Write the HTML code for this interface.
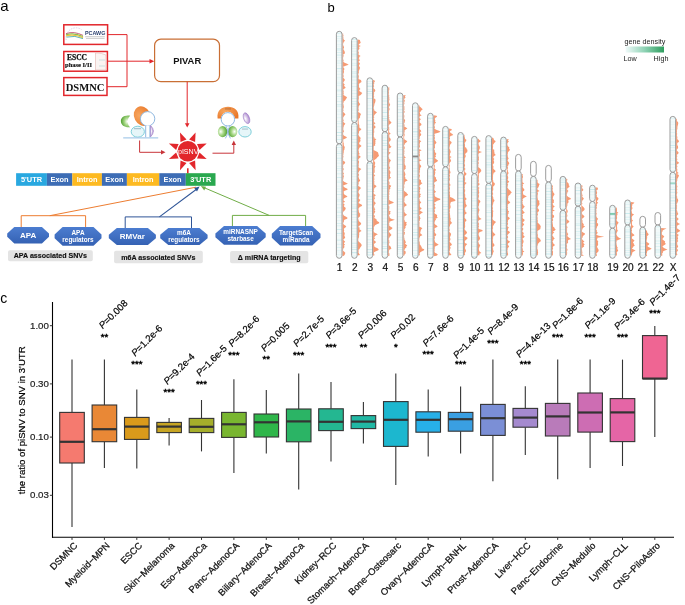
<!DOCTYPE html>
<html><head><meta charset="utf-8"><title>figure</title>
<style>
html,body{margin:0;padding:0;background:#fff;width:685px;height:605px;overflow:hidden}
svg{display:block;will-change:transform}
text{font-family:"Liberation Sans", sans-serif}
</style></head>
<body><svg width="685" height="605" viewBox="0 0 685 605">
<rect width="685" height="605" fill="#fff"/>
<line x1="52.5" y1="302" x2="52.5" y2="537.8" stroke="#000" stroke-width="1.1"/>
<line x1="52.0" y1="537.3" x2="674" y2="537.3" stroke="#000" stroke-width="1.1"/>
<line x1="49.9" y1="325.7" x2="52.5" y2="325.7" stroke="#333" stroke-width="1"/>
<text x="48.9" y="328.8" text-anchor="end" font-size="9.7" fill="#222" stroke="#222" stroke-width="0.2">1.00</text>
<line x1="49.9" y1="383.9" x2="52.5" y2="383.9" stroke="#333" stroke-width="1"/>
<text x="48.9" y="387.0" text-anchor="end" font-size="9.7" fill="#222" stroke="#222" stroke-width="0.2">0.30</text>
<line x1="49.9" y1="437.1" x2="52.5" y2="437.1" stroke="#333" stroke-width="1"/>
<text x="48.9" y="440.2" text-anchor="end" font-size="9.7" fill="#222" stroke="#222" stroke-width="0.2">0.10</text>
<line x1="49.9" y1="495.3" x2="52.5" y2="495.3" stroke="#333" stroke-width="1"/>
<text x="48.9" y="498.4" text-anchor="end" font-size="9.7" fill="#222" stroke="#222" stroke-width="0.2">0.03</text>
<text transform="translate(25.4,420.3) rotate(-90)" text-anchor="middle" font-size="9.6" fill="#000" stroke="#000" stroke-width="0.2">the ratio of piSNV to SNV in 3'UTR</text>
<line x1="72.0" y1="359.6" x2="72.0" y2="412.4" stroke="#333" stroke-width="1.1"/>
<line x1="72.0" y1="463.0" x2="72.0" y2="527.0" stroke="#333" stroke-width="1.1"/>
<rect x="59.7" y="412.4" width="24.6" height="50.6" fill="#F57A6F" stroke="#333" stroke-width="1.1"/>
<line x1="59.7" y1="441.8" x2="84.3" y2="441.8" stroke="#333" stroke-width="2.2"/>
<line x1="72.0" y1="537.3" x2="72.0" y2="539.9" stroke="#333" stroke-width="1"/>
<text transform="translate(78.0,546.2) rotate(-45)" text-anchor="end" font-size="9.4" fill="#111" stroke="#111" stroke-width="0.25">DSMNC</text>
<line x1="104.4" y1="359.6" x2="104.4" y2="405.0" stroke="#333" stroke-width="1.1"/>
<line x1="104.4" y1="441.7" x2="104.4" y2="468.0" stroke="#333" stroke-width="1.1"/>
<rect x="92.1" y="405.0" width="24.6" height="36.7" fill="#E98836" stroke="#333" stroke-width="1.1"/>
<line x1="92.1" y1="429.2" x2="116.7" y2="429.2" stroke="#333" stroke-width="2.2"/>
<line x1="104.4" y1="537.3" x2="104.4" y2="539.9" stroke="#333" stroke-width="1"/>
<text transform="translate(110.4,546.2) rotate(-45)" text-anchor="end" font-size="9.4" fill="#111" stroke="#111" stroke-width="0.25">Myeloid−MPN</text>
<text x="104.4" y="339.6" text-anchor="middle" font-size="9.6" fill="#000" stroke="#000" stroke-width="0.45">**</text>
<text transform="translate(102.8,329.3) rotate(-45)" font-size="9.6" fill="#000" stroke="#000" stroke-width="0.2"><tspan font-style="italic">P</tspan>=0.008</text>
<line x1="136.8" y1="389.6" x2="136.8" y2="417.4" stroke="#333" stroke-width="1.1"/>
<line x1="136.8" y1="439.4" x2="136.8" y2="468.5" stroke="#333" stroke-width="1.1"/>
<rect x="124.5" y="417.4" width="24.6" height="22.0" fill="#DA9A1B" stroke="#333" stroke-width="1.1"/>
<line x1="124.5" y1="426.6" x2="149.1" y2="426.6" stroke="#333" stroke-width="2.2"/>
<line x1="136.8" y1="537.3" x2="136.8" y2="539.9" stroke="#333" stroke-width="1"/>
<text transform="translate(142.8,546.2) rotate(-45)" text-anchor="end" font-size="9.4" fill="#111" stroke="#111" stroke-width="0.25">ESCC</text>
<text x="136.8" y="367.0" text-anchor="middle" font-size="9.6" fill="#000" stroke="#000" stroke-width="0.45">***</text>
<text transform="translate(135.2,356.7) rotate(-45)" font-size="9.6" fill="#000" stroke="#000" stroke-width="0.2"><tspan font-style="italic">P</tspan>=1.2e-6</text>
<line x1="169.1" y1="418.0" x2="169.1" y2="422.4" stroke="#333" stroke-width="1.1"/>
<line x1="169.1" y1="432.6" x2="169.1" y2="445.6" stroke="#333" stroke-width="1.1"/>
<rect x="156.8" y="422.4" width="24.6" height="10.2" fill="#C7A523" stroke="#333" stroke-width="1.1"/>
<line x1="156.8" y1="426.6" x2="181.4" y2="426.6" stroke="#333" stroke-width="2.2"/>
<line x1="169.1" y1="537.3" x2="169.1" y2="539.9" stroke="#333" stroke-width="1"/>
<text transform="translate(175.1,546.2) rotate(-45)" text-anchor="end" font-size="9.4" fill="#111" stroke="#111" stroke-width="0.25">Skin−Melanoma</text>
<text x="169.1" y="395.2" text-anchor="middle" font-size="9.6" fill="#000" stroke="#000" stroke-width="0.45">***</text>
<text transform="translate(167.5,384.9) rotate(-45)" font-size="9.6" fill="#000" stroke="#000" stroke-width="0.2"><tspan font-style="italic">P</tspan>=9.2e-4</text>
<line x1="201.5" y1="400.0" x2="201.5" y2="418.4" stroke="#333" stroke-width="1.1"/>
<line x1="201.5" y1="432.6" x2="201.5" y2="451.4" stroke="#333" stroke-width="1.1"/>
<rect x="189.2" y="418.4" width="24.6" height="14.2" fill="#A5AE2B" stroke="#333" stroke-width="1.1"/>
<line x1="189.2" y1="426.8" x2="213.8" y2="426.8" stroke="#333" stroke-width="2.2"/>
<line x1="201.5" y1="537.3" x2="201.5" y2="539.9" stroke="#333" stroke-width="1"/>
<text transform="translate(207.5,546.2) rotate(-45)" text-anchor="end" font-size="9.4" fill="#111" stroke="#111" stroke-width="0.25">Eso−AdenoCa</text>
<text x="201.5" y="387.0" text-anchor="middle" font-size="9.6" fill="#000" stroke="#000" stroke-width="0.45">***</text>
<text transform="translate(199.9,376.7) rotate(-45)" font-size="9.6" fill="#000" stroke="#000" stroke-width="0.2"><tspan font-style="italic">P</tspan>=1.6e-5</text>
<line x1="233.9" y1="379.2" x2="233.9" y2="412.4" stroke="#333" stroke-width="1.1"/>
<line x1="233.9" y1="437.4" x2="233.9" y2="473.0" stroke="#333" stroke-width="1.1"/>
<rect x="221.6" y="412.4" width="24.6" height="25.0" fill="#79B630" stroke="#333" stroke-width="1.1"/>
<line x1="221.6" y1="424.3" x2="246.2" y2="424.3" stroke="#333" stroke-width="2.2"/>
<line x1="233.9" y1="537.3" x2="233.9" y2="539.9" stroke="#333" stroke-width="1"/>
<text transform="translate(239.9,546.2) rotate(-45)" text-anchor="end" font-size="9.4" fill="#111" stroke="#111" stroke-width="0.25">Panc−AdenoCA</text>
<text x="233.9" y="357.6" text-anchor="middle" font-size="9.6" fill="#000" stroke="#000" stroke-width="0.45">***</text>
<text transform="translate(232.3,347.3) rotate(-45)" font-size="9.6" fill="#000" stroke="#000" stroke-width="0.2"><tspan font-style="italic">P</tspan>=8.2e-6</text>
<line x1="266.3" y1="390.0" x2="266.3" y2="414.0" stroke="#333" stroke-width="1.1"/>
<line x1="266.3" y1="437.0" x2="266.3" y2="453.4" stroke="#333" stroke-width="1.1"/>
<rect x="254.0" y="414.0" width="24.6" height="23.0" fill="#2FB64A" stroke="#333" stroke-width="1.1"/>
<line x1="254.0" y1="422.3" x2="278.6" y2="422.3" stroke="#333" stroke-width="2.2"/>
<line x1="266.3" y1="537.3" x2="266.3" y2="539.9" stroke="#333" stroke-width="1"/>
<text transform="translate(272.3,546.2) rotate(-45)" text-anchor="end" font-size="9.4" fill="#111" stroke="#111" stroke-width="0.25">Biliary−AdenoCA</text>
<text x="266.3" y="362.2" text-anchor="middle" font-size="9.6" fill="#000" stroke="#000" stroke-width="0.45">**</text>
<text transform="translate(264.7,351.9) rotate(-45)" font-size="9.6" fill="#000" stroke="#000" stroke-width="0.2"><tspan font-style="italic">P</tspan>=0.005</text>
<line x1="298.7" y1="373.5" x2="298.7" y2="409.0" stroke="#333" stroke-width="1.1"/>
<line x1="298.7" y1="441.8" x2="298.7" y2="489.6" stroke="#333" stroke-width="1.1"/>
<rect x="286.4" y="409.0" width="24.6" height="32.8" fill="#2BB465" stroke="#333" stroke-width="1.1"/>
<line x1="286.4" y1="421.4" x2="311.0" y2="421.4" stroke="#333" stroke-width="2.2"/>
<line x1="298.7" y1="537.3" x2="298.7" y2="539.9" stroke="#333" stroke-width="1"/>
<text transform="translate(304.7,546.2) rotate(-45)" text-anchor="end" font-size="9.4" fill="#111" stroke="#111" stroke-width="0.25">Breast−AdenoCa</text>
<text x="298.7" y="357.6" text-anchor="middle" font-size="9.6" fill="#000" stroke="#000" stroke-width="0.45">***</text>
<text transform="translate(297.1,347.3) rotate(-45)" font-size="9.6" fill="#000" stroke="#000" stroke-width="0.2"><tspan font-style="italic">P</tspan>=2.7e-5</text>
<line x1="331.0" y1="382.0" x2="331.0" y2="408.8" stroke="#333" stroke-width="1.1"/>
<line x1="331.0" y1="430.6" x2="331.0" y2="461.4" stroke="#333" stroke-width="1.1"/>
<rect x="318.7" y="408.8" width="24.6" height="21.8" fill="#24B791" stroke="#333" stroke-width="1.1"/>
<line x1="318.7" y1="421.8" x2="343.3" y2="421.8" stroke="#333" stroke-width="2.2"/>
<line x1="331.0" y1="537.3" x2="331.0" y2="539.9" stroke="#333" stroke-width="1"/>
<text transform="translate(337.0,546.2) rotate(-45)" text-anchor="end" font-size="9.4" fill="#111" stroke="#111" stroke-width="0.25">Kidney−RCC</text>
<text x="331.0" y="349.6" text-anchor="middle" font-size="9.6" fill="#000" stroke="#000" stroke-width="0.45">***</text>
<text transform="translate(329.4,339.3) rotate(-45)" font-size="9.6" fill="#000" stroke="#000" stroke-width="0.2"><tspan font-style="italic">P</tspan>=3.6e-5</text>
<line x1="363.4" y1="402.0" x2="363.4" y2="415.6" stroke="#333" stroke-width="1.1"/>
<line x1="363.4" y1="428.6" x2="363.4" y2="443.6" stroke="#333" stroke-width="1.1"/>
<rect x="351.1" y="415.6" width="24.6" height="13.0" fill="#21B8A4" stroke="#333" stroke-width="1.1"/>
<line x1="351.1" y1="421.6" x2="375.7" y2="421.6" stroke="#333" stroke-width="2.2"/>
<line x1="363.4" y1="537.3" x2="363.4" y2="539.9" stroke="#333" stroke-width="1"/>
<text transform="translate(369.4,546.2) rotate(-45)" text-anchor="end" font-size="9.4" fill="#111" stroke="#111" stroke-width="0.25">Stomach−AdenoCA</text>
<text x="363.4" y="349.6" text-anchor="middle" font-size="9.6" fill="#000" stroke="#000" stroke-width="0.45">**</text>
<text transform="translate(361.8,339.3) rotate(-45)" font-size="9.6" fill="#000" stroke="#000" stroke-width="0.2"><tspan font-style="italic">P</tspan>=0.006</text>
<line x1="395.8" y1="373.5" x2="395.8" y2="401.6" stroke="#333" stroke-width="1.1"/>
<line x1="395.8" y1="446.4" x2="395.8" y2="485.0" stroke="#333" stroke-width="1.1"/>
<rect x="383.5" y="401.6" width="24.6" height="44.8" fill="#1CB7CF" stroke="#333" stroke-width="1.1"/>
<line x1="383.5" y1="419.8" x2="408.1" y2="419.8" stroke="#333" stroke-width="2.2"/>
<line x1="395.8" y1="537.3" x2="395.8" y2="539.9" stroke="#333" stroke-width="1"/>
<text transform="translate(401.8,546.2) rotate(-45)" text-anchor="end" font-size="9.4" fill="#111" stroke="#111" stroke-width="0.25">Bone−Osteosarc</text>
<text x="395.8" y="349.6" text-anchor="middle" font-size="9.6" fill="#000" stroke="#000" stroke-width="0.45">*</text>
<text transform="translate(394.2,339.3) rotate(-45)" font-size="9.6" fill="#000" stroke="#000" stroke-width="0.2"><tspan font-style="italic">P</tspan>=0.02</text>
<line x1="428.2" y1="389.6" x2="428.2" y2="411.8" stroke="#333" stroke-width="1.1"/>
<line x1="428.2" y1="432.2" x2="428.2" y2="456.6" stroke="#333" stroke-width="1.1"/>
<rect x="415.9" y="411.8" width="24.6" height="20.4" fill="#27B0E8" stroke="#333" stroke-width="1.1"/>
<line x1="415.9" y1="419.8" x2="440.5" y2="419.8" stroke="#333" stroke-width="2.2"/>
<line x1="428.2" y1="537.3" x2="428.2" y2="539.9" stroke="#333" stroke-width="1"/>
<text transform="translate(434.2,546.2) rotate(-45)" text-anchor="end" font-size="9.4" fill="#111" stroke="#111" stroke-width="0.25">Ovary−AdenoCA</text>
<text x="428.2" y="357.2" text-anchor="middle" font-size="9.6" fill="#000" stroke="#000" stroke-width="0.45">***</text>
<text transform="translate(426.6,346.9) rotate(-45)" font-size="9.6" fill="#000" stroke="#000" stroke-width="0.2"><tspan font-style="italic">P</tspan>=7.6e-6</text>
<line x1="460.6" y1="386.4" x2="460.6" y2="412.4" stroke="#333" stroke-width="1.1"/>
<line x1="460.6" y1="431.2" x2="460.6" y2="453.4" stroke="#333" stroke-width="1.1"/>
<rect x="448.3" y="412.4" width="24.6" height="18.8" fill="#3A9FE2" stroke="#333" stroke-width="1.1"/>
<line x1="448.3" y1="419.2" x2="472.9" y2="419.2" stroke="#333" stroke-width="2.2"/>
<line x1="460.6" y1="537.3" x2="460.6" y2="539.9" stroke="#333" stroke-width="1"/>
<text transform="translate(466.6,546.2) rotate(-45)" text-anchor="end" font-size="9.4" fill="#111" stroke="#111" stroke-width="0.25">Lymph−BNHL</text>
<text x="460.6" y="367.2" text-anchor="middle" font-size="9.6" fill="#000" stroke="#000" stroke-width="0.45">***</text>
<text transform="translate(457.0,358.9) rotate(-45)" font-size="9.6" fill="#000" stroke="#000" stroke-width="0.2"><tspan font-style="italic">P</tspan>=1.4e-5</text>
<line x1="492.9" y1="359.6" x2="492.9" y2="404.4" stroke="#333" stroke-width="1.1"/>
<line x1="492.9" y1="435.4" x2="492.9" y2="481.2" stroke="#333" stroke-width="1.1"/>
<rect x="480.6" y="404.4" width="24.6" height="31.0" fill="#7B8FD6" stroke="#333" stroke-width="1.1"/>
<line x1="480.6" y1="418.2" x2="505.2" y2="418.2" stroke="#333" stroke-width="2.2"/>
<line x1="492.9" y1="537.3" x2="492.9" y2="539.9" stroke="#333" stroke-width="1"/>
<text transform="translate(498.9,546.2) rotate(-45)" text-anchor="end" font-size="9.4" fill="#111" stroke="#111" stroke-width="0.25">Prost−AdenoCA</text>
<text x="492.9" y="345.6" text-anchor="middle" font-size="9.6" fill="#000" stroke="#000" stroke-width="0.45">***</text>
<text transform="translate(491.3,335.3) rotate(-45)" font-size="9.6" fill="#000" stroke="#000" stroke-width="0.2"><tspan font-style="italic">P</tspan>=8.4e-9</text>
<line x1="525.3" y1="386.2" x2="525.3" y2="408.4" stroke="#333" stroke-width="1.1"/>
<line x1="525.3" y1="427.2" x2="525.3" y2="455.0" stroke="#333" stroke-width="1.1"/>
<rect x="513.0" y="408.4" width="24.6" height="18.8" fill="#A58ACF" stroke="#333" stroke-width="1.1"/>
<line x1="513.0" y1="417.6" x2="537.6" y2="417.6" stroke="#333" stroke-width="2.2"/>
<line x1="525.3" y1="537.3" x2="525.3" y2="539.9" stroke="#333" stroke-width="1"/>
<text transform="translate(531.3,546.2) rotate(-45)" text-anchor="end" font-size="9.4" fill="#111" stroke="#111" stroke-width="0.25">Liver−HCC</text>
<text x="525.3" y="367.2" text-anchor="middle" font-size="9.6" fill="#000" stroke="#000" stroke-width="0.45">***</text>
<text transform="translate(519.7,357.9) rotate(-45)" font-size="9.6" fill="#000" stroke="#000" stroke-width="0.2"><tspan font-style="italic">P</tspan>=4.4e-13</text>
<line x1="557.7" y1="359.5" x2="557.7" y2="403.4" stroke="#333" stroke-width="1.1"/>
<line x1="557.7" y1="436.0" x2="557.7" y2="479.2" stroke="#333" stroke-width="1.1"/>
<rect x="545.4" y="403.4" width="24.6" height="32.6" fill="#B97BBA" stroke="#333" stroke-width="1.1"/>
<line x1="545.4" y1="416.4" x2="570.0" y2="416.4" stroke="#333" stroke-width="2.2"/>
<line x1="557.7" y1="537.3" x2="557.7" y2="539.9" stroke="#333" stroke-width="1"/>
<text transform="translate(563.7,546.2) rotate(-45)" text-anchor="end" font-size="9.4" fill="#111" stroke="#111" stroke-width="0.25">Panc−Endocrine</text>
<text x="557.7" y="339.6" text-anchor="middle" font-size="9.6" fill="#000" stroke="#000" stroke-width="0.45">***</text>
<text transform="translate(556.1,329.3) rotate(-45)" font-size="9.6" fill="#000" stroke="#000" stroke-width="0.2"><tspan font-style="italic">P</tspan>=1.8e-6</text>
<line x1="590.1" y1="359.5" x2="590.1" y2="393.0" stroke="#333" stroke-width="1.1"/>
<line x1="590.1" y1="432.1" x2="590.1" y2="468.0" stroke="#333" stroke-width="1.1"/>
<rect x="577.8" y="393.0" width="24.6" height="39.1" fill="#CD6DB3" stroke="#333" stroke-width="1.1"/>
<line x1="577.8" y1="412.5" x2="602.4" y2="412.5" stroke="#333" stroke-width="2.2"/>
<line x1="590.1" y1="537.3" x2="590.1" y2="539.9" stroke="#333" stroke-width="1"/>
<text transform="translate(596.1,546.2) rotate(-45)" text-anchor="end" font-size="9.4" fill="#111" stroke="#111" stroke-width="0.25">CNS−Medullo</text>
<text x="590.1" y="339.6" text-anchor="middle" font-size="9.6" fill="#000" stroke="#000" stroke-width="0.45">***</text>
<text transform="translate(588.5,329.3) rotate(-45)" font-size="9.6" fill="#000" stroke="#000" stroke-width="0.2"><tspan font-style="italic">P</tspan>=1.1e-9</text>
<line x1="622.5" y1="359.6" x2="622.5" y2="398.6" stroke="#333" stroke-width="1.1"/>
<line x1="622.5" y1="441.6" x2="622.5" y2="466.0" stroke="#333" stroke-width="1.1"/>
<rect x="610.2" y="398.6" width="24.6" height="43.0" fill="#E565A6" stroke="#333" stroke-width="1.1"/>
<line x1="610.2" y1="412.4" x2="634.8" y2="412.4" stroke="#333" stroke-width="2.2"/>
<line x1="622.5" y1="537.3" x2="622.5" y2="539.9" stroke="#333" stroke-width="1"/>
<text transform="translate(628.5,546.2) rotate(-45)" text-anchor="end" font-size="9.4" fill="#111" stroke="#111" stroke-width="0.25">Lymph−CLL</text>
<text x="622.5" y="339.6" text-anchor="middle" font-size="9.6" fill="#000" stroke="#000" stroke-width="0.45">***</text>
<text transform="translate(617.9,330.3) rotate(-45)" font-size="9.6" fill="#000" stroke="#000" stroke-width="0.2"><tspan font-style="italic">P</tspan>=3.4e-6</text>
<line x1="654.8" y1="326.0" x2="654.8" y2="335.6" stroke="#333" stroke-width="1.1"/>
<line x1="654.8" y1="378.6" x2="654.8" y2="437.0" stroke="#333" stroke-width="1.1"/>
<rect x="642.5" y="335.6" width="24.6" height="43.0" fill="#EF6593" stroke="#333" stroke-width="1.1"/>
<line x1="642.5" y1="378.6" x2="667.1" y2="378.6" stroke="#333" stroke-width="2.2"/>
<line x1="654.8" y1="537.3" x2="654.8" y2="539.9" stroke="#333" stroke-width="1"/>
<text transform="translate(660.8,546.2) rotate(-45)" text-anchor="end" font-size="9.4" fill="#111" stroke="#111" stroke-width="0.25">CNS−PiloAstro</text>
<text x="654.8" y="316.2" text-anchor="middle" font-size="9.6" fill="#000" stroke="#000" stroke-width="0.45">***</text>
<text transform="translate(653.2,305.9) rotate(-45)" font-size="9.6" fill="#000" stroke="#000" stroke-width="0.2"><tspan font-style="italic">P</tspan>=1.4e-7</text>
<text x="0.3" y="302.6" font-size="14" fill="#000">c</text>
<defs><clipPath id="cp0_0"><rect x="336.4" y="31.3" width="5.6" height="112.5" rx="2.8"/></clipPath><clipPath id="cp0_1"><rect x="336.4" y="143.8" width="5.6" height="114.5" rx="2.8"/></clipPath><clipPath id="cp1_0"><rect x="351.6" y="37.6" width="5.6" height="84.9" rx="2.8"/></clipPath><clipPath id="cp1_1"><rect x="351.6" y="122.5" width="5.6" height="135.8" rx="2.8"/></clipPath><clipPath id="cp2_0"><rect x="367.0" y="77.8" width="5.6" height="83.7" rx="2.8"/></clipPath><clipPath id="cp2_1"><rect x="367.0" y="161.5" width="5.6" height="96.8" rx="2.8"/></clipPath><clipPath id="cp3_0"><rect x="382.1" y="85.2" width="5.6" height="46.5" rx="2.8"/></clipPath><clipPath id="cp3_1"><rect x="382.1" y="131.7" width="5.6" height="126.6" rx="2.8"/></clipPath><clipPath id="cp4_0"><rect x="397.3" y="93.0" width="5.6" height="44.0" rx="2.8"/></clipPath><clipPath id="cp4_1"><rect x="397.3" y="137.0" width="5.6" height="121.3" rx="2.8"/></clipPath><clipPath id="cp5_0"><rect x="412.5" y="102.8" width="5.6" height="155.5" rx="2.8"/></clipPath><clipPath id="cp6_0"><rect x="427.6" y="113.3" width="5.6" height="53.7" rx="2.8"/></clipPath><clipPath id="cp6_1"><rect x="427.6" y="167.0" width="5.6" height="91.3" rx="2.8"/></clipPath><clipPath id="cp7_0"><rect x="442.7" y="126.4" width="5.6" height="40.4" rx="2.8"/></clipPath><clipPath id="cp7_1"><rect x="442.7" y="166.8" width="5.6" height="91.5" rx="2.8"/></clipPath><clipPath id="cp8_0"><rect x="457.8" y="132.5" width="5.6" height="40.3" rx="2.8"/></clipPath><clipPath id="cp8_1"><rect x="457.8" y="172.8" width="5.6" height="85.5" rx="2.8"/></clipPath><clipPath id="cp9_0"><rect x="471.6" y="136.4" width="5.6" height="37.2" rx="2.8"/></clipPath><clipPath id="cp9_1"><rect x="471.6" y="173.6" width="5.6" height="84.7" rx="2.8"/></clipPath><clipPath id="cp10_0"><rect x="485.9" y="135.6" width="5.6" height="47.8" rx="2.8"/></clipPath><clipPath id="cp10_1"><rect x="485.9" y="183.4" width="5.6" height="74.9" rx="2.8"/></clipPath><clipPath id="cp11_0"><rect x="500.7" y="137.1" width="5.6" height="33.9" rx="2.8"/></clipPath><clipPath id="cp11_1"><rect x="500.7" y="171.0" width="5.6" height="87.3" rx="2.8"/></clipPath><clipPath id="cp12_0"><rect x="515.6" y="154.4" width="5.6" height="16.6" rx="2.8"/></clipPath><clipPath id="cp12_1"><rect x="515.6" y="171.0" width="5.6" height="87.3" rx="2.8"/></clipPath><clipPath id="cp13_0"><rect x="530.6" y="161.3" width="5.6" height="15.1" rx="2.8"/></clipPath><clipPath id="cp13_1"><rect x="530.6" y="176.4" width="5.6" height="81.9" rx="2.8"/></clipPath><clipPath id="cp14_0"><rect x="545.7" y="165.4" width="5.6" height="16.6" rx="2.8"/></clipPath><clipPath id="cp14_1"><rect x="545.7" y="182.0" width="5.6" height="76.3" rx="2.8"/></clipPath><clipPath id="cp15_0"><rect x="560.1" y="176.4" width="5.6" height="33.9" rx="2.8"/></clipPath><clipPath id="cp15_1"><rect x="560.1" y="210.3" width="5.6" height="48.0" rx="2.8"/></clipPath><clipPath id="cp16_0"><rect x="575.2" y="183.0" width="5.6" height="23.2" rx="2.8"/></clipPath><clipPath id="cp16_1"><rect x="575.2" y="206.2" width="5.6" height="52.1" rx="2.8"/></clipPath><clipPath id="cp17_0"><rect x="589.6" y="185.2" width="5.6" height="16.3" rx="2.8"/></clipPath><clipPath id="cp17_1"><rect x="589.6" y="201.5" width="5.6" height="56.8" rx="2.8"/></clipPath><clipPath id="cp18_0"><rect x="609.7" y="205.3" width="5.6" height="22.9" rx="2.8"/></clipPath><clipPath id="cp18_1"><rect x="609.7" y="228.2" width="5.6" height="30.1" rx="2.8"/></clipPath><clipPath id="cp19_0"><rect x="624.8" y="200.0" width="5.6" height="25.0" rx="2.8"/></clipPath><clipPath id="cp19_1"><rect x="624.8" y="225.0" width="5.6" height="33.3" rx="2.8"/></clipPath><clipPath id="cp20_0"><rect x="639.9" y="216.3" width="5.6" height="10.9" rx="2.8"/></clipPath><clipPath id="cp20_1"><rect x="639.9" y="227.2" width="5.6" height="31.1" rx="2.8"/></clipPath><clipPath id="cp21_0"><rect x="655.0" y="212.5" width="5.6" height="12.5" rx="2.8"/></clipPath><clipPath id="cp21_1"><rect x="655.0" y="225.0" width="5.6" height="33.3" rx="2.8"/></clipPath><clipPath id="cp22_0"><rect x="670.0" y="116.4" width="5.6" height="55.9" rx="2.8"/></clipPath><clipPath id="cp22_1"><rect x="670.0" y="172.3" width="5.6" height="86.0" rx="2.8"/></clipPath></defs>
<text x="327.5" y="12" font-size="13" fill="#000">b</text>
<polygon points="342.5,33.3 343.3,33.8 343.1,34.8 343.6,35.8 343.1,36.8 343.5,37.8 343.4,38.8 343.9,39.8 345.1,40.8 343.9,41.8 343.5,42.8 343.1,43.8 343.1,44.8 343.4,45.8 343.9,46.8 344.1,47.8 343.4,48.8 343.6,49.8 344.3,50.8 344.7,51.8 344.9,52.8 344.6,53.8 343.0,54.8 343.8,55.8 343.3,56.8 343.1,57.8 343.1,58.8 343.3,59.8 343.7,60.8 343.2,61.8 344.6,62.8 347.1,63.8 348.7,64.8 345.7,65.8 343.1,66.8 343.7,67.8 344.4,68.8 344.2,69.8 343.7,70.8 344.1,71.8 343.8,72.8 343.4,73.8 343.3,74.8 343.7,75.8 343.6,76.8 343.2,77.8 344.2,78.8 344.9,79.8 344.5,80.8 343.7,81.8 343.3,82.8 343.9,83.8 344.9,84.8 343.8,85.8 345.0,86.8 345.7,87.8 344.3,88.8 343.0,89.8 343.6,90.8 343.7,91.8 343.5,92.8 343.8,93.8 343.3,94.8 344.6,95.8 346.4,96.8 347.1,97.8 346.1,98.8 345.6,99.8 344.8,100.8 343.5,101.8 343.6,102.8 343.1,103.8 343.6,104.8 343.6,105.8 343.9,106.8 343.7,107.8 343.3,108.8 343.3,109.8 343.6,110.8 343.0,111.8 344.0,112.8 345.0,113.8 345.4,114.8 344.2,115.8 343.7,116.8 343.1,117.8 343.2,118.8 343.4,119.8 343.8,120.8 343.1,121.8 344.2,122.8 345.4,123.8 344.6,124.8 343.7,125.8 343.8,126.8 343.3,127.8 343.4,128.8 343.3,129.8 343.8,130.8 343.9,131.8 343.1,132.8 343.2,133.8 343.2,134.8 344.1,135.8 346.2,136.8 347.0,137.8 344.9,138.8 343.0,139.8 343.4,140.8 343.3,141.8 343.5,142.8 343.9,143.8 343.7,144.8 344.0,145.8 344.6,146.8 344.8,147.8 344.4,148.8 344.4,149.8 343.7,150.8 343.8,151.8 343.7,152.8 343.4,153.8 343.4,154.8 343.1,155.8 343.6,156.8 343.1,157.8 343.1,158.8 343.2,159.8 343.2,160.8 344.9,161.8 345.2,162.8 344.5,163.8 343.3,164.8 343.1,165.8 343.3,166.8 343.0,167.8 343.8,168.8 343.6,169.8 343.1,170.8 343.2,171.8 343.3,172.8 344.1,173.8 343.1,174.8 343.8,175.8 343.9,176.8 343.4,177.8 343.4,178.8 343.1,179.8 343.1,180.8 344.1,181.8 346.1,182.8 347.9,183.8 345.0,184.8 343.0,185.8 343.9,186.8 345.0,187.8 347.3,188.8 347.6,189.8 344.7,190.8 343.5,191.8 343.9,192.8 343.8,193.8 344.7,194.8 346.5,195.8 347.5,196.8 345.1,197.8 343.7,198.8 343.5,199.8 343.7,200.8 345.2,201.8 343.2,202.8 343.7,203.8 344.8,204.8 343.8,205.8 344.2,206.8 345.6,207.8 345.7,208.8 345.2,209.8 344.4,210.8 343.3,211.8 343.0,212.8 343.0,213.8 343.3,214.8 344.1,215.8 346.1,216.8 347.5,217.8 347.2,218.8 344.4,219.8 343.9,220.8 343.9,221.8 343.3,222.8 343.2,223.8 344.0,224.8 345.6,225.8 346.3,226.8 345.0,227.8 343.8,228.8 344.0,229.8 344.2,230.8 343.8,231.8 344.6,232.8 344.8,233.8 344.5,234.8 344.3,235.8 344.9,236.8 345.2,237.8 344.2,238.8 343.2,239.8 344.2,240.8 345.2,241.8 344.2,242.8 343.9,243.8 345.2,244.8 343.8,245.8 344.6,246.8 344.1,247.8 343.2,248.8 343.1,249.8 343.1,250.8 344.3,251.8 345.3,252.8 345.1,253.8 344.7,254.8 343.9,255.8 342.5,256.3" fill="#F58A5C" fill-opacity="0.85"/>
<g clip-path="url(#cp0_0)"><rect x="336.4" y="31.3" width="5.6" height="112.5" fill="#F3FAFA"/><rect x="336.4" y="32.8" width="5.6" height="0.9" fill="#D4EFF1"/><rect x="336.4" y="36.4" width="5.6" height="0.5" fill="#CBECEF"/><rect x="336.4" y="38.1" width="5.6" height="1.0" fill="#E5F6F7"/><rect x="336.4" y="40.4" width="5.6" height="1.1" fill="#E5F6F7"/><rect x="336.4" y="44.2" width="5.6" height="0.5" fill="#DDF3F4"/><rect x="336.4" y="45.8" width="5.6" height="0.7" fill="#E5F6F7"/><rect x="336.4" y="48.1" width="5.6" height="0.5" fill="#CBECEF"/><rect x="336.4" y="49.6" width="5.6" height="0.7" fill="#CBECEF"/><rect x="336.4" y="52.3" width="5.6" height="0.7" fill="#D4EFF1"/><rect x="336.4" y="54.7" width="5.6" height="0.8" fill="#CBECEF"/><rect x="336.4" y="57.4" width="5.6" height="0.4" fill="#DDF3F4"/><rect x="336.4" y="60.7" width="5.6" height="0.5" fill="#CBECEF"/><rect x="336.4" y="62.6" width="5.6" height="1.0" fill="#DDF3F4"/><rect x="336.4" y="65.0" width="5.6" height="0.5" fill="#E5F6F7"/><rect x="336.4" y="68.2" width="5.6" height="0.9" fill="#CBECEF"/><rect x="336.4" y="70.8" width="5.6" height="0.8" fill="#E5F6F7"/><rect x="336.4" y="73.9" width="5.6" height="0.5" fill="#D4EFF1"/><rect x="336.4" y="76.9" width="5.6" height="0.5" fill="#D4EFF1"/><rect x="336.4" y="78.8" width="5.6" height="0.4" fill="#D4EFF1"/><rect x="336.4" y="81.8" width="5.6" height="0.5" fill="#DDF3F4"/><rect x="336.4" y="83.2" width="5.6" height="1.0" fill="#E5F6F7"/><rect x="336.4" y="85.0" width="5.6" height="1.1" fill="#E5F6F7"/><rect x="336.4" y="89.0" width="5.6" height="0.6" fill="#DDF3F4"/><rect x="336.4" y="90.4" width="5.6" height="0.9" fill="#D4EFF1"/><rect x="336.4" y="94.3" width="5.6" height="0.6" fill="#DDF3F4"/><rect x="336.4" y="96.1" width="5.6" height="0.6" fill="#CBECEF"/><rect x="336.4" y="98.7" width="5.6" height="0.5" fill="#E5F6F7"/><rect x="336.4" y="101.1" width="5.6" height="0.5" fill="#CBECEF"/><rect x="336.4" y="104.2" width="5.6" height="1.1" fill="#D4EFF1"/><rect x="336.4" y="106.2" width="5.6" height="0.9" fill="#DDF3F4"/><rect x="336.4" y="109.0" width="5.6" height="0.6" fill="#E5F6F7"/><rect x="336.4" y="110.6" width="5.6" height="1.0" fill="#E5F6F7"/><rect x="336.4" y="113.8" width="5.6" height="0.8" fill="#E5F6F7"/><rect x="336.4" y="117.5" width="5.6" height="0.6" fill="#DDF3F4"/><rect x="336.4" y="121.1" width="5.6" height="0.6" fill="#DDF3F4"/><rect x="336.4" y="123.5" width="5.6" height="0.6" fill="#D4EFF1"/><rect x="336.4" y="126.7" width="5.6" height="0.4" fill="#CBECEF"/><rect x="336.4" y="128.9" width="5.6" height="0.4" fill="#E5F6F7"/><rect x="336.4" y="132.0" width="5.6" height="0.9" fill="#CBECEF"/><rect x="336.4" y="135.0" width="5.6" height="0.9" fill="#D4EFF1"/><rect x="336.4" y="137.7" width="5.6" height="0.5" fill="#E5F6F7"/><rect x="336.4" y="139.0" width="5.6" height="0.7" fill="#CBECEF"/></g>
<rect x="336.4" y="31.3" width="5.6" height="112.5" rx="2.8" fill="none" stroke="#979797" stroke-width="0.95"/>
<g clip-path="url(#cp0_1)"><rect x="336.4" y="143.8" width="5.6" height="114.5" fill="#F3FAFA"/><rect x="336.4" y="145.3" width="5.6" height="0.8" fill="#DDF3F4"/><rect x="336.4" y="147.0" width="5.6" height="1.0" fill="#DDF3F4"/><rect x="336.4" y="149.6" width="5.6" height="0.4" fill="#E5F6F7"/><rect x="336.4" y="150.9" width="5.6" height="0.6" fill="#DDF3F4"/><rect x="336.4" y="152.9" width="5.6" height="0.9" fill="#D4EFF1"/><rect x="336.4" y="155.2" width="5.6" height="0.5" fill="#E5F6F7"/><rect x="336.4" y="157.8" width="5.6" height="0.7" fill="#CBECEF"/><rect x="336.4" y="159.9" width="5.6" height="0.6" fill="#DDF3F4"/><rect x="336.4" y="162.7" width="5.6" height="0.9" fill="#E5F6F7"/><rect x="336.4" y="166.1" width="5.6" height="0.9" fill="#E5F6F7"/><rect x="336.4" y="168.1" width="5.6" height="0.9" fill="#DDF3F4"/><rect x="336.4" y="169.9" width="5.6" height="1.0" fill="#E5F6F7"/><rect x="336.4" y="173.3" width="5.6" height="1.0" fill="#DDF3F4"/><rect x="336.4" y="177.1" width="5.6" height="0.9" fill="#D4EFF1"/><rect x="336.4" y="180.7" width="5.6" height="0.8" fill="#DDF3F4"/><rect x="336.4" y="182.5" width="5.6" height="0.4" fill="#CBECEF"/><rect x="336.4" y="185.8" width="5.6" height="0.7" fill="#E5F6F7"/><rect x="336.4" y="188.5" width="5.6" height="0.8" fill="#DDF3F4"/><rect x="336.4" y="191.2" width="5.6" height="0.4" fill="#D4EFF1"/><rect x="336.4" y="194.0" width="5.6" height="0.8" fill="#D4EFF1"/><rect x="336.4" y="197.0" width="5.6" height="0.4" fill="#E5F6F7"/><rect x="336.4" y="198.9" width="5.6" height="0.5" fill="#CBECEF"/><rect x="336.4" y="200.6" width="5.6" height="0.9" fill="#DDF3F4"/><rect x="336.4" y="204.0" width="5.6" height="1.1" fill="#E5F6F7"/><rect x="336.4" y="207.7" width="5.6" height="0.5" fill="#CBECEF"/><rect x="336.4" y="210.7" width="5.6" height="0.8" fill="#DDF3F4"/><rect x="336.4" y="212.5" width="5.6" height="0.5" fill="#CBECEF"/><rect x="336.4" y="215.2" width="5.6" height="0.9" fill="#DDF3F4"/><rect x="336.4" y="216.9" width="5.6" height="0.4" fill="#CBECEF"/><rect x="336.4" y="220.3" width="5.6" height="0.5" fill="#DDF3F4"/><rect x="336.4" y="223.1" width="5.6" height="0.6" fill="#CBECEF"/><rect x="336.4" y="225.5" width="5.6" height="0.7" fill="#D4EFF1"/><rect x="336.4" y="229.2" width="5.6" height="0.8" fill="#CBECEF"/><rect x="336.4" y="232.9" width="5.6" height="1.1" fill="#D4EFF1"/><rect x="336.4" y="235.4" width="5.6" height="0.5" fill="#E5F6F7"/><rect x="336.4" y="238.9" width="5.6" height="0.7" fill="#DDF3F4"/><rect x="336.4" y="240.5" width="5.6" height="0.5" fill="#CBECEF"/><rect x="336.4" y="243.9" width="5.6" height="0.5" fill="#CBECEF"/><rect x="336.4" y="247.1" width="5.6" height="0.9" fill="#DDF3F4"/><rect x="336.4" y="249.9" width="5.6" height="1.0" fill="#E5F6F7"/><rect x="336.4" y="251.8" width="5.6" height="0.4" fill="#E5F6F7"/><rect x="336.4" y="254.5" width="5.6" height="0.7" fill="#DDF3F4"/></g>
<rect x="336.4" y="143.8" width="5.6" height="114.5" rx="2.8" fill="none" stroke="#979797" stroke-width="0.95"/>
<text x="339.6" y="270.8" text-anchor="middle" font-size="10.1" fill="#111" stroke="#111" stroke-width="0.2">1</text>
<polygon points="357.7,39.6 360.1,40.1 359.9,41.1 360.7,42.1 360.5,43.1 359.2,44.1 358.6,45.1 360.8,46.1 358.8,47.1 359.5,48.1 359.3,49.1 358.4,50.1 358.3,51.1 358.6,52.1 359.0,53.1 358.3,54.1 359.0,55.1 360.6,56.1 359.0,57.1 359.4,58.1 358.6,59.1 360.1,60.1 359.1,61.1 358.4,62.1 359.7,63.1 359.8,64.1 359.1,65.1 359.0,66.1 359.6,67.1 360.1,68.1 359.5,69.1 359.4,70.1 358.6,71.1 359.0,72.1 358.7,73.1 358.4,74.1 358.3,75.1 359.0,76.1 358.6,77.1 358.8,78.1 358.4,79.1 360.9,80.1 361.3,81.1 361.5,82.1 360.0,83.1 358.9,84.1 358.9,85.1 359.1,86.1 358.8,87.1 359.7,88.1 360.4,89.1 359.4,90.1 359.3,91.1 360.8,92.1 362.3,93.1 361.5,94.1 360.7,95.1 358.8,96.1 358.7,97.1 358.9,98.1 358.7,99.1 358.6,100.1 358.5,101.1 358.9,102.1 359.2,103.1 360.2,104.1 359.7,105.1 358.8,106.1 358.7,107.1 358.5,108.1 358.5,109.1 358.9,110.1 358.4,111.1 358.2,112.1 360.0,113.1 360.8,114.1 360.8,115.1 359.9,116.1 360.2,117.1 359.7,118.1 358.6,119.1 358.7,120.1 358.5,121.1 358.8,122.1 358.7,123.1 358.9,124.1 359.2,125.1 359.4,126.1 359.2,127.1 359.7,128.1 361.4,129.1 360.9,130.1 359.3,131.1 358.9,132.1 359.1,133.1 358.3,134.1 358.6,135.1 359.0,136.1 359.8,137.1 360.8,138.1 360.3,139.1 360.2,140.1 360.7,141.1 359.6,142.1 359.3,143.1 359.0,144.1 360.5,145.1 361.5,146.1 360.4,147.1 359.1,148.1 359.1,149.1 358.3,150.1 358.9,151.1 358.8,152.1 359.0,153.1 359.8,154.1 358.3,155.1 360.0,156.1 360.8,157.1 359.5,158.1 358.7,159.1 358.2,160.1 358.8,161.1 359.1,162.1 358.8,163.1 358.7,164.1 358.6,165.1 358.9,166.1 358.3,167.1 359.5,168.1 361.3,169.1 360.3,170.1 359.2,171.1 358.9,172.1 358.2,173.1 358.7,174.1 359.1,175.1 358.5,176.1 358.5,177.1 359.0,178.1 359.1,179.1 360.1,180.1 360.0,181.1 358.7,182.1 358.6,183.1 358.8,184.1 358.2,185.1 358.4,186.1 360.0,187.1 361.0,188.1 360.2,189.1 359.1,190.1 358.6,191.1 358.5,192.1 358.6,193.1 359.3,194.1 359.8,195.1 359.3,196.1 359.2,197.1 358.5,198.1 359.1,199.1 360.4,200.1 359.6,201.1 359.1,202.1 358.4,203.1 360.5,204.1 362.1,205.1 361.9,206.1 359.7,207.1 359.0,208.1 358.3,209.1 358.8,210.1 358.7,211.1 359.0,212.1 359.3,213.1 360.5,214.1 359.7,215.1 360.3,216.1 359.2,217.1 358.2,218.1 358.2,219.1 358.7,220.1 358.7,221.1 359.9,222.1 361.0,223.1 361.1,224.1 360.3,225.1 359.0,226.1 358.3,227.1 360.1,228.1 359.0,229.1 360.5,230.1 361.5,231.1 359.8,232.1 359.0,233.1 359.3,234.1 359.2,235.1 359.0,236.1 359.1,237.1 358.6,238.1 358.3,239.1 358.3,240.1 358.3,241.1 359.1,242.1 360.4,243.1 361.1,244.1 361.8,245.1 361.4,246.1 360.7,247.1 359.9,248.1 359.6,249.1 358.3,250.1 358.8,251.1 358.4,252.1 358.7,253.1 359.3,254.1 360.0,255.1 357.7,255.6" fill="#F58A5C" fill-opacity="0.85"/>
<g clip-path="url(#cp1_0)"><rect x="351.6" y="37.6" width="5.6" height="84.9" fill="#F3FAFA"/><rect x="351.6" y="39.1" width="5.6" height="0.6" fill="#CBECEF"/><rect x="351.6" y="41.3" width="5.6" height="0.9" fill="#DDF3F4"/><rect x="351.6" y="44.0" width="5.6" height="0.5" fill="#DDF3F4"/><rect x="351.6" y="45.7" width="5.6" height="1.0" fill="#DDF3F4"/><rect x="351.6" y="48.2" width="5.6" height="0.7" fill="#DDF3F4"/><rect x="351.6" y="50.8" width="5.6" height="0.6" fill="#D4EFF1"/><rect x="351.6" y="53.6" width="5.6" height="1.1" fill="#D4EFF1"/><rect x="351.6" y="55.5" width="5.6" height="1.0" fill="#DDF3F4"/><rect x="351.6" y="59.2" width="5.6" height="1.0" fill="#D4EFF1"/><rect x="351.6" y="62.9" width="5.6" height="0.6" fill="#D4EFF1"/><rect x="351.6" y="64.7" width="5.6" height="1.1" fill="#DDF3F4"/><rect x="351.6" y="68.7" width="5.6" height="0.7" fill="#DDF3F4"/><rect x="351.6" y="71.1" width="5.6" height="0.6" fill="#D4EFF1"/><rect x="351.6" y="72.7" width="5.6" height="0.8" fill="#CBECEF"/><rect x="351.6" y="74.8" width="5.6" height="0.7" fill="#DDF3F4"/><rect x="351.6" y="76.4" width="5.6" height="1.1" fill="#D4EFF1"/><rect x="351.6" y="79.6" width="5.6" height="0.9" fill="#DDF3F4"/><rect x="351.6" y="83.0" width="5.6" height="1.0" fill="#E5F6F7"/><rect x="351.6" y="86.3" width="5.6" height="0.5" fill="#CBECEF"/><rect x="351.6" y="87.8" width="5.6" height="0.4" fill="#E5F6F7"/><rect x="351.6" y="90.2" width="5.6" height="0.4" fill="#D4EFF1"/><rect x="351.6" y="93.2" width="5.6" height="0.9" fill="#DDF3F4"/><rect x="351.6" y="96.3" width="5.6" height="0.5" fill="#DDF3F4"/><rect x="351.6" y="98.4" width="5.6" height="0.6" fill="#CBECEF"/><rect x="351.6" y="101.3" width="5.6" height="0.7" fill="#D4EFF1"/><rect x="351.6" y="103.5" width="5.6" height="0.8" fill="#CBECEF"/><rect x="351.6" y="106.0" width="5.6" height="0.4" fill="#CBECEF"/><rect x="351.6" y="108.6" width="5.6" height="0.7" fill="#E5F6F7"/><rect x="351.6" y="110.5" width="5.6" height="0.4" fill="#DDF3F4"/><rect x="351.6" y="112.7" width="5.6" height="1.0" fill="#E5F6F7"/><rect x="351.6" y="115.7" width="5.6" height="0.7" fill="#DDF3F4"/><rect x="351.6" y="117.5" width="5.6" height="0.4" fill="#DDF3F4"/><rect x="351.6" y="120.1" width="5.6" height="1.0" fill="#D4EFF1"/></g>
<rect x="351.6" y="37.6" width="5.6" height="84.9" rx="2.8" fill="none" stroke="#979797" stroke-width="0.95"/>
<g clip-path="url(#cp1_1)"><rect x="351.6" y="122.5" width="5.6" height="135.8" fill="#F3FAFA"/><rect x="351.6" y="124.0" width="5.6" height="1.0" fill="#DDF3F4"/><rect x="351.6" y="126.2" width="5.6" height="0.6" fill="#DDF3F4"/><rect x="351.6" y="129.6" width="5.6" height="0.5" fill="#E5F6F7"/><rect x="351.6" y="132.5" width="5.6" height="1.0" fill="#DDF3F4"/><rect x="351.6" y="135.0" width="5.6" height="1.0" fill="#D4EFF1"/><rect x="351.6" y="138.9" width="5.6" height="0.7" fill="#D4EFF1"/><rect x="351.6" y="141.8" width="5.6" height="0.8" fill="#D4EFF1"/><rect x="351.6" y="145.4" width="5.6" height="0.8" fill="#DDF3F4"/><rect x="351.6" y="148.4" width="5.6" height="1.0" fill="#E5F6F7"/><rect x="351.6" y="151.6" width="5.6" height="0.5" fill="#E5F6F7"/><rect x="351.6" y="153.3" width="5.6" height="0.6" fill="#E5F6F7"/><rect x="351.6" y="156.8" width="5.6" height="0.5" fill="#CBECEF"/><rect x="351.6" y="158.3" width="5.6" height="0.6" fill="#DDF3F4"/><rect x="351.6" y="159.8" width="5.6" height="0.8" fill="#D4EFF1"/><rect x="351.6" y="162.9" width="5.6" height="0.6" fill="#E5F6F7"/><rect x="351.6" y="165.6" width="5.6" height="0.8" fill="#CBECEF"/><rect x="351.6" y="168.6" width="5.6" height="0.6" fill="#DDF3F4"/><rect x="351.6" y="171.0" width="5.6" height="0.9" fill="#E5F6F7"/><rect x="351.6" y="173.7" width="5.6" height="0.5" fill="#D4EFF1"/><rect x="351.6" y="176.4" width="5.6" height="0.7" fill="#DDF3F4"/><rect x="351.6" y="178.9" width="5.6" height="0.8" fill="#E5F6F7"/><rect x="351.6" y="182.4" width="5.6" height="1.0" fill="#E5F6F7"/><rect x="351.6" y="184.4" width="5.6" height="0.5" fill="#E5F6F7"/><rect x="351.6" y="186.5" width="5.6" height="1.0" fill="#D4EFF1"/><rect x="351.6" y="188.4" width="5.6" height="0.5" fill="#CBECEF"/><rect x="351.6" y="191.4" width="5.6" height="0.8" fill="#D4EFF1"/><rect x="351.6" y="194.6" width="5.6" height="1.0" fill="#DDF3F4"/><rect x="351.6" y="196.5" width="5.6" height="0.4" fill="#D4EFF1"/><rect x="351.6" y="198.1" width="5.6" height="1.1" fill="#E5F6F7"/><rect x="351.6" y="200.7" width="5.6" height="1.0" fill="#DDF3F4"/><rect x="351.6" y="203.9" width="5.6" height="0.9" fill="#DDF3F4"/><rect x="351.6" y="205.8" width="5.6" height="0.6" fill="#CBECEF"/><rect x="351.6" y="207.6" width="5.6" height="1.0" fill="#CBECEF"/><rect x="351.6" y="211.4" width="5.6" height="0.7" fill="#CBECEF"/><rect x="351.6" y="214.0" width="5.6" height="1.0" fill="#DDF3F4"/><rect x="351.6" y="217.2" width="5.6" height="0.8" fill="#DDF3F4"/><rect x="351.6" y="219.5" width="5.6" height="0.4" fill="#DDF3F4"/><rect x="351.6" y="221.6" width="5.6" height="0.8" fill="#CBECEF"/><rect x="351.6" y="224.8" width="5.6" height="1.0" fill="#DDF3F4"/><rect x="351.6" y="228.3" width="5.6" height="0.6" fill="#D4EFF1"/><rect x="351.6" y="231.1" width="5.6" height="0.7" fill="#E5F6F7"/><rect x="351.6" y="233.8" width="5.6" height="0.8" fill="#D4EFF1"/><rect x="351.6" y="235.9" width="5.6" height="0.8" fill="#E5F6F7"/><rect x="351.6" y="239.1" width="5.6" height="0.7" fill="#E5F6F7"/><rect x="351.6" y="242.8" width="5.6" height="0.8" fill="#CBECEF"/><rect x="351.6" y="245.1" width="5.6" height="0.5" fill="#DDF3F4"/><rect x="351.6" y="246.8" width="5.6" height="0.9" fill="#D4EFF1"/><rect x="351.6" y="249.1" width="5.6" height="0.8" fill="#CBECEF"/><rect x="351.6" y="252.1" width="5.6" height="1.1" fill="#CBECEF"/><rect x="351.6" y="255.6" width="5.6" height="0.9" fill="#DDF3F4"/></g>
<rect x="351.6" y="122.5" width="5.6" height="135.8" rx="2.8" fill="none" stroke="#979797" stroke-width="0.95"/>
<text x="354.8" y="270.8" text-anchor="middle" font-size="10.1" fill="#111" stroke="#111" stroke-width="0.2">2</text>
<polygon points="373.1,79.8 374.2,80.3 375.1,81.3 374.1,82.3 374.4,83.3 373.7,84.3 373.8,85.3 374.2,86.3 373.6,87.3 373.6,88.3 374.7,89.3 375.3,90.3 375.1,91.3 374.1,92.3 374.1,93.3 374.1,94.3 373.8,95.3 374.2,96.3 374.0,97.3 373.7,98.3 375.3,99.3 375.5,100.3 375.4,101.3 375.2,102.3 374.7,103.3 374.4,104.3 374.3,105.3 374.0,106.3 373.8,107.3 373.6,108.3 374.2,109.3 374.1,110.3 375.3,111.3 377.0,112.3 376.0,113.3 375.0,114.3 374.3,115.3 373.8,116.3 374.4,117.3 373.6,118.3 374.1,119.3 374.0,120.3 373.8,121.3 374.2,122.3 375.5,123.3 374.2,124.3 374.1,125.3 375.2,126.3 375.7,127.3 374.5,128.3 374.1,129.3 374.1,130.3 374.2,131.3 374.3,132.3 373.8,133.3 373.9,134.3 373.9,135.3 373.6,136.3 374.4,137.3 374.3,138.3 376.4,139.3 375.2,140.3 375.5,141.3 375.2,142.3 375.6,143.3 374.9,144.3 375.4,145.3 373.8,146.3 373.7,147.3 373.8,148.3 373.6,149.3 374.0,150.3 376.1,151.3 377.9,152.3 378.3,153.3 378.4,154.3 379.0,155.3 378.6,156.3 377.4,157.3 376.7,158.3 375.4,159.3 374.1,160.3 374.2,161.3 375.1,162.3 375.1,163.3 375.1,164.3 374.4,165.3 375.5,166.3 375.0,167.3 374.6,168.3 374.5,169.3 374.7,170.3 374.6,171.3 374.8,172.3 373.9,173.3 373.9,174.3 375.3,175.3 374.3,176.3 374.2,177.3 374.2,178.3 374.5,179.3 374.0,180.3 374.4,181.3 374.2,182.3 374.4,183.3 374.0,184.3 375.5,185.3 376.6,186.3 375.6,187.3 374.3,188.3 374.2,189.3 373.7,190.3 374.4,191.3 373.7,192.3 373.6,193.3 374.4,194.3 376.0,195.3 374.6,196.3 374.4,197.3 375.1,198.3 374.3,199.3 374.2,200.3 374.2,201.3 375.0,202.3 375.9,203.3 374.8,204.3 374.5,205.3 373.9,206.3 374.3,207.3 374.5,208.3 375.3,209.3 374.3,210.3 375.3,211.3 374.9,212.3 374.5,213.3 373.7,214.3 374.4,215.3 375.1,216.3 374.3,217.3 374.7,218.3 376.5,219.3 376.5,220.3 377.5,221.3 379.1,222.3 379.2,223.3 376.9,224.3 375.0,225.3 374.5,226.3 373.8,227.3 373.9,228.3 374.0,229.3 373.6,230.3 373.8,231.3 373.9,232.3 375.8,233.3 377.9,234.3 375.9,235.3 375.0,236.3 374.1,237.3 375.2,238.3 374.2,239.3 373.9,240.3 375.4,241.3 376.0,242.3 374.8,243.3 373.9,244.3 374.2,245.3 374.1,246.3 375.2,247.3 377.6,248.3 378.7,249.3 378.3,250.3 375.9,251.3 374.0,252.3 373.8,253.3 374.3,254.3 374.5,255.3 373.1,255.8" fill="#F58A5C" fill-opacity="0.85"/>
<g clip-path="url(#cp2_0)"><rect x="367.0" y="77.8" width="5.6" height="83.7" fill="#F3FAFA"/><rect x="367.0" y="79.3" width="5.6" height="0.6" fill="#DDF3F4"/><rect x="367.0" y="81.5" width="5.6" height="0.5" fill="#D4EFF1"/><rect x="367.0" y="83.2" width="5.6" height="0.9" fill="#DDF3F4"/><rect x="367.0" y="85.7" width="5.6" height="1.1" fill="#CBECEF"/><rect x="367.0" y="89.2" width="5.6" height="0.7" fill="#DDF3F4"/><rect x="367.0" y="90.9" width="5.6" height="1.0" fill="#CBECEF"/><rect x="367.0" y="93.2" width="5.6" height="0.7" fill="#D4EFF1"/><rect x="367.0" y="94.7" width="5.6" height="1.0" fill="#E5F6F7"/><rect x="367.0" y="98.0" width="5.6" height="0.8" fill="#CBECEF"/><rect x="367.0" y="100.6" width="5.6" height="0.5" fill="#E5F6F7"/><rect x="367.0" y="101.9" width="5.6" height="0.6" fill="#E5F6F7"/><rect x="367.0" y="104.8" width="5.6" height="0.8" fill="#E5F6F7"/><rect x="367.0" y="108.3" width="5.6" height="0.9" fill="#DDF3F4"/><rect x="367.0" y="111.5" width="5.6" height="0.8" fill="#E5F6F7"/><rect x="367.0" y="114.1" width="5.6" height="0.6" fill="#D4EFF1"/><rect x="367.0" y="117.4" width="5.6" height="0.6" fill="#E5F6F7"/><rect x="367.0" y="120.3" width="5.6" height="0.8" fill="#CBECEF"/><rect x="367.0" y="123.9" width="5.6" height="0.7" fill="#D4EFF1"/><rect x="367.0" y="126.8" width="5.6" height="0.7" fill="#DDF3F4"/><rect x="367.0" y="130.2" width="5.6" height="0.6" fill="#D4EFF1"/><rect x="367.0" y="132.5" width="5.6" height="0.7" fill="#D4EFF1"/><rect x="367.0" y="134.1" width="5.6" height="0.8" fill="#DDF3F4"/><rect x="367.0" y="137.3" width="5.6" height="1.1" fill="#DDF3F4"/><rect x="367.0" y="140.3" width="5.6" height="0.5" fill="#E5F6F7"/><rect x="367.0" y="142.8" width="5.6" height="0.9" fill="#D4EFF1"/><rect x="367.0" y="145.9" width="5.6" height="1.0" fill="#CBECEF"/><rect x="367.0" y="148.5" width="5.6" height="1.1" fill="#DDF3F4"/><rect x="367.0" y="152.6" width="5.6" height="0.5" fill="#D4EFF1"/><rect x="367.0" y="155.5" width="5.6" height="0.8" fill="#D4EFF1"/><rect x="367.0" y="157.7" width="5.6" height="0.7" fill="#D4EFF1"/><rect x="367.0" y="159.2" width="5.6" height="0.7" fill="#E5F6F7"/></g>
<rect x="367.0" y="77.8" width="5.6" height="83.7" rx="2.8" fill="none" stroke="#979797" stroke-width="0.95"/>
<g clip-path="url(#cp2_1)"><rect x="367.0" y="161.5" width="5.6" height="96.8" fill="#F3FAFA"/><rect x="367.0" y="163.0" width="5.6" height="0.9" fill="#CBECEF"/><rect x="367.0" y="164.9" width="5.6" height="0.6" fill="#E5F6F7"/><rect x="367.0" y="168.4" width="5.6" height="0.8" fill="#DDF3F4"/><rect x="367.0" y="172.1" width="5.6" height="1.1" fill="#E5F6F7"/><rect x="367.0" y="174.5" width="5.6" height="0.5" fill="#D4EFF1"/><rect x="367.0" y="177.6" width="5.6" height="0.8" fill="#E5F6F7"/><rect x="367.0" y="180.6" width="5.6" height="0.9" fill="#DDF3F4"/><rect x="367.0" y="183.1" width="5.6" height="0.8" fill="#E5F6F7"/><rect x="367.0" y="185.8" width="5.6" height="0.6" fill="#DDF3F4"/><rect x="367.0" y="188.9" width="5.6" height="0.7" fill="#DDF3F4"/><rect x="367.0" y="191.0" width="5.6" height="0.7" fill="#CBECEF"/><rect x="367.0" y="194.6" width="5.6" height="0.9" fill="#E5F6F7"/><rect x="367.0" y="196.3" width="5.6" height="0.9" fill="#CBECEF"/><rect x="367.0" y="198.8" width="5.6" height="0.9" fill="#CBECEF"/><rect x="367.0" y="201.5" width="5.6" height="0.7" fill="#D4EFF1"/><rect x="367.0" y="204.5" width="5.6" height="0.7" fill="#CBECEF"/><rect x="367.0" y="207.8" width="5.6" height="0.4" fill="#CBECEF"/><rect x="367.0" y="210.8" width="5.6" height="0.5" fill="#CBECEF"/><rect x="367.0" y="213.5" width="5.6" height="0.4" fill="#D4EFF1"/><rect x="367.0" y="215.1" width="5.6" height="0.5" fill="#CBECEF"/><rect x="367.0" y="216.9" width="5.6" height="0.5" fill="#DDF3F4"/><rect x="367.0" y="220.1" width="5.6" height="0.5" fill="#E5F6F7"/><rect x="367.0" y="222.2" width="5.6" height="0.5" fill="#E5F6F7"/><rect x="367.0" y="225.2" width="5.6" height="0.5" fill="#D4EFF1"/><rect x="367.0" y="228.0" width="5.6" height="1.0" fill="#CBECEF"/><rect x="367.0" y="230.3" width="5.6" height="0.9" fill="#D4EFF1"/><rect x="367.0" y="233.6" width="5.6" height="0.7" fill="#D4EFF1"/><rect x="367.0" y="236.3" width="5.6" height="0.6" fill="#DDF3F4"/><rect x="367.0" y="239.5" width="5.6" height="0.7" fill="#D4EFF1"/><rect x="367.0" y="242.1" width="5.6" height="1.0" fill="#E5F6F7"/><rect x="367.0" y="244.5" width="5.6" height="0.5" fill="#D4EFF1"/><rect x="367.0" y="246.2" width="5.6" height="0.6" fill="#E5F6F7"/><rect x="367.0" y="249.1" width="5.6" height="1.0" fill="#CBECEF"/><rect x="367.0" y="251.8" width="5.6" height="1.1" fill="#D4EFF1"/><rect x="367.0" y="254.1" width="5.6" height="0.7" fill="#D4EFF1"/><rect x="367.0" y="255.6" width="5.6" height="0.4" fill="#CBECEF"/></g>
<rect x="367.0" y="161.5" width="5.6" height="96.8" rx="2.8" fill="none" stroke="#979797" stroke-width="0.95"/>
<text x="370.2" y="270.8" text-anchor="middle" font-size="10.1" fill="#111" stroke="#111" stroke-width="0.2">3</text>
<polygon points="388.2,87.2 389.6,87.7 389.1,88.7 389.4,89.7 388.8,90.7 388.9,91.7 389.1,92.7 388.8,93.7 388.8,94.7 389.3,95.7 389.0,96.7 389.4,97.7 389.2,98.7 389.5,99.7 389.0,100.7 389.0,101.7 389.2,102.7 389.6,103.7 390.2,104.7 389.6,105.7 389.1,106.7 389.0,107.7 389.6,108.7 389.5,109.7 389.0,110.7 388.9,111.7 389.1,112.7 388.8,113.7 388.9,114.7 389.3,115.7 388.8,116.7 389.6,117.7 388.8,118.7 389.6,119.7 389.5,120.7 390.9,121.7 391.5,122.7 390.4,123.7 389.1,124.7 388.8,125.7 388.7,126.7 389.4,127.7 389.1,128.7 389.4,129.7 388.8,130.7 389.2,131.7 389.5,132.7 390.8,133.7 389.1,134.7 389.3,135.7 389.3,136.7 389.6,137.7 390.6,138.7 390.8,139.7 390.3,140.7 389.3,141.7 388.9,142.7 389.3,143.7 389.8,144.7 390.2,145.7 391.5,146.7 390.4,147.7 388.7,148.7 389.5,149.7 388.8,150.7 389.0,151.7 390.8,152.7 389.5,153.7 388.9,154.7 388.7,155.7 388.7,156.7 389.2,157.7 389.2,158.7 390.4,159.7 390.9,160.7 390.0,161.7 389.4,162.7 389.4,163.7 389.1,164.7 389.3,165.7 389.4,166.7 390.2,167.7 389.6,168.7 389.2,169.7 389.9,170.7 390.4,171.7 390.5,172.7 390.2,173.7 389.7,174.7 390.1,175.7 389.8,176.7 391.2,177.7 389.5,178.7 389.1,179.7 388.7,180.7 389.3,181.7 389.6,182.7 389.5,183.7 389.2,184.7 391.2,185.7 390.8,186.7 389.9,187.7 390.5,188.7 389.2,189.7 389.4,190.7 389.5,191.7 389.0,192.7 389.4,193.7 389.3,194.7 388.8,195.7 389.4,196.7 389.0,197.7 389.2,198.7 389.1,199.7 390.2,200.7 392.7,201.7 394.0,202.7 391.0,203.7 388.7,204.7 388.8,205.7 389.5,206.7 389.3,207.7 389.3,208.7 389.1,209.7 389.1,210.7 391.0,211.7 389.7,212.7 390.6,213.7 389.2,214.7 389.0,215.7 389.6,216.7 389.8,217.7 391.1,218.7 394.9,219.7 392.1,220.7 389.2,221.7 389.6,222.7 388.8,223.7 389.4,224.7 389.2,225.7 390.7,226.7 392.4,227.7 392.2,228.7 390.7,229.7 389.0,230.7 389.0,231.7 389.7,232.7 390.5,233.7 391.4,234.7 391.0,235.7 389.7,236.7 389.4,237.7 388.7,238.7 388.8,239.7 389.4,240.7 389.2,241.7 389.6,242.7 388.9,243.7 389.0,244.7 389.4,245.7 390.8,246.7 391.0,247.7 391.4,248.7 389.3,249.7 389.0,250.7 388.9,251.7 388.8,252.7 389.5,253.7 389.4,254.7 389.4,255.7 388.2,256.2" fill="#F58A5C" fill-opacity="0.85"/>
<g clip-path="url(#cp3_0)"><rect x="382.1" y="85.2" width="5.6" height="46.5" fill="#F3FAFA"/><rect x="382.1" y="86.7" width="5.6" height="0.7" fill="#DDF3F4"/><rect x="382.1" y="88.8" width="5.6" height="0.9" fill="#E5F6F7"/><rect x="382.1" y="90.8" width="5.6" height="0.7" fill="#DDF3F4"/><rect x="382.1" y="92.8" width="5.6" height="0.4" fill="#DDF3F4"/><rect x="382.1" y="96.3" width="5.6" height="0.7" fill="#D4EFF1"/><rect x="382.1" y="97.8" width="5.6" height="0.8" fill="#E5F6F7"/><rect x="382.1" y="100.5" width="5.6" height="1.0" fill="#D4EFF1"/><rect x="382.1" y="104.2" width="5.6" height="0.8" fill="#D4EFF1"/><rect x="382.1" y="107.4" width="5.6" height="0.5" fill="#CBECEF"/><rect x="382.1" y="109.9" width="5.6" height="0.8" fill="#E5F6F7"/><rect x="382.1" y="111.9" width="5.6" height="1.0" fill="#CBECEF"/><rect x="382.1" y="115.9" width="5.6" height="1.1" fill="#DDF3F4"/><rect x="382.1" y="118.1" width="5.6" height="1.1" fill="#CBECEF"/><rect x="382.1" y="120.1" width="5.6" height="0.8" fill="#D4EFF1"/><rect x="382.1" y="123.6" width="5.6" height="0.4" fill="#E5F6F7"/><rect x="382.1" y="124.9" width="5.6" height="0.5" fill="#D4EFF1"/><rect x="382.1" y="128.3" width="5.6" height="0.9" fill="#CBECEF"/></g>
<rect x="382.1" y="85.2" width="5.6" height="46.5" rx="2.8" fill="none" stroke="#979797" stroke-width="0.95"/>
<g clip-path="url(#cp3_1)"><rect x="382.1" y="131.7" width="5.6" height="126.6" fill="#F3FAFA"/><rect x="382.1" y="133.2" width="5.6" height="0.7" fill="#D4EFF1"/><rect x="382.1" y="135.7" width="5.6" height="0.7" fill="#E5F6F7"/><rect x="382.1" y="137.5" width="5.6" height="0.7" fill="#DDF3F4"/><rect x="382.1" y="140.0" width="5.6" height="1.0" fill="#D4EFF1"/><rect x="382.1" y="142.8" width="5.6" height="1.0" fill="#D4EFF1"/><rect x="382.1" y="145.0" width="5.6" height="1.0" fill="#D4EFF1"/><rect x="382.1" y="148.8" width="5.6" height="1.0" fill="#DDF3F4"/><rect x="382.1" y="152.3" width="5.6" height="1.1" fill="#E5F6F7"/><rect x="382.1" y="156.0" width="5.6" height="0.8" fill="#E5F6F7"/><rect x="382.1" y="159.8" width="5.6" height="0.6" fill="#DDF3F4"/><rect x="382.1" y="162.3" width="5.6" height="0.8" fill="#DDF3F4"/><rect x="382.1" y="164.7" width="5.6" height="0.9" fill="#DDF3F4"/><rect x="382.1" y="168.0" width="5.6" height="0.8" fill="#DDF3F4"/><rect x="382.1" y="170.5" width="5.6" height="0.5" fill="#E5F6F7"/><rect x="382.1" y="172.7" width="5.6" height="0.5" fill="#CBECEF"/><rect x="382.1" y="175.3" width="5.6" height="0.6" fill="#DDF3F4"/><rect x="382.1" y="177.3" width="5.6" height="0.5" fill="#E5F6F7"/><rect x="382.1" y="180.5" width="5.6" height="0.5" fill="#D4EFF1"/><rect x="382.1" y="183.2" width="5.6" height="1.0" fill="#DDF3F4"/><rect x="382.1" y="186.2" width="5.6" height="1.0" fill="#D4EFF1"/><rect x="382.1" y="188.5" width="5.6" height="0.5" fill="#CBECEF"/><rect x="382.1" y="190.8" width="5.6" height="0.6" fill="#DDF3F4"/><rect x="382.1" y="194.2" width="5.6" height="0.5" fill="#CBECEF"/><rect x="382.1" y="196.4" width="5.6" height="0.5" fill="#CBECEF"/><rect x="382.1" y="198.1" width="5.6" height="0.8" fill="#E5F6F7"/><rect x="382.1" y="201.5" width="5.6" height="0.6" fill="#DDF3F4"/><rect x="382.1" y="203.9" width="5.6" height="1.0" fill="#CBECEF"/><rect x="382.1" y="206.1" width="5.6" height="0.7" fill="#E5F6F7"/><rect x="382.1" y="208.0" width="5.6" height="0.8" fill="#DDF3F4"/><rect x="382.1" y="211.5" width="5.6" height="0.8" fill="#DDF3F4"/><rect x="382.1" y="214.6" width="5.6" height="0.5" fill="#D4EFF1"/><rect x="382.1" y="217.8" width="5.6" height="1.0" fill="#E5F6F7"/><rect x="382.1" y="221.3" width="5.6" height="0.5" fill="#DDF3F4"/><rect x="382.1" y="224.0" width="5.6" height="0.9" fill="#DDF3F4"/><rect x="382.1" y="226.9" width="5.6" height="0.5" fill="#D4EFF1"/><rect x="382.1" y="229.8" width="5.6" height="0.8" fill="#D4EFF1"/><rect x="382.1" y="232.5" width="5.6" height="0.6" fill="#CBECEF"/><rect x="382.1" y="235.8" width="5.6" height="1.0" fill="#E5F6F7"/><rect x="382.1" y="237.8" width="5.6" height="0.7" fill="#E5F6F7"/><rect x="382.1" y="239.6" width="5.6" height="0.9" fill="#DDF3F4"/><rect x="382.1" y="241.7" width="5.6" height="1.0" fill="#CBECEF"/><rect x="382.1" y="243.5" width="5.6" height="0.9" fill="#D4EFF1"/><rect x="382.1" y="246.0" width="5.6" height="1.1" fill="#D4EFF1"/><rect x="382.1" y="248.1" width="5.6" height="0.9" fill="#CBECEF"/><rect x="382.1" y="251.5" width="5.6" height="1.0" fill="#D4EFF1"/><rect x="382.1" y="254.0" width="5.6" height="0.5" fill="#E5F6F7"/><rect x="382.1" y="256.2" width="5.6" height="0.4" fill="#DDF3F4"/></g>
<rect x="382.1" y="131.7" width="5.6" height="126.6" rx="2.8" fill="none" stroke="#979797" stroke-width="0.95"/>
<text x="385.3" y="270.8" text-anchor="middle" font-size="10.1" fill="#111" stroke="#111" stroke-width="0.2">4</text>
<polygon points="403.4,95.0 406.0,95.5 404.8,96.5 405.6,97.5 404.5,98.5 404.1,99.5 404.9,100.5 404.6,101.5 404.2,102.5 404.5,103.5 404.1,104.5 403.9,105.5 404.4,106.5 404.4,107.5 404.4,108.5 404.5,109.5 404.0,110.5 404.7,111.5 404.5,112.5 403.9,113.5 404.0,114.5 404.3,115.5 404.4,116.5 404.2,117.5 404.0,118.5 404.7,119.5 405.2,120.5 404.8,121.5 404.7,122.5 404.0,123.5 404.4,124.5 404.6,125.5 404.3,126.5 406.1,127.5 407.4,128.5 405.7,129.5 404.5,130.5 404.7,131.5 404.4,132.5 404.3,133.5 404.7,134.5 404.6,135.5 404.2,136.5 404.1,137.5 404.2,138.5 404.5,139.5 406.3,140.5 407.3,141.5 406.2,142.5 404.9,143.5 404.7,144.5 403.9,145.5 404.4,146.5 404.8,147.5 404.7,148.5 404.1,149.5 404.3,150.5 404.5,151.5 404.2,152.5 404.4,153.5 404.0,154.5 404.3,155.5 404.5,156.5 405.9,157.5 404.2,158.5 404.8,159.5 404.6,160.5 404.7,161.5 404.5,162.5 404.6,163.5 404.7,164.5 405.4,165.5 405.8,166.5 405.5,167.5 405.8,168.5 404.8,169.5 404.1,170.5 404.4,171.5 404.9,172.5 405.2,173.5 405.5,174.5 405.1,175.5 404.7,176.5 405.4,177.5 405.2,178.5 406.7,179.5 407.7,180.5 405.5,181.5 404.7,182.5 404.8,183.5 404.4,184.5 404.1,185.5 404.3,186.5 404.4,187.5 404.0,188.5 404.0,189.5 404.0,190.5 404.9,191.5 406.4,192.5 406.9,193.5 408.2,194.5 407.3,195.5 405.2,196.5 404.7,197.5 404.4,198.5 404.4,199.5 404.5,200.5 404.1,201.5 404.7,202.5 405.3,203.5 406.5,204.5 406.6,205.5 404.7,206.5 404.2,207.5 404.1,208.5 404.1,209.5 404.4,210.5 404.2,211.5 404.7,212.5 405.4,213.5 406.9,214.5 406.1,215.5 404.4,216.5 404.4,217.5 404.3,218.5 404.2,219.5 404.8,220.5 404.7,221.5 407.0,222.5 406.1,223.5 406.7,224.5 406.2,225.5 405.3,226.5 405.7,227.5 405.0,228.5 404.3,229.5 404.6,230.5 404.0,231.5 405.1,232.5 404.8,233.5 404.6,234.5 404.0,235.5 404.2,236.5 404.2,237.5 404.5,238.5 404.5,239.5 405.1,240.5 405.6,241.5 405.9,242.5 404.9,243.5 406.0,244.5 407.3,245.5 406.3,246.5 406.4,247.5 405.0,248.5 404.7,249.5 404.2,250.5 405.7,251.5 405.7,252.5 405.6,253.5 404.6,254.5 404.3,255.5 403.4,256.0" fill="#F58A5C" fill-opacity="0.85"/>
<g clip-path="url(#cp4_0)"><rect x="397.3" y="93.0" width="5.6" height="44.0" fill="#F3FAFA"/><rect x="397.3" y="94.5" width="5.6" height="0.9" fill="#DDF3F4"/><rect x="397.3" y="98.1" width="5.6" height="1.1" fill="#E5F6F7"/><rect x="397.3" y="100.8" width="5.6" height="0.9" fill="#CBECEF"/><rect x="397.3" y="104.1" width="5.6" height="0.9" fill="#D4EFF1"/><rect x="397.3" y="106.2" width="5.6" height="0.6" fill="#D4EFF1"/><rect x="397.3" y="109.4" width="5.6" height="0.8" fill="#D4EFF1"/><rect x="397.3" y="112.4" width="5.6" height="0.6" fill="#CBECEF"/><rect x="397.3" y="115.7" width="5.6" height="1.1" fill="#E5F6F7"/><rect x="397.3" y="118.9" width="5.6" height="0.8" fill="#DDF3F4"/><rect x="397.3" y="121.6" width="5.6" height="0.5" fill="#DDF3F4"/><rect x="397.3" y="123.1" width="5.6" height="0.8" fill="#D4EFF1"/><rect x="397.3" y="125.5" width="5.6" height="1.1" fill="#D4EFF1"/><rect x="397.3" y="128.9" width="5.6" height="0.4" fill="#D4EFF1"/><rect x="397.3" y="130.8" width="5.6" height="0.9" fill="#D4EFF1"/><rect x="397.3" y="134.5" width="5.6" height="0.7" fill="#D4EFF1"/></g>
<rect x="397.3" y="93.0" width="5.6" height="44.0" rx="2.8" fill="none" stroke="#979797" stroke-width="0.95"/>
<g clip-path="url(#cp4_1)"><rect x="397.3" y="137.0" width="5.6" height="121.3" fill="#F3FAFA"/><rect x="397.3" y="138.5" width="5.6" height="0.9" fill="#DDF3F4"/><rect x="397.3" y="140.6" width="5.6" height="0.9" fill="#CBECEF"/><rect x="397.3" y="144.2" width="5.6" height="1.0" fill="#DDF3F4"/><rect x="397.3" y="147.3" width="5.6" height="0.7" fill="#D4EFF1"/><rect x="397.3" y="149.1" width="5.6" height="0.8" fill="#D4EFF1"/><rect x="397.3" y="150.7" width="5.6" height="0.5" fill="#E5F6F7"/><rect x="397.3" y="153.8" width="5.6" height="0.8" fill="#D4EFF1"/><rect x="397.3" y="156.9" width="5.6" height="0.9" fill="#CBECEF"/><rect x="397.3" y="158.9" width="5.6" height="0.6" fill="#CBECEF"/><rect x="397.3" y="160.6" width="5.6" height="0.6" fill="#D4EFF1"/><rect x="397.3" y="163.9" width="5.6" height="1.1" fill="#D4EFF1"/><rect x="397.3" y="166.5" width="5.6" height="0.7" fill="#E5F6F7"/><rect x="397.3" y="168.1" width="5.6" height="0.6" fill="#E5F6F7"/><rect x="397.3" y="170.7" width="5.6" height="1.1" fill="#E5F6F7"/><rect x="397.3" y="172.7" width="5.6" height="0.6" fill="#DDF3F4"/><rect x="397.3" y="174.1" width="5.6" height="1.1" fill="#DDF3F4"/><rect x="397.3" y="176.7" width="5.6" height="1.0" fill="#E5F6F7"/><rect x="397.3" y="179.2" width="5.6" height="0.8" fill="#E5F6F7"/><rect x="397.3" y="183.0" width="5.6" height="0.4" fill="#E5F6F7"/><rect x="397.3" y="185.7" width="5.6" height="0.8" fill="#E5F6F7"/><rect x="397.3" y="188.0" width="5.6" height="1.0" fill="#E5F6F7"/><rect x="397.3" y="189.9" width="5.6" height="1.0" fill="#D4EFF1"/><rect x="397.3" y="192.0" width="5.6" height="0.7" fill="#DDF3F4"/><rect x="397.3" y="193.5" width="5.6" height="1.0" fill="#E5F6F7"/><rect x="397.3" y="196.6" width="5.6" height="0.5" fill="#E5F6F7"/><rect x="397.3" y="198.6" width="5.6" height="0.9" fill="#D4EFF1"/><rect x="397.3" y="201.2" width="5.6" height="1.0" fill="#DDF3F4"/><rect x="397.3" y="203.9" width="5.6" height="0.7" fill="#CBECEF"/><rect x="397.3" y="205.9" width="5.6" height="0.4" fill="#D4EFF1"/><rect x="397.3" y="207.9" width="5.6" height="0.5" fill="#DDF3F4"/><rect x="397.3" y="209.4" width="5.6" height="0.6" fill="#DDF3F4"/><rect x="397.3" y="212.0" width="5.6" height="0.7" fill="#DDF3F4"/><rect x="397.3" y="213.9" width="5.6" height="0.6" fill="#E5F6F7"/><rect x="397.3" y="216.2" width="5.6" height="1.1" fill="#DDF3F4"/><rect x="397.3" y="218.7" width="5.6" height="0.7" fill="#DDF3F4"/><rect x="397.3" y="220.7" width="5.6" height="0.7" fill="#DDF3F4"/><rect x="397.3" y="224.3" width="5.6" height="1.1" fill="#E5F6F7"/><rect x="397.3" y="227.5" width="5.6" height="0.7" fill="#DDF3F4"/><rect x="397.3" y="229.8" width="5.6" height="0.8" fill="#DDF3F4"/><rect x="397.3" y="233.3" width="5.6" height="0.5" fill="#D4EFF1"/><rect x="397.3" y="235.8" width="5.6" height="0.6" fill="#E5F6F7"/><rect x="397.3" y="237.3" width="5.6" height="0.9" fill="#DDF3F4"/><rect x="397.3" y="239.6" width="5.6" height="0.7" fill="#D4EFF1"/><rect x="397.3" y="242.6" width="5.6" height="0.9" fill="#DDF3F4"/><rect x="397.3" y="245.1" width="5.6" height="0.9" fill="#D4EFF1"/><rect x="397.3" y="246.9" width="5.6" height="1.0" fill="#CBECEF"/><rect x="397.3" y="249.2" width="5.6" height="0.9" fill="#D4EFF1"/><rect x="397.3" y="251.4" width="5.6" height="0.5" fill="#E5F6F7"/><rect x="397.3" y="253.3" width="5.6" height="0.7" fill="#E5F6F7"/><rect x="397.3" y="256.5" width="5.6" height="1.0" fill="#DDF3F4"/></g>
<rect x="397.3" y="137.0" width="5.6" height="121.3" rx="2.8" fill="none" stroke="#979797" stroke-width="0.95"/>
<text x="400.5" y="270.8" text-anchor="middle" font-size="10.1" fill="#111" stroke="#111" stroke-width="0.2">5</text>
<polygon points="418.6,104.8 419.3,105.3 419.4,106.3 420.7,107.3 421.6,108.3 422.8,109.3 421.4,110.3 421.0,111.3 419.7,112.3 420.0,113.3 420.0,114.3 421.7,115.3 419.8,116.3 419.4,117.3 419.7,118.3 421.0,119.3 419.7,120.3 419.7,121.3 419.5,122.3 420.7,123.3 421.5,124.3 421.2,125.3 419.6,126.3 419.8,127.3 419.6,128.3 419.7,129.3 420.8,130.3 421.3,131.3 420.1,132.3 420.4,133.3 421.2,134.3 421.1,135.3 420.0,136.3 419.6,137.3 419.9,138.3 419.2,139.3 419.8,140.3 421.3,141.3 420.0,142.3 419.9,143.3 419.6,144.3 419.7,145.3 420.0,146.3 419.7,147.3 419.1,148.3 419.4,149.3 421.7,150.3 419.5,151.3 419.9,152.3 419.5,153.3 419.8,154.3 420.0,155.3 419.7,156.3 419.3,157.3 419.6,158.3 419.4,159.3 421.6,160.3 419.5,161.3 419.4,162.3 419.6,163.3 419.7,164.3 420.7,165.3 421.3,166.3 420.7,167.3 420.0,168.3 420.2,169.3 419.7,170.3 419.9,171.3 419.8,172.3 419.5,173.3 419.3,174.3 420.0,175.3 419.8,176.3 419.6,177.3 419.3,178.3 419.5,179.3 421.0,180.3 421.0,181.3 421.1,182.3 422.4,183.3 421.0,184.3 419.9,185.3 419.2,186.3 420.1,187.3 420.4,188.3 420.2,189.3 419.5,190.3 420.2,191.3 419.7,192.3 419.5,193.3 421.1,194.3 419.9,195.3 420.7,196.3 420.0,197.3 419.2,198.3 419.7,199.3 419.6,200.3 420.1,201.3 421.3,202.3 420.4,203.3 419.8,204.3 419.9,205.3 419.8,206.3 420.2,207.3 421.8,208.3 420.8,209.3 419.6,210.3 420.9,211.3 423.0,212.3 421.4,213.3 420.2,214.3 419.1,215.3 419.9,216.3 419.8,217.3 420.7,218.3 419.8,219.3 420.0,220.3 419.2,221.3 419.5,222.3 419.6,223.3 419.4,224.3 419.6,225.3 419.1,226.3 420.7,227.3 422.4,228.3 421.3,229.3 420.8,230.3 420.6,231.3 420.3,232.3 420.2,233.3 421.5,234.3 422.3,235.3 420.1,236.3 419.8,237.3 419.4,238.3 419.4,239.3 419.2,240.3 419.4,241.3 419.7,242.3 419.8,243.3 419.7,244.3 420.6,245.3 421.1,246.3 421.8,247.3 421.7,248.3 424.2,249.3 424.0,250.3 422.0,251.3 420.3,252.3 419.6,253.3 419.9,254.3 419.7,255.3 418.6,255.8" fill="#F58A5C" fill-opacity="0.85"/>
<g clip-path="url(#cp5_0)"><rect x="412.5" y="102.8" width="5.6" height="155.5" fill="#F3FAFA"/><rect x="412.5" y="104.3" width="5.6" height="0.8" fill="#E5F6F7"/><rect x="412.5" y="106.8" width="5.6" height="0.8" fill="#DDF3F4"/><rect x="412.5" y="110.5" width="5.6" height="1.1" fill="#D4EFF1"/><rect x="412.5" y="114.2" width="5.6" height="0.4" fill="#CBECEF"/><rect x="412.5" y="116.8" width="5.6" height="0.6" fill="#E5F6F7"/><rect x="412.5" y="120.3" width="5.6" height="0.7" fill="#DDF3F4"/><rect x="412.5" y="122.5" width="5.6" height="0.6" fill="#D4EFF1"/><rect x="412.5" y="125.8" width="5.6" height="0.6" fill="#E5F6F7"/><rect x="412.5" y="128.7" width="5.6" height="0.5" fill="#CBECEF"/><rect x="412.5" y="131.2" width="5.6" height="1.1" fill="#CBECEF"/><rect x="412.5" y="134.2" width="5.6" height="0.8" fill="#E5F6F7"/><rect x="412.5" y="136.4" width="5.6" height="0.6" fill="#DDF3F4"/><rect x="412.5" y="138.9" width="5.6" height="0.5" fill="#CBECEF"/><rect x="412.5" y="141.7" width="5.6" height="0.5" fill="#CBECEF"/><rect x="412.5" y="144.5" width="5.6" height="0.6" fill="#E5F6F7"/><rect x="412.5" y="146.4" width="5.6" height="0.8" fill="#D4EFF1"/><rect x="412.5" y="149.6" width="5.6" height="1.0" fill="#D4EFF1"/><rect x="412.5" y="153.3" width="5.6" height="0.9" fill="#E5F6F7"/><rect x="412.5" y="155.3" width="5.6" height="0.8" fill="#D4EFF1"/><rect x="412.5" y="158.2" width="5.6" height="1.1" fill="#D4EFF1"/><rect x="412.5" y="161.1" width="5.6" height="0.9" fill="#DDF3F4"/><rect x="412.5" y="164.9" width="5.6" height="0.5" fill="#E5F6F7"/><rect x="412.5" y="168.0" width="5.6" height="0.5" fill="#D4EFF1"/><rect x="412.5" y="170.2" width="5.6" height="0.4" fill="#D4EFF1"/><rect x="412.5" y="171.4" width="5.6" height="0.8" fill="#DDF3F4"/><rect x="412.5" y="174.0" width="5.6" height="0.5" fill="#DDF3F4"/><rect x="412.5" y="176.3" width="5.6" height="1.0" fill="#DDF3F4"/><rect x="412.5" y="179.3" width="5.6" height="1.0" fill="#CBECEF"/><rect x="412.5" y="181.5" width="5.6" height="0.9" fill="#CBECEF"/><rect x="412.5" y="185.0" width="5.6" height="0.9" fill="#D4EFF1"/><rect x="412.5" y="188.6" width="5.6" height="0.5" fill="#CBECEF"/><rect x="412.5" y="191.0" width="5.6" height="0.8" fill="#CBECEF"/><rect x="412.5" y="194.1" width="5.6" height="0.4" fill="#CBECEF"/><rect x="412.5" y="195.6" width="5.6" height="0.8" fill="#D4EFF1"/><rect x="412.5" y="197.2" width="5.6" height="1.0" fill="#DDF3F4"/><rect x="412.5" y="199.6" width="5.6" height="0.5" fill="#E5F6F7"/><rect x="412.5" y="201.0" width="5.6" height="1.1" fill="#E5F6F7"/><rect x="412.5" y="203.2" width="5.6" height="0.4" fill="#D4EFF1"/><rect x="412.5" y="204.5" width="5.6" height="0.6" fill="#DDF3F4"/><rect x="412.5" y="207.1" width="5.6" height="0.6" fill="#E5F6F7"/><rect x="412.5" y="210.4" width="5.6" height="0.8" fill="#CBECEF"/><rect x="412.5" y="213.2" width="5.6" height="0.9" fill="#CBECEF"/><rect x="412.5" y="216.9" width="5.6" height="0.4" fill="#CBECEF"/><rect x="412.5" y="220.3" width="5.6" height="0.7" fill="#E5F6F7"/><rect x="412.5" y="223.8" width="5.6" height="1.0" fill="#D4EFF1"/><rect x="412.5" y="225.7" width="5.6" height="0.8" fill="#E5F6F7"/><rect x="412.5" y="229.2" width="5.6" height="1.1" fill="#E5F6F7"/><rect x="412.5" y="232.0" width="5.6" height="1.0" fill="#D4EFF1"/><rect x="412.5" y="234.6" width="5.6" height="0.8" fill="#CBECEF"/><rect x="412.5" y="238.1" width="5.6" height="0.8" fill="#D4EFF1"/><rect x="412.5" y="240.2" width="5.6" height="1.0" fill="#E5F6F7"/><rect x="412.5" y="242.7" width="5.6" height="0.7" fill="#CBECEF"/><rect x="412.5" y="244.9" width="5.6" height="0.6" fill="#E5F6F7"/><rect x="412.5" y="247.1" width="5.6" height="0.4" fill="#E5F6F7"/><rect x="412.5" y="250.2" width="5.6" height="0.8" fill="#DDF3F4"/><rect x="412.5" y="253.4" width="5.6" height="0.5" fill="#E5F6F7"/><rect x="412.5" y="255.3" width="5.6" height="0.8" fill="#CBECEF"/></g>
<rect x="412.5" y="102.8" width="5.6" height="155.5" rx="2.8" fill="none" stroke="#979797" stroke-width="0.95"/>
<rect x="412.5" y="155.6" width="5.6" height="1.8" fill="#8A8A8A"/>
<text x="415.7" y="270.8" text-anchor="middle" font-size="10.1" fill="#111" stroke="#111" stroke-width="0.2">6</text>
<polygon points="433.7,115.3 436.6,115.8 437.1,116.8 435.4,117.8 434.8,118.8 435.0,119.8 435.4,120.8 435.0,121.8 436.2,122.8 434.6,123.8 434.7,124.8 434.3,125.8 434.9,126.8 434.9,127.8 434.4,128.8 436.2,129.8 438.9,130.8 440.7,131.8 438.2,132.8 434.6,133.8 434.5,134.8 435.0,135.8 434.4,136.8 435.0,137.8 434.8,138.8 434.5,139.8 435.2,140.8 436.0,141.8 436.5,142.8 435.6,143.8 434.7,144.8 435.0,145.8 434.9,146.8 435.1,147.8 434.3,148.8 434.4,149.8 435.0,150.8 434.8,151.8 435.5,152.8 436.4,153.8 435.8,154.8 435.4,155.8 436.1,156.8 434.6,157.8 435.7,158.8 436.9,159.8 438.2,160.8 437.2,161.8 435.4,162.8 434.3,163.8 434.4,164.8 435.0,165.8 434.7,166.8 434.5,167.8 434.8,168.8 436.1,169.8 435.4,170.8 434.8,171.8 435.5,172.8 435.0,173.8 435.0,174.8 434.5,175.8 435.0,176.8 436.2,177.8 435.9,178.8 436.7,179.8 437.1,180.8 435.5,181.8 434.2,182.8 434.2,183.8 434.6,184.8 435.0,185.8 434.5,186.8 434.7,187.8 434.3,188.8 434.4,189.8 434.9,190.8 436.1,191.8 434.9,192.8 434.3,193.8 434.9,194.8 434.7,195.8 435.4,196.8 437.2,197.8 440.2,198.8 440.3,199.8 437.3,200.8 435.8,201.8 434.2,202.8 434.7,203.8 435.7,204.8 434.5,205.8 435.0,206.8 435.6,207.8 435.2,208.8 434.4,209.8 435.0,210.8 434.9,211.8 434.3,212.8 435.0,213.8 436.8,214.8 437.2,215.8 436.9,216.8 437.8,217.8 435.4,218.8 436.1,219.8 434.9,220.8 434.8,221.8 434.5,222.8 434.6,223.8 435.5,224.8 437.0,225.8 437.6,226.8 435.5,227.8 434.4,228.8 434.7,229.8 435.0,230.8 434.5,231.8 434.9,232.8 435.7,233.8 436.4,234.8 435.7,235.8 434.3,236.8 435.1,237.8 434.7,238.8 434.4,239.8 434.8,240.8 434.9,241.8 435.7,242.8 437.3,243.8 438.7,244.8 436.6,245.8 434.7,246.8 434.8,247.8 434.7,248.8 434.5,249.8 434.7,250.8 434.4,251.8 435.0,252.8 437.0,253.8 437.9,254.8 436.5,255.8 433.7,256.3" fill="#F58A5C" fill-opacity="0.85"/>
<g clip-path="url(#cp6_0)"><rect x="427.6" y="113.3" width="5.6" height="53.7" fill="#F3FAFA"/><rect x="427.6" y="114.8" width="5.6" height="1.1" fill="#DDF3F4"/><rect x="427.6" y="117.7" width="5.6" height="1.1" fill="#CBECEF"/><rect x="427.6" y="121.7" width="5.6" height="0.5" fill="#CBECEF"/><rect x="427.6" y="123.6" width="5.6" height="0.6" fill="#E5F6F7"/><rect x="427.6" y="127.0" width="5.6" height="0.6" fill="#CBECEF"/><rect x="427.6" y="129.8" width="5.6" height="0.8" fill="#E5F6F7"/><rect x="427.6" y="131.9" width="5.6" height="0.4" fill="#DDF3F4"/><rect x="427.6" y="135.0" width="5.6" height="0.9" fill="#D4EFF1"/><rect x="427.6" y="138.5" width="5.6" height="1.0" fill="#DDF3F4"/><rect x="427.6" y="141.2" width="5.6" height="0.5" fill="#CBECEF"/><rect x="427.6" y="144.0" width="5.6" height="1.0" fill="#DDF3F4"/><rect x="427.6" y="147.9" width="5.6" height="0.4" fill="#CBECEF"/><rect x="427.6" y="149.5" width="5.6" height="0.9" fill="#D4EFF1"/><rect x="427.6" y="152.8" width="5.6" height="0.7" fill="#E5F6F7"/><rect x="427.6" y="154.6" width="5.6" height="0.6" fill="#E5F6F7"/><rect x="427.6" y="157.9" width="5.6" height="1.1" fill="#D4EFF1"/><rect x="427.6" y="161.1" width="5.6" height="0.5" fill="#D4EFF1"/><rect x="427.6" y="162.5" width="5.6" height="0.8" fill="#DDF3F4"/><rect x="427.6" y="165.4" width="5.6" height="0.9" fill="#D4EFF1"/></g>
<rect x="427.6" y="113.3" width="5.6" height="53.7" rx="2.8" fill="none" stroke="#979797" stroke-width="0.95"/>
<g clip-path="url(#cp6_1)"><rect x="427.6" y="167.0" width="5.6" height="91.3" fill="#F3FAFA"/><rect x="427.6" y="168.5" width="5.6" height="1.0" fill="#D4EFF1"/><rect x="427.6" y="172.3" width="5.6" height="0.5" fill="#E5F6F7"/><rect x="427.6" y="175.7" width="5.6" height="0.8" fill="#D4EFF1"/><rect x="427.6" y="177.6" width="5.6" height="0.9" fill="#DDF3F4"/><rect x="427.6" y="180.7" width="5.6" height="0.8" fill="#D4EFF1"/><rect x="427.6" y="183.5" width="5.6" height="1.0" fill="#D4EFF1"/><rect x="427.6" y="186.0" width="5.6" height="0.6" fill="#DDF3F4"/><rect x="427.6" y="189.0" width="5.6" height="0.6" fill="#DDF3F4"/><rect x="427.6" y="190.4" width="5.6" height="0.6" fill="#D4EFF1"/><rect x="427.6" y="192.2" width="5.6" height="0.4" fill="#CBECEF"/><rect x="427.6" y="194.0" width="5.6" height="0.6" fill="#D4EFF1"/><rect x="427.6" y="196.9" width="5.6" height="0.8" fill="#CBECEF"/><rect x="427.6" y="200.0" width="5.6" height="1.1" fill="#CBECEF"/><rect x="427.6" y="202.8" width="5.6" height="0.6" fill="#E5F6F7"/><rect x="427.6" y="205.0" width="5.6" height="0.5" fill="#E5F6F7"/><rect x="427.6" y="208.3" width="5.6" height="1.0" fill="#D4EFF1"/><rect x="427.6" y="210.6" width="5.6" height="0.8" fill="#CBECEF"/><rect x="427.6" y="213.6" width="5.6" height="0.9" fill="#DDF3F4"/><rect x="427.6" y="217.2" width="5.6" height="0.9" fill="#D4EFF1"/><rect x="427.6" y="220.7" width="5.6" height="0.9" fill="#D4EFF1"/><rect x="427.6" y="223.3" width="5.6" height="0.8" fill="#E5F6F7"/><rect x="427.6" y="226.1" width="5.6" height="0.6" fill="#D4EFF1"/><rect x="427.6" y="228.6" width="5.6" height="0.9" fill="#E5F6F7"/><rect x="427.6" y="231.4" width="5.6" height="0.8" fill="#E5F6F7"/><rect x="427.6" y="233.5" width="5.6" height="0.8" fill="#E5F6F7"/><rect x="427.6" y="235.9" width="5.6" height="0.4" fill="#CBECEF"/><rect x="427.6" y="238.5" width="5.6" height="0.9" fill="#CBECEF"/><rect x="427.6" y="240.4" width="5.6" height="1.0" fill="#DDF3F4"/><rect x="427.6" y="244.1" width="5.6" height="0.9" fill="#CBECEF"/><rect x="427.6" y="247.9" width="5.6" height="0.7" fill="#CBECEF"/><rect x="427.6" y="250.6" width="5.6" height="0.7" fill="#DDF3F4"/><rect x="427.6" y="254.3" width="5.6" height="0.4" fill="#CBECEF"/><rect x="427.6" y="256.7" width="5.6" height="0.8" fill="#CBECEF"/></g>
<rect x="427.6" y="167.0" width="5.6" height="91.3" rx="2.8" fill="none" stroke="#979797" stroke-width="0.95"/>
<text x="430.8" y="270.8" text-anchor="middle" font-size="10.1" fill="#111" stroke="#111" stroke-width="0.2">7</text>
<polygon points="448.8,128.4 451.3,128.9 452.0,129.9 450.1,130.9 449.9,131.9 450.8,132.9 452.4,133.9 453.2,134.9 450.7,135.9 449.6,136.9 450.0,137.9 450.0,138.9 449.4,139.9 450.2,140.9 451.5,141.9 451.6,142.9 450.6,143.9 450.0,144.9 449.8,145.9 449.7,146.9 449.4,147.9 449.7,148.9 450.2,149.9 450.4,150.9 450.9,151.9 450.2,152.9 450.0,153.9 450.0,154.9 449.7,155.9 451.6,156.9 449.9,157.9 450.3,158.9 450.8,159.9 451.1,160.9 450.3,161.9 449.6,162.9 449.3,163.9 449.5,164.9 449.8,165.9 449.4,166.9 449.5,167.9 449.9,168.9 449.6,169.9 450.1,170.9 450.4,171.9 450.5,172.9 449.4,173.9 449.9,174.9 450.1,175.9 449.5,176.9 449.7,177.9 450.0,178.9 449.9,179.9 449.6,180.9 449.3,181.9 449.7,182.9 449.7,183.9 450.8,184.9 449.6,185.9 449.7,186.9 449.9,187.9 450.0,188.9 449.6,189.9 449.6,190.9 449.8,191.9 450.1,192.9 449.5,193.9 450.2,194.9 449.9,195.9 450.2,196.9 452.7,197.9 454.1,198.9 455.5,199.9 455.2,200.9 450.9,201.9 450.6,202.9 450.2,203.9 450.2,204.9 450.6,205.9 450.6,206.9 450.5,207.9 449.8,208.9 449.7,209.9 450.1,210.9 449.7,211.9 449.7,212.9 450.1,213.9 449.8,214.9 450.4,215.9 450.0,216.9 450.5,217.9 450.8,218.9 450.4,219.9 450.5,220.9 451.3,221.9 452.1,222.9 450.8,223.9 450.0,224.9 450.0,225.9 449.4,226.9 449.5,227.9 449.4,228.9 450.0,229.9 449.4,230.9 449.4,231.9 450.5,232.9 451.1,233.9 450.8,234.9 450.6,235.9 449.9,236.9 450.1,237.9 450.5,238.9 450.3,239.9 449.7,240.9 449.8,241.9 450.8,242.9 451.6,243.9 451.9,244.9 450.2,245.9 450.0,246.9 451.0,247.9 449.7,248.9 450.2,249.9 449.5,250.9 449.5,251.9 450.1,252.9 450.8,253.9 451.5,254.9 448.8,255.4" fill="#F58A5C" fill-opacity="0.85"/>
<g clip-path="url(#cp7_0)"><rect x="442.7" y="126.4" width="5.6" height="40.4" fill="#F3FAFA"/><rect x="442.7" y="127.9" width="5.6" height="0.4" fill="#D4EFF1"/><rect x="442.7" y="130.9" width="5.6" height="0.7" fill="#D4EFF1"/><rect x="442.7" y="134.5" width="5.6" height="0.8" fill="#DDF3F4"/><rect x="442.7" y="137.2" width="5.6" height="0.9" fill="#CBECEF"/><rect x="442.7" y="140.6" width="5.6" height="0.8" fill="#DDF3F4"/><rect x="442.7" y="142.5" width="5.6" height="1.0" fill="#DDF3F4"/><rect x="442.7" y="145.5" width="5.6" height="0.7" fill="#DDF3F4"/><rect x="442.7" y="148.8" width="5.6" height="1.1" fill="#E5F6F7"/><rect x="442.7" y="151.1" width="5.6" height="1.0" fill="#E5F6F7"/><rect x="442.7" y="154.4" width="5.6" height="0.5" fill="#D4EFF1"/><rect x="442.7" y="157.7" width="5.6" height="0.5" fill="#DDF3F4"/><rect x="442.7" y="160.9" width="5.6" height="0.6" fill="#DDF3F4"/><rect x="442.7" y="164.2" width="5.6" height="1.0" fill="#DDF3F4"/></g>
<rect x="442.7" y="126.4" width="5.6" height="40.4" rx="2.8" fill="none" stroke="#979797" stroke-width="0.95"/>
<g clip-path="url(#cp7_1)"><rect x="442.7" y="166.8" width="5.6" height="91.5" fill="#F3FAFA"/><rect x="442.7" y="168.3" width="5.6" height="0.6" fill="#DDF3F4"/><rect x="442.7" y="170.0" width="5.6" height="1.0" fill="#DDF3F4"/><rect x="442.7" y="172.6" width="5.6" height="0.4" fill="#E5F6F7"/><rect x="442.7" y="174.2" width="5.6" height="0.6" fill="#D4EFF1"/><rect x="442.7" y="176.0" width="5.6" height="0.5" fill="#DDF3F4"/><rect x="442.7" y="178.3" width="5.6" height="0.9" fill="#D4EFF1"/><rect x="442.7" y="180.1" width="5.6" height="0.6" fill="#DDF3F4"/><rect x="442.7" y="183.7" width="5.6" height="1.1" fill="#D4EFF1"/><rect x="442.7" y="186.2" width="5.6" height="0.6" fill="#E5F6F7"/><rect x="442.7" y="189.6" width="5.6" height="1.0" fill="#DDF3F4"/><rect x="442.7" y="192.5" width="5.6" height="1.0" fill="#D4EFF1"/><rect x="442.7" y="194.7" width="5.6" height="0.7" fill="#DDF3F4"/><rect x="442.7" y="197.5" width="5.6" height="0.6" fill="#D4EFF1"/><rect x="442.7" y="201.1" width="5.6" height="0.6" fill="#DDF3F4"/><rect x="442.7" y="204.0" width="5.6" height="0.4" fill="#CBECEF"/><rect x="442.7" y="206.0" width="5.6" height="0.7" fill="#CBECEF"/><rect x="442.7" y="209.1" width="5.6" height="0.5" fill="#CBECEF"/><rect x="442.7" y="212.2" width="5.6" height="0.9" fill="#E5F6F7"/><rect x="442.7" y="214.2" width="5.6" height="0.8" fill="#DDF3F4"/><rect x="442.7" y="217.1" width="5.6" height="0.7" fill="#D4EFF1"/><rect x="442.7" y="218.7" width="5.6" height="0.8" fill="#E5F6F7"/><rect x="442.7" y="221.7" width="5.6" height="0.5" fill="#CBECEF"/><rect x="442.7" y="223.2" width="5.6" height="0.9" fill="#DDF3F4"/><rect x="442.7" y="225.7" width="5.6" height="0.9" fill="#D4EFF1"/><rect x="442.7" y="228.1" width="5.6" height="1.0" fill="#E5F6F7"/><rect x="442.7" y="230.5" width="5.6" height="0.6" fill="#D4EFF1"/><rect x="442.7" y="233.8" width="5.6" height="0.5" fill="#E5F6F7"/><rect x="442.7" y="235.7" width="5.6" height="0.8" fill="#CBECEF"/><rect x="442.7" y="238.3" width="5.6" height="0.5" fill="#D4EFF1"/><rect x="442.7" y="240.7" width="5.6" height="0.7" fill="#DDF3F4"/><rect x="442.7" y="242.8" width="5.6" height="0.8" fill="#DDF3F4"/><rect x="442.7" y="246.4" width="5.6" height="0.9" fill="#DDF3F4"/><rect x="442.7" y="250.1" width="5.6" height="0.4" fill="#D4EFF1"/><rect x="442.7" y="252.4" width="5.6" height="1.0" fill="#DDF3F4"/><rect x="442.7" y="255.6" width="5.6" height="0.6" fill="#DDF3F4"/></g>
<rect x="442.7" y="166.8" width="5.6" height="91.5" rx="2.8" fill="none" stroke="#979797" stroke-width="0.95"/>
<text x="445.9" y="270.8" text-anchor="middle" font-size="10.1" fill="#111" stroke="#111" stroke-width="0.2">8</text>
<polygon points="463.9,134.5 464.6,135.0 464.4,136.0 464.8,137.0 464.9,138.0 465.2,139.0 466.6,140.0 465.9,141.0 465.5,142.0 464.6,143.0 464.9,144.0 465.1,145.0 465.0,146.0 465.0,147.0 466.5,148.0 466.5,149.0 467.6,150.0 467.2,151.0 467.4,152.0 466.0,153.0 465.2,154.0 465.2,155.0 466.0,156.0 465.3,157.0 465.2,158.0 464.4,159.0 465.2,160.0 464.8,161.0 464.8,162.0 464.5,163.0 464.6,164.0 465.1,165.0 465.0,166.0 464.5,167.0 464.7,168.0 465.6,169.0 464.6,170.0 464.6,171.0 464.8,172.0 466.0,173.0 466.6,174.0 465.8,175.0 464.9,176.0 464.8,177.0 465.1,178.0 465.2,179.0 465.1,180.0 465.0,181.0 464.7,182.0 466.7,183.0 465.3,184.0 465.1,185.0 464.5,186.0 465.0,187.0 464.7,188.0 464.5,189.0 465.3,190.0 465.0,191.0 465.1,192.0 464.5,193.0 465.1,194.0 465.2,195.0 465.2,196.0 465.1,197.0 465.8,198.0 466.8,199.0 465.6,200.0 465.1,201.0 465.8,202.0 465.4,203.0 465.9,204.0 466.4,205.0 467.0,206.0 465.6,207.0 465.3,208.0 464.5,209.0 465.3,210.0 465.2,211.0 465.6,212.0 467.0,213.0 465.6,214.0 464.7,215.0 464.8,216.0 464.6,217.0 464.8,218.0 465.6,219.0 466.5,220.0 466.2,221.0 465.0,222.0 465.1,223.0 465.1,224.0 465.0,225.0 465.2,226.0 465.1,227.0 464.8,228.0 464.5,229.0 465.0,230.0 466.0,231.0 466.8,232.0 467.0,233.0 466.0,234.0 465.1,235.0 464.4,236.0 466.3,237.0 467.7,238.0 467.0,239.0 465.9,240.0 464.8,241.0 464.9,242.0 464.9,243.0 467.2,244.0 466.3,245.0 465.4,246.0 465.2,247.0 465.0,248.0 465.2,249.0 465.9,250.0 466.0,251.0 465.6,252.0 464.8,253.0 465.0,254.0 465.1,255.0 463.9,255.5" fill="#F58A5C" fill-opacity="0.85"/>
<g clip-path="url(#cp8_0)"><rect x="457.8" y="132.5" width="5.6" height="40.3" fill="#F3FAFA"/><rect x="457.8" y="134.0" width="5.6" height="0.6" fill="#CBECEF"/><rect x="457.8" y="137.5" width="5.6" height="0.7" fill="#E5F6F7"/><rect x="457.8" y="141.1" width="5.6" height="1.0" fill="#D4EFF1"/><rect x="457.8" y="144.8" width="5.6" height="0.7" fill="#CBECEF"/><rect x="457.8" y="147.9" width="5.6" height="0.4" fill="#D4EFF1"/><rect x="457.8" y="150.3" width="5.6" height="0.7" fill="#DDF3F4"/><rect x="457.8" y="153.4" width="5.6" height="0.9" fill="#D4EFF1"/><rect x="457.8" y="157.3" width="5.6" height="0.7" fill="#D4EFF1"/><rect x="457.8" y="160.9" width="5.6" height="1.0" fill="#DDF3F4"/><rect x="457.8" y="163.1" width="5.6" height="1.0" fill="#D4EFF1"/><rect x="457.8" y="167.2" width="5.6" height="0.5" fill="#CBECEF"/><rect x="457.8" y="169.9" width="5.6" height="0.6" fill="#D4EFF1"/></g>
<rect x="457.8" y="132.5" width="5.6" height="40.3" rx="2.8" fill="none" stroke="#979797" stroke-width="0.95"/>
<g clip-path="url(#cp8_1)"><rect x="457.8" y="172.8" width="5.6" height="85.5" fill="#F3FAFA"/><rect x="457.8" y="174.3" width="5.6" height="1.1" fill="#D4EFF1"/><rect x="457.8" y="178.0" width="5.6" height="0.9" fill="#E5F6F7"/><rect x="457.8" y="180.7" width="5.6" height="1.1" fill="#CBECEF"/><rect x="457.8" y="184.1" width="5.6" height="0.6" fill="#DDF3F4"/><rect x="457.8" y="187.3" width="5.6" height="0.7" fill="#D4EFF1"/><rect x="457.8" y="190.6" width="5.6" height="0.6" fill="#DDF3F4"/><rect x="457.8" y="192.5" width="5.6" height="1.0" fill="#D4EFF1"/><rect x="457.8" y="194.6" width="5.6" height="0.9" fill="#DDF3F4"/><rect x="457.8" y="197.9" width="5.6" height="1.0" fill="#CBECEF"/><rect x="457.8" y="201.8" width="5.6" height="0.9" fill="#CBECEF"/><rect x="457.8" y="205.7" width="5.6" height="0.5" fill="#CBECEF"/><rect x="457.8" y="209.0" width="5.6" height="0.7" fill="#CBECEF"/><rect x="457.8" y="212.6" width="5.6" height="0.7" fill="#CBECEF"/><rect x="457.8" y="214.8" width="5.6" height="0.6" fill="#E5F6F7"/><rect x="457.8" y="216.8" width="5.6" height="0.5" fill="#E5F6F7"/><rect x="457.8" y="219.3" width="5.6" height="0.7" fill="#DDF3F4"/><rect x="457.8" y="222.5" width="5.6" height="0.6" fill="#DDF3F4"/><rect x="457.8" y="224.5" width="5.6" height="0.8" fill="#E5F6F7"/><rect x="457.8" y="227.8" width="5.6" height="0.6" fill="#CBECEF"/><rect x="457.8" y="230.7" width="5.6" height="0.7" fill="#CBECEF"/><rect x="457.8" y="234.1" width="5.6" height="0.5" fill="#E5F6F7"/><rect x="457.8" y="237.1" width="5.6" height="0.4" fill="#CBECEF"/><rect x="457.8" y="239.1" width="5.6" height="1.1" fill="#CBECEF"/><rect x="457.8" y="243.1" width="5.6" height="1.0" fill="#D4EFF1"/><rect x="457.8" y="246.6" width="5.6" height="0.9" fill="#E5F6F7"/><rect x="457.8" y="250.1" width="5.6" height="0.9" fill="#CBECEF"/><rect x="457.8" y="252.1" width="5.6" height="0.5" fill="#D4EFF1"/><rect x="457.8" y="255.2" width="5.6" height="0.7" fill="#CBECEF"/></g>
<rect x="457.8" y="172.8" width="5.6" height="85.5" rx="2.8" fill="none" stroke="#979797" stroke-width="0.95"/>
<text x="461.0" y="270.8" text-anchor="middle" font-size="10.1" fill="#111" stroke="#111" stroke-width="0.2">9</text>
<polygon points="477.7,138.4 478.6,138.9 479.3,139.9 480.9,140.9 479.7,141.9 478.3,142.9 478.9,143.9 478.6,144.9 479.5,145.9 479.8,146.9 479.9,147.9 479.5,148.9 479.0,149.9 478.9,150.9 482.0,151.9 479.3,152.9 478.4,153.9 478.6,154.9 478.4,155.9 478.9,156.9 478.9,157.9 478.8,158.9 479.0,159.9 478.3,160.9 478.4,161.9 479.0,162.9 478.4,163.9 478.3,164.9 478.5,165.9 478.2,166.9 479.5,167.9 480.5,168.9 481.1,169.9 481.3,170.9 480.5,171.9 479.6,172.9 478.5,173.9 479.0,174.9 478.8,175.9 478.9,176.9 478.7,177.9 478.7,178.9 478.7,179.9 479.0,180.9 478.5,181.9 478.5,182.9 479.9,183.9 479.0,184.9 478.3,185.9 478.3,186.9 479.6,187.9 478.4,188.9 479.1,189.9 478.7,190.9 479.2,191.9 479.2,192.9 478.6,193.9 478.7,194.9 479.1,195.9 478.7,196.9 478.7,197.9 478.2,198.9 479.3,199.9 480.2,200.9 480.4,201.9 479.3,202.9 479.0,203.9 479.1,204.9 478.7,205.9 478.4,206.9 478.7,207.9 479.0,208.9 479.6,209.9 479.1,210.9 478.7,211.9 478.8,212.9 478.4,213.9 478.4,214.9 478.9,215.9 478.9,216.9 480.1,217.9 481.6,218.9 479.3,219.9 478.3,220.9 478.3,221.9 478.6,222.9 479.1,223.9 478.6,224.9 478.8,225.9 479.0,226.9 478.2,227.9 479.1,228.9 482.2,229.9 482.8,230.9 479.9,231.9 478.8,232.9 478.7,233.9 478.6,234.9 479.1,235.9 479.5,236.9 480.1,237.9 479.8,238.9 479.4,239.9 478.3,240.9 478.3,241.9 478.9,242.9 478.8,243.9 480.3,244.9 479.7,245.9 479.6,246.9 478.9,247.9 478.9,248.9 479.0,249.9 479.1,250.9 480.1,251.9 481.4,252.9 478.8,253.9 480.0,254.9 477.7,255.4" fill="#F58A5C" fill-opacity="0.85"/>
<g clip-path="url(#cp9_0)"><rect x="471.6" y="136.4" width="5.6" height="37.2" fill="#F3FAFA"/><rect x="471.6" y="137.9" width="5.6" height="0.4" fill="#DDF3F4"/><rect x="471.6" y="140.7" width="5.6" height="1.1" fill="#E5F6F7"/><rect x="471.6" y="144.2" width="5.6" height="0.9" fill="#DDF3F4"/><rect x="471.6" y="147.7" width="5.6" height="1.0" fill="#DDF3F4"/><rect x="471.6" y="149.8" width="5.6" height="0.5" fill="#E5F6F7"/><rect x="471.6" y="151.2" width="5.6" height="1.0" fill="#D4EFF1"/><rect x="471.6" y="154.0" width="5.6" height="0.4" fill="#D4EFF1"/><rect x="471.6" y="157.1" width="5.6" height="0.6" fill="#E5F6F7"/><rect x="471.6" y="159.6" width="5.6" height="0.8" fill="#DDF3F4"/><rect x="471.6" y="161.2" width="5.6" height="0.5" fill="#CBECEF"/><rect x="471.6" y="163.4" width="5.6" height="0.5" fill="#DDF3F4"/><rect x="471.6" y="166.8" width="5.6" height="0.7" fill="#E5F6F7"/><rect x="471.6" y="170.0" width="5.6" height="0.8" fill="#D4EFF1"/></g>
<rect x="471.6" y="136.4" width="5.6" height="37.2" rx="2.8" fill="none" stroke="#979797" stroke-width="0.95"/>
<g clip-path="url(#cp9_1)"><rect x="471.6" y="173.6" width="5.6" height="84.7" fill="#F3FAFA"/><rect x="471.6" y="175.1" width="5.6" height="0.5" fill="#DDF3F4"/><rect x="471.6" y="178.0" width="5.6" height="0.7" fill="#E5F6F7"/><rect x="471.6" y="180.9" width="5.6" height="0.5" fill="#E5F6F7"/><rect x="471.6" y="183.5" width="5.6" height="0.4" fill="#DDF3F4"/><rect x="471.6" y="186.5" width="5.6" height="1.0" fill="#D4EFF1"/><rect x="471.6" y="189.1" width="5.6" height="1.0" fill="#DDF3F4"/><rect x="471.6" y="192.3" width="5.6" height="0.9" fill="#D4EFF1"/><rect x="471.6" y="194.5" width="5.6" height="1.0" fill="#DDF3F4"/><rect x="471.6" y="198.1" width="5.6" height="0.4" fill="#D4EFF1"/><rect x="471.6" y="200.3" width="5.6" height="1.1" fill="#DDF3F4"/><rect x="471.6" y="203.8" width="5.6" height="0.4" fill="#E5F6F7"/><rect x="471.6" y="205.6" width="5.6" height="0.5" fill="#D4EFF1"/><rect x="471.6" y="208.0" width="5.6" height="1.1" fill="#D4EFF1"/><rect x="471.6" y="210.3" width="5.6" height="1.0" fill="#DDF3F4"/><rect x="471.6" y="213.4" width="5.6" height="0.6" fill="#E5F6F7"/><rect x="471.6" y="216.8" width="5.6" height="0.4" fill="#D4EFF1"/><rect x="471.6" y="219.3" width="5.6" height="1.0" fill="#D4EFF1"/><rect x="471.6" y="222.6" width="5.6" height="0.9" fill="#CBECEF"/><rect x="471.6" y="225.3" width="5.6" height="0.9" fill="#DDF3F4"/><rect x="471.6" y="227.0" width="5.6" height="1.0" fill="#E5F6F7"/><rect x="471.6" y="229.2" width="5.6" height="0.9" fill="#DDF3F4"/><rect x="471.6" y="232.4" width="5.6" height="1.1" fill="#D4EFF1"/><rect x="471.6" y="235.5" width="5.6" height="0.6" fill="#D4EFF1"/><rect x="471.6" y="237.1" width="5.6" height="0.6" fill="#D4EFF1"/><rect x="471.6" y="238.7" width="5.6" height="0.6" fill="#CBECEF"/><rect x="471.6" y="241.8" width="5.6" height="0.5" fill="#CBECEF"/><rect x="471.6" y="244.8" width="5.6" height="0.4" fill="#D4EFF1"/><rect x="471.6" y="246.1" width="5.6" height="0.9" fill="#DDF3F4"/><rect x="471.6" y="248.9" width="5.6" height="0.7" fill="#E5F6F7"/><rect x="471.6" y="252.4" width="5.6" height="0.8" fill="#DDF3F4"/><rect x="471.6" y="256.0" width="5.6" height="0.9" fill="#D4EFF1"/></g>
<rect x="471.6" y="173.6" width="5.6" height="84.7" rx="2.8" fill="none" stroke="#979797" stroke-width="0.95"/>
<text x="474.8" y="270.8" text-anchor="middle" font-size="10.1" fill="#111" stroke="#111" stroke-width="0.2">10</text>
<polygon points="492.0,137.6 493.3,138.1 493.7,139.1 494.0,140.1 495.5,141.1 495.4,142.1 494.1,143.1 493.7,144.1 492.7,145.1 493.3,146.1 492.9,147.1 493.1,148.1 492.7,149.1 494.6,150.1 493.8,151.1 494.6,152.1 494.2,153.1 494.9,154.1 495.8,155.1 494.1,156.1 493.3,157.1 493.4,158.1 494.3,159.1 493.6,160.1 493.8,161.1 494.2,162.1 494.0,163.1 493.4,164.1 492.6,165.1 493.4,166.1 493.4,167.1 493.3,168.1 493.4,169.1 494.7,170.1 495.6,171.1 495.1,172.1 493.4,173.1 493.6,174.1 492.8,175.1 493.2,176.1 492.8,177.1 493.1,178.1 492.8,179.1 493.0,180.1 493.4,181.1 493.2,182.1 494.6,183.1 494.9,184.1 494.6,185.1 493.8,186.1 492.9,187.1 493.3,188.1 493.1,189.1 493.4,190.1 492.6,191.1 492.7,192.1 492.8,193.1 493.3,194.1 492.5,195.1 492.7,196.1 493.1,197.1 493.4,198.1 493.3,199.1 494.4,200.1 494.4,201.1 493.6,202.1 493.2,203.1 493.2,204.1 492.7,205.1 492.7,206.1 492.5,207.1 493.1,208.1 492.7,209.1 492.7,210.1 493.4,211.1 493.1,212.1 493.0,213.1 493.1,214.1 493.0,215.1 493.1,216.1 492.8,217.1 492.6,218.1 492.6,219.1 493.1,220.1 494.5,221.1 496.1,222.1 495.0,223.1 494.2,224.1 493.7,225.1 493.1,226.1 492.7,227.1 493.2,228.1 492.7,229.1 492.6,230.1 492.8,231.1 492.9,232.1 493.9,233.1 494.9,234.1 495.4,235.1 493.4,236.1 493.3,237.1 492.8,238.1 493.2,239.1 492.5,240.1 493.2,241.1 492.7,242.1 493.3,243.1 493.9,244.1 494.6,245.1 494.1,246.1 493.0,247.1 492.7,248.1 493.3,249.1 492.9,250.1 494.0,251.1 493.3,252.1 493.1,253.1 492.7,254.1 492.6,255.1 492.0,255.6" fill="#F58A5C" fill-opacity="0.85"/>
<g clip-path="url(#cp10_0)"><rect x="485.9" y="135.6" width="5.6" height="47.8" fill="#F3FAFA"/><rect x="485.9" y="137.1" width="5.6" height="0.5" fill="#E5F6F7"/><rect x="485.9" y="139.6" width="5.6" height="0.7" fill="#E5F6F7"/><rect x="485.9" y="141.4" width="5.6" height="0.7" fill="#DDF3F4"/><rect x="485.9" y="144.9" width="5.6" height="0.7" fill="#D4EFF1"/><rect x="485.9" y="146.7" width="5.6" height="0.4" fill="#CBECEF"/><rect x="485.9" y="148.9" width="5.6" height="0.6" fill="#CBECEF"/><rect x="485.9" y="151.5" width="5.6" height="0.5" fill="#DDF3F4"/><rect x="485.9" y="153.8" width="5.6" height="0.6" fill="#E5F6F7"/><rect x="485.9" y="155.4" width="5.6" height="1.1" fill="#D4EFF1"/><rect x="485.9" y="157.8" width="5.6" height="0.5" fill="#CBECEF"/><rect x="485.9" y="159.6" width="5.6" height="0.5" fill="#CBECEF"/><rect x="485.9" y="161.9" width="5.6" height="1.1" fill="#DDF3F4"/><rect x="485.9" y="163.9" width="5.6" height="0.7" fill="#CBECEF"/><rect x="485.9" y="165.6" width="5.6" height="0.6" fill="#CBECEF"/><rect x="485.9" y="167.2" width="5.6" height="0.9" fill="#E5F6F7"/><rect x="485.9" y="169.9" width="5.6" height="0.5" fill="#D4EFF1"/><rect x="485.9" y="172.6" width="5.6" height="1.0" fill="#D4EFF1"/><rect x="485.9" y="175.8" width="5.6" height="0.9" fill="#D4EFF1"/><rect x="485.9" y="178.7" width="5.6" height="0.6" fill="#E5F6F7"/><rect x="485.9" y="181.5" width="5.6" height="0.5" fill="#CBECEF"/></g>
<rect x="485.9" y="135.6" width="5.6" height="47.8" rx="2.8" fill="none" stroke="#979797" stroke-width="0.95"/>
<g clip-path="url(#cp10_1)"><rect x="485.9" y="183.4" width="5.6" height="74.9" fill="#F3FAFA"/><rect x="485.9" y="184.9" width="5.6" height="1.0" fill="#CBECEF"/><rect x="485.9" y="188.3" width="5.6" height="1.0" fill="#CBECEF"/><rect x="485.9" y="191.5" width="5.6" height="0.9" fill="#DDF3F4"/><rect x="485.9" y="193.2" width="5.6" height="0.7" fill="#D4EFF1"/><rect x="485.9" y="195.7" width="5.6" height="1.0" fill="#CBECEF"/><rect x="485.9" y="198.5" width="5.6" height="0.5" fill="#DDF3F4"/><rect x="485.9" y="200.5" width="5.6" height="0.6" fill="#DDF3F4"/><rect x="485.9" y="204.0" width="5.6" height="0.7" fill="#DDF3F4"/><rect x="485.9" y="205.5" width="5.6" height="1.1" fill="#DDF3F4"/><rect x="485.9" y="207.5" width="5.6" height="0.7" fill="#E5F6F7"/><rect x="485.9" y="210.4" width="5.6" height="0.5" fill="#DDF3F4"/><rect x="485.9" y="212.2" width="5.6" height="0.7" fill="#CBECEF"/><rect x="485.9" y="215.9" width="5.6" height="0.7" fill="#DDF3F4"/><rect x="485.9" y="219.6" width="5.6" height="0.9" fill="#D4EFF1"/><rect x="485.9" y="222.2" width="5.6" height="0.6" fill="#D4EFF1"/><rect x="485.9" y="224.9" width="5.6" height="0.9" fill="#DDF3F4"/><rect x="485.9" y="228.5" width="5.6" height="0.4" fill="#CBECEF"/><rect x="485.9" y="231.0" width="5.6" height="0.7" fill="#E5F6F7"/><rect x="485.9" y="232.8" width="5.6" height="0.6" fill="#D4EFF1"/><rect x="485.9" y="234.8" width="5.6" height="0.7" fill="#DDF3F4"/><rect x="485.9" y="238.5" width="5.6" height="0.5" fill="#CBECEF"/><rect x="485.9" y="241.7" width="5.6" height="0.4" fill="#DDF3F4"/><rect x="485.9" y="243.9" width="5.6" height="0.5" fill="#E5F6F7"/><rect x="485.9" y="246.9" width="5.6" height="0.6" fill="#DDF3F4"/><rect x="485.9" y="250.2" width="5.6" height="1.1" fill="#CBECEF"/><rect x="485.9" y="254.2" width="5.6" height="0.9" fill="#D4EFF1"/><rect x="485.9" y="256.0" width="5.6" height="1.0" fill="#D4EFF1"/></g>
<rect x="485.9" y="183.4" width="5.6" height="74.9" rx="2.8" fill="none" stroke="#979797" stroke-width="0.95"/>
<text x="489.1" y="270.8" text-anchor="middle" font-size="10.1" fill="#111" stroke="#111" stroke-width="0.2">11</text>
<polygon points="506.8,139.1 509.0,139.6 507.9,140.6 508.9,141.6 507.9,142.6 507.4,143.6 507.4,144.6 507.6,145.6 508.2,146.6 509.4,147.6 509.0,148.6 509.9,149.6 509.6,150.6 508.6,151.6 507.9,152.6 507.9,153.6 507.6,154.6 507.8,155.6 507.8,156.6 508.1,157.6 508.7,158.6 507.9,159.6 507.6,160.6 508.2,161.6 508.9,162.6 509.3,163.6 508.5,164.6 508.3,165.6 507.5,166.6 508.0,167.6 507.9,168.6 507.4,169.6 507.9,170.6 507.9,171.6 508.4,172.6 508.5,173.6 507.7,174.6 507.6,175.6 508.0,176.6 508.2,177.6 508.1,178.6 507.7,179.6 507.9,180.6 509.3,181.6 508.5,182.6 507.4,183.6 508.2,184.6 507.8,185.6 507.7,186.6 507.4,187.6 508.1,188.6 508.8,189.6 510.1,190.6 510.9,191.6 511.8,192.6 510.6,193.6 510.2,194.6 508.8,195.6 508.2,196.6 508.3,197.6 507.9,198.6 508.1,199.6 508.2,200.6 509.5,201.6 510.3,202.6 509.1,203.6 507.7,204.6 507.8,205.6 507.6,206.6 508.0,207.6 507.6,208.6 508.0,209.6 507.9,210.6 509.1,211.6 508.4,212.6 508.6,213.6 507.9,214.6 507.9,215.6 507.8,216.6 509.2,217.6 509.9,218.6 508.7,219.6 507.9,220.6 508.0,221.6 507.6,222.6 508.1,223.6 507.9,224.6 507.4,225.6 507.6,226.6 508.9,227.6 508.1,228.6 508.0,229.6 507.6,230.6 509.4,231.6 510.0,232.6 508.8,233.6 507.9,234.6 507.3,235.6 508.0,236.6 508.1,237.6 507.4,238.6 507.5,239.6 508.1,240.6 510.0,241.6 509.4,242.6 508.0,243.6 507.8,244.6 508.4,245.6 509.1,246.6 508.3,247.6 507.6,248.6 507.7,249.6 507.4,250.6 507.6,251.6 507.6,252.6 508.0,253.6 508.1,254.6 507.6,255.6 506.8,256.1" fill="#F58A5C" fill-opacity="0.85"/>
<g clip-path="url(#cp11_0)"><rect x="500.7" y="137.1" width="5.6" height="33.9" fill="#F3FAFA"/><rect x="500.7" y="138.6" width="5.6" height="0.7" fill="#CBECEF"/><rect x="500.7" y="141.7" width="5.6" height="0.4" fill="#D4EFF1"/><rect x="500.7" y="143.4" width="5.6" height="0.6" fill="#E5F6F7"/><rect x="500.7" y="146.2" width="5.6" height="1.0" fill="#DDF3F4"/><rect x="500.7" y="150.2" width="5.6" height="1.1" fill="#CBECEF"/><rect x="500.7" y="152.3" width="5.6" height="0.4" fill="#E5F6F7"/><rect x="500.7" y="155.3" width="5.6" height="1.0" fill="#CBECEF"/><rect x="500.7" y="157.9" width="5.6" height="0.8" fill="#CBECEF"/><rect x="500.7" y="159.6" width="5.6" height="0.8" fill="#D4EFF1"/><rect x="500.7" y="161.9" width="5.6" height="0.6" fill="#DDF3F4"/><rect x="500.7" y="163.7" width="5.6" height="1.1" fill="#DDF3F4"/><rect x="500.7" y="166.5" width="5.6" height="0.5" fill="#D4EFF1"/></g>
<rect x="500.7" y="137.1" width="5.6" height="33.9" rx="2.8" fill="none" stroke="#979797" stroke-width="0.95"/>
<g clip-path="url(#cp11_1)"><rect x="500.7" y="171.0" width="5.6" height="87.3" fill="#F3FAFA"/><rect x="500.7" y="172.5" width="5.6" height="0.9" fill="#CBECEF"/><rect x="500.7" y="175.7" width="5.6" height="0.7" fill="#CBECEF"/><rect x="500.7" y="179.0" width="5.6" height="0.5" fill="#D4EFF1"/><rect x="500.7" y="181.6" width="5.6" height="0.7" fill="#D4EFF1"/><rect x="500.7" y="183.7" width="5.6" height="0.9" fill="#DDF3F4"/><rect x="500.7" y="186.3" width="5.6" height="1.0" fill="#E5F6F7"/><rect x="500.7" y="189.8" width="5.6" height="0.7" fill="#E5F6F7"/><rect x="500.7" y="193.0" width="5.6" height="0.9" fill="#CBECEF"/><rect x="500.7" y="196.1" width="5.6" height="0.5" fill="#E5F6F7"/><rect x="500.7" y="197.5" width="5.6" height="1.0" fill="#DDF3F4"/><rect x="500.7" y="199.4" width="5.6" height="1.1" fill="#DDF3F4"/><rect x="500.7" y="201.5" width="5.6" height="0.9" fill="#D4EFF1"/><rect x="500.7" y="203.8" width="5.6" height="0.4" fill="#CBECEF"/><rect x="500.7" y="206.0" width="5.6" height="0.5" fill="#E5F6F7"/><rect x="500.7" y="208.8" width="5.6" height="0.9" fill="#D4EFF1"/><rect x="500.7" y="210.6" width="5.6" height="1.0" fill="#DDF3F4"/><rect x="500.7" y="213.6" width="5.6" height="0.9" fill="#CBECEF"/><rect x="500.7" y="215.6" width="5.6" height="0.8" fill="#E5F6F7"/><rect x="500.7" y="217.6" width="5.6" height="0.5" fill="#E5F6F7"/><rect x="500.7" y="220.5" width="5.6" height="0.7" fill="#DDF3F4"/><rect x="500.7" y="222.9" width="5.6" height="0.8" fill="#D4EFF1"/><rect x="500.7" y="225.1" width="5.6" height="0.9" fill="#E5F6F7"/><rect x="500.7" y="227.8" width="5.6" height="1.1" fill="#CBECEF"/><rect x="500.7" y="231.4" width="5.6" height="0.7" fill="#DDF3F4"/><rect x="500.7" y="234.5" width="5.6" height="0.5" fill="#DDF3F4"/><rect x="500.7" y="237.8" width="5.6" height="0.7" fill="#CBECEF"/><rect x="500.7" y="241.1" width="5.6" height="0.4" fill="#E5F6F7"/><rect x="500.7" y="244.1" width="5.6" height="0.9" fill="#CBECEF"/><rect x="500.7" y="246.5" width="5.6" height="0.9" fill="#CBECEF"/><rect x="500.7" y="249.7" width="5.6" height="0.9" fill="#D4EFF1"/><rect x="500.7" y="253.2" width="5.6" height="1.0" fill="#CBECEF"/><rect x="500.7" y="255.0" width="5.6" height="0.9" fill="#D4EFF1"/></g>
<rect x="500.7" y="171.0" width="5.6" height="87.3" rx="2.8" fill="none" stroke="#979797" stroke-width="0.95"/>
<text x="503.9" y="270.8" text-anchor="middle" font-size="10.1" fill="#111" stroke="#111" stroke-width="0.2">12</text>
<polygon points="521.7,174.0 523.1,174.5 522.5,175.5 523.0,176.5 522.9,177.5 522.4,178.5 522.5,179.5 522.5,180.5 522.5,181.5 522.7,182.5 524.2,183.5 522.5,184.5 523.0,185.5 522.6,186.5 522.8,187.5 523.6,188.5 524.4,189.5 524.2,190.5 523.0,191.5 522.9,192.5 523.1,193.5 523.2,194.5 525.0,195.5 526.9,196.5 524.6,197.5 523.2,198.5 522.5,199.5 523.0,200.5 522.3,201.5 522.7,202.5 522.5,203.5 523.1,204.5 523.5,205.5 524.8,206.5 523.9,207.5 523.2,208.5 522.3,209.5 523.0,210.5 523.6,211.5 524.8,212.5 523.5,213.5 522.2,214.5 523.0,215.5 522.7,216.5 522.6,217.5 522.9,218.5 524.4,219.5 524.6,220.5 523.7,221.5 522.6,222.5 523.5,223.5 524.2,224.5 523.3,225.5 522.7,226.5 522.2,227.5 523.3,228.5 523.2,229.5 522.6,230.5 522.3,231.5 523.3,232.5 523.8,233.5 523.2,234.5 523.5,235.5 524.7,236.5 524.0,237.5 522.6,238.5 522.8,239.5 523.4,240.5 523.6,241.5 523.4,242.5 522.9,243.5 522.5,244.5 523.0,245.5 522.7,246.5 522.3,247.5 522.7,248.5 522.9,249.5 522.8,250.5 524.4,251.5 522.7,252.5 523.0,253.5 522.8,254.5 522.4,255.5 521.7,256.0" fill="#F58A5C" fill-opacity="0.85"/>
<g clip-path="url(#cp12_0)"><rect x="515.6" y="154.4" width="5.6" height="16.6" fill="#FFFFFF"/></g>
<rect x="515.6" y="154.4" width="5.6" height="16.6" rx="2.8" fill="none" stroke="#979797" stroke-width="0.95"/>
<g clip-path="url(#cp12_1)"><rect x="515.6" y="171.0" width="5.6" height="87.3" fill="#F3FAFA"/><rect x="515.6" y="172.5" width="5.6" height="1.1" fill="#E5F6F7"/><rect x="515.6" y="175.6" width="5.6" height="0.8" fill="#DDF3F4"/><rect x="515.6" y="178.5" width="5.6" height="0.7" fill="#DDF3F4"/><rect x="515.6" y="180.3" width="5.6" height="1.0" fill="#D4EFF1"/><rect x="515.6" y="184.1" width="5.6" height="0.7" fill="#D4EFF1"/><rect x="515.6" y="186.0" width="5.6" height="0.4" fill="#DDF3F4"/><rect x="515.6" y="188.3" width="5.6" height="1.1" fill="#DDF3F4"/><rect x="515.6" y="190.5" width="5.6" height="0.8" fill="#D4EFF1"/><rect x="515.6" y="193.1" width="5.6" height="0.8" fill="#CBECEF"/><rect x="515.6" y="196.0" width="5.6" height="0.6" fill="#DDF3F4"/><rect x="515.6" y="198.5" width="5.6" height="0.7" fill="#D4EFF1"/><rect x="515.6" y="201.7" width="5.6" height="1.0" fill="#DDF3F4"/><rect x="515.6" y="205.2" width="5.6" height="0.6" fill="#CBECEF"/><rect x="515.6" y="207.0" width="5.6" height="1.0" fill="#DDF3F4"/><rect x="515.6" y="210.1" width="5.6" height="1.0" fill="#DDF3F4"/><rect x="515.6" y="214.1" width="5.6" height="0.9" fill="#D4EFF1"/><rect x="515.6" y="217.5" width="5.6" height="0.9" fill="#DDF3F4"/><rect x="515.6" y="219.8" width="5.6" height="1.0" fill="#D4EFF1"/><rect x="515.6" y="222.6" width="5.6" height="0.4" fill="#D4EFF1"/><rect x="515.6" y="225.7" width="5.6" height="1.0" fill="#E5F6F7"/><rect x="515.6" y="227.9" width="5.6" height="0.7" fill="#DDF3F4"/><rect x="515.6" y="231.6" width="5.6" height="0.6" fill="#DDF3F4"/><rect x="515.6" y="235.2" width="5.6" height="0.6" fill="#E5F6F7"/><rect x="515.6" y="237.4" width="5.6" height="0.7" fill="#CBECEF"/><rect x="515.6" y="239.2" width="5.6" height="0.6" fill="#D4EFF1"/><rect x="515.6" y="240.9" width="5.6" height="0.8" fill="#D4EFF1"/><rect x="515.6" y="243.6" width="5.6" height="0.5" fill="#E5F6F7"/><rect x="515.6" y="246.8" width="5.6" height="0.9" fill="#E5F6F7"/><rect x="515.6" y="249.6" width="5.6" height="0.6" fill="#DDF3F4"/><rect x="515.6" y="252.0" width="5.6" height="0.8" fill="#DDF3F4"/><rect x="515.6" y="254.1" width="5.6" height="0.6" fill="#E5F6F7"/></g>
<rect x="515.6" y="171.0" width="5.6" height="87.3" rx="2.8" fill="none" stroke="#979797" stroke-width="0.95"/>
<text x="518.8" y="270.8" text-anchor="middle" font-size="10.1" fill="#111" stroke="#111" stroke-width="0.2">13</text>
<polygon points="536.7,179.4 537.6,179.9 537.5,180.9 537.6,181.9 537.8,182.9 539.7,183.9 539.2,184.9 538.8,185.9 538.6,186.9 537.7,187.9 537.2,188.9 538.0,189.9 539.5,190.9 537.5,191.9 537.8,192.9 538.0,193.9 537.6,194.9 537.6,195.9 537.5,196.9 537.7,197.9 537.8,198.9 538.0,199.9 539.6,200.9 539.0,201.9 539.5,202.9 539.5,203.9 539.2,204.9 538.3,205.9 537.9,206.9 537.5,207.9 538.5,208.9 539.0,209.9 539.0,210.9 538.0,211.9 537.3,212.9 538.0,213.9 537.9,214.9 537.2,215.9 537.5,216.9 537.6,217.9 537.6,218.9 537.5,219.9 538.0,220.9 537.5,221.9 538.0,222.9 539.3,223.9 539.9,224.9 540.7,225.9 540.7,226.9 540.4,227.9 540.4,228.9 538.9,229.9 537.4,230.9 537.5,231.9 537.5,232.9 537.5,233.9 538.0,234.9 537.7,235.9 537.8,236.9 538.8,237.9 540.1,238.9 540.4,239.9 541.1,240.9 539.6,241.9 538.8,242.9 537.8,243.9 537.9,244.9 537.3,245.9 537.4,246.9 537.3,247.9 537.4,248.9 537.9,249.9 537.8,250.9 538.0,251.9 538.1,252.9 537.7,253.9 538.0,254.9 536.7,255.4" fill="#F58A5C" fill-opacity="0.85"/>
<g clip-path="url(#cp13_0)"><rect x="530.6" y="161.3" width="5.6" height="15.1" fill="#FFFFFF"/></g>
<rect x="530.6" y="161.3" width="5.6" height="15.1" rx="2.8" fill="none" stroke="#979797" stroke-width="0.95"/>
<g clip-path="url(#cp13_1)"><rect x="530.6" y="176.4" width="5.6" height="81.9" fill="#F3FAFA"/><rect x="530.6" y="177.9" width="5.6" height="0.7" fill="#E5F6F7"/><rect x="530.6" y="180.3" width="5.6" height="0.7" fill="#E5F6F7"/><rect x="530.6" y="184.0" width="5.6" height="1.1" fill="#DDF3F4"/><rect x="530.6" y="186.2" width="5.6" height="1.0" fill="#CBECEF"/><rect x="530.6" y="189.4" width="5.6" height="0.9" fill="#E5F6F7"/><rect x="530.6" y="192.2" width="5.6" height="0.9" fill="#D4EFF1"/><rect x="530.6" y="195.6" width="5.6" height="0.8" fill="#D4EFF1"/><rect x="530.6" y="198.2" width="5.6" height="1.0" fill="#CBECEF"/><rect x="530.6" y="201.5" width="5.6" height="0.8" fill="#DDF3F4"/><rect x="530.6" y="204.9" width="5.6" height="1.0" fill="#DDF3F4"/><rect x="530.6" y="207.9" width="5.6" height="0.9" fill="#DDF3F4"/><rect x="530.6" y="211.1" width="5.6" height="0.4" fill="#D4EFF1"/><rect x="530.6" y="214.1" width="5.6" height="0.7" fill="#DDF3F4"/><rect x="530.6" y="216.8" width="5.6" height="0.9" fill="#E5F6F7"/><rect x="530.6" y="219.3" width="5.6" height="0.7" fill="#DDF3F4"/><rect x="530.6" y="221.5" width="5.6" height="0.7" fill="#CBECEF"/><rect x="530.6" y="225.2" width="5.6" height="0.5" fill="#D4EFF1"/><rect x="530.6" y="228.7" width="5.6" height="0.9" fill="#CBECEF"/><rect x="530.6" y="231.8" width="5.6" height="0.8" fill="#CBECEF"/><rect x="530.6" y="233.7" width="5.6" height="1.0" fill="#E5F6F7"/><rect x="530.6" y="237.6" width="5.6" height="1.0" fill="#D4EFF1"/><rect x="530.6" y="240.5" width="5.6" height="1.0" fill="#D4EFF1"/><rect x="530.6" y="242.6" width="5.6" height="0.9" fill="#E5F6F7"/><rect x="530.6" y="246.3" width="5.6" height="0.8" fill="#E5F6F7"/><rect x="530.6" y="249.5" width="5.6" height="0.4" fill="#DDF3F4"/><rect x="530.6" y="250.9" width="5.6" height="0.6" fill="#D4EFF1"/><rect x="530.6" y="253.7" width="5.6" height="0.7" fill="#CBECEF"/><rect x="530.6" y="255.4" width="5.6" height="0.7" fill="#CBECEF"/></g>
<rect x="530.6" y="176.4" width="5.6" height="81.9" rx="2.8" fill="none" stroke="#979797" stroke-width="0.95"/>
<text x="533.8" y="270.8" text-anchor="middle" font-size="10.1" fill="#111" stroke="#111" stroke-width="0.2">14</text>
<polygon points="551.8,185.0 552.7,185.5 552.9,186.5 552.5,187.5 552.9,188.5 552.6,189.5 552.6,190.5 553.1,191.5 553.3,192.5 554.2,193.5 554.5,194.5 553.8,195.5 553.2,196.5 553.0,197.5 552.7,198.5 553.4,199.5 554.0,200.5 553.7,201.5 554.0,202.5 552.6,203.5 553.0,204.5 553.4,205.5 554.8,206.5 553.3,207.5 553.2,208.5 552.8,209.5 554.9,210.5 552.5,211.5 552.9,212.5 552.6,213.5 552.7,214.5 554.0,215.5 554.1,216.5 553.7,217.5 552.5,218.5 553.1,219.5 553.1,220.5 552.3,221.5 552.7,222.5 552.7,223.5 552.9,224.5 553.0,225.5 553.0,226.5 554.3,227.5 554.7,228.5 555.7,229.5 554.8,230.5 552.9,231.5 554.3,232.5 553.0,233.5 552.6,234.5 552.4,235.5 553.3,236.5 553.7,237.5 554.8,238.5 553.5,239.5 553.3,240.5 552.5,241.5 553.1,242.5 553.3,243.5 554.6,244.5 554.7,245.5 553.1,246.5 552.8,247.5 553.1,248.5 552.7,249.5 552.4,250.5 553.1,251.5 553.0,252.5 552.9,253.5 553.0,254.5 552.5,255.5 551.8,256.0" fill="#F58A5C" fill-opacity="0.85"/>
<g clip-path="url(#cp14_0)"><rect x="545.7" y="165.4" width="5.6" height="16.6" fill="#FFFFFF"/></g>
<rect x="545.7" y="165.4" width="5.6" height="16.6" rx="2.8" fill="none" stroke="#979797" stroke-width="0.95"/>
<g clip-path="url(#cp14_1)"><rect x="545.7" y="182.0" width="5.6" height="76.3" fill="#F3FAFA"/><rect x="545.7" y="183.5" width="5.6" height="0.6" fill="#DDF3F4"/><rect x="545.7" y="185.6" width="5.6" height="0.4" fill="#DDF3F4"/><rect x="545.7" y="187.8" width="5.6" height="1.1" fill="#E5F6F7"/><rect x="545.7" y="191.1" width="5.6" height="0.8" fill="#CBECEF"/><rect x="545.7" y="193.8" width="5.6" height="1.1" fill="#DDF3F4"/><rect x="545.7" y="196.8" width="5.6" height="1.0" fill="#DDF3F4"/><rect x="545.7" y="199.4" width="5.6" height="0.8" fill="#CBECEF"/><rect x="545.7" y="201.7" width="5.6" height="0.9" fill="#D4EFF1"/><rect x="545.7" y="204.3" width="5.6" height="0.5" fill="#D4EFF1"/><rect x="545.7" y="206.1" width="5.6" height="0.8" fill="#D4EFF1"/><rect x="545.7" y="209.3" width="5.6" height="0.6" fill="#D4EFF1"/><rect x="545.7" y="212.2" width="5.6" height="1.0" fill="#DDF3F4"/><rect x="545.7" y="215.5" width="5.6" height="0.9" fill="#D4EFF1"/><rect x="545.7" y="217.8" width="5.6" height="1.1" fill="#D4EFF1"/><rect x="545.7" y="221.8" width="5.6" height="0.6" fill="#D4EFF1"/><rect x="545.7" y="224.4" width="5.6" height="0.6" fill="#DDF3F4"/><rect x="545.7" y="225.8" width="5.6" height="0.5" fill="#DDF3F4"/><rect x="545.7" y="229.2" width="5.6" height="0.6" fill="#DDF3F4"/><rect x="545.7" y="232.6" width="5.6" height="0.6" fill="#CBECEF"/><rect x="545.7" y="235.5" width="5.6" height="0.7" fill="#D4EFF1"/><rect x="545.7" y="237.1" width="5.6" height="1.0" fill="#E5F6F7"/><rect x="545.7" y="239.1" width="5.6" height="0.9" fill="#CBECEF"/><rect x="545.7" y="241.9" width="5.6" height="0.7" fill="#D4EFF1"/><rect x="545.7" y="245.5" width="5.6" height="1.1" fill="#E5F6F7"/><rect x="545.7" y="248.8" width="5.6" height="0.9" fill="#DDF3F4"/><rect x="545.7" y="251.3" width="5.6" height="0.7" fill="#DDF3F4"/><rect x="545.7" y="253.5" width="5.6" height="1.0" fill="#CBECEF"/><rect x="545.7" y="256.6" width="5.6" height="0.5" fill="#DDF3F4"/></g>
<rect x="545.7" y="182.0" width="5.6" height="76.3" rx="2.8" fill="none" stroke="#979797" stroke-width="0.95"/>
<text x="548.9" y="270.8" text-anchor="middle" font-size="10.1" fill="#111" stroke="#111" stroke-width="0.2">15</text>
<polygon points="566.2,178.4 567.2,178.9 567.4,179.9 566.8,180.9 567.2,181.9 568.0,182.9 569.0,183.9 568.6,184.9 569.5,185.9 569.4,186.9 567.8,187.9 567.1,188.9 567.4,189.9 568.5,190.9 567.4,191.9 567.4,192.9 566.9,193.9 566.8,194.9 567.1,195.9 568.3,196.9 570.3,197.9 571.1,198.9 568.6,199.9 568.1,200.9 568.9,201.9 567.9,202.9 567.3,203.9 567.5,204.9 567.2,205.9 566.9,206.9 566.8,207.9 566.8,208.9 567.4,209.9 567.7,210.9 567.7,211.9 567.1,212.9 567.0,213.9 567.2,214.9 567.5,215.9 566.9,216.9 566.8,217.9 567.0,218.9 567.6,219.9 569.2,220.9 569.2,221.9 567.9,222.9 566.8,223.9 566.7,224.9 566.8,225.9 567.5,226.9 567.3,227.9 566.8,228.9 567.3,229.9 566.8,230.9 567.2,231.9 567.3,232.9 568.3,233.9 567.7,234.9 567.3,235.9 568.1,236.9 569.5,237.9 571.0,238.9 568.4,239.9 567.7,240.9 568.2,241.9 567.9,242.9 566.7,243.9 566.9,244.9 567.1,245.9 566.9,246.9 566.8,247.9 567.3,248.9 567.6,249.9 567.0,250.9 566.9,251.9 567.3,252.9 566.9,253.9 567.1,254.9 566.2,255.4" fill="#F58A5C" fill-opacity="0.85"/>
<g clip-path="url(#cp15_0)"><rect x="560.1" y="176.4" width="5.6" height="33.9" fill="#F3FAFA"/><rect x="560.1" y="177.9" width="5.6" height="0.5" fill="#CBECEF"/><rect x="560.1" y="179.7" width="5.6" height="0.6" fill="#CBECEF"/><rect x="560.1" y="181.8" width="5.6" height="0.9" fill="#CBECEF"/><rect x="560.1" y="184.4" width="5.6" height="1.0" fill="#DDF3F4"/><rect x="560.1" y="188.3" width="5.6" height="0.7" fill="#D4EFF1"/><rect x="560.1" y="190.1" width="5.6" height="0.8" fill="#E5F6F7"/><rect x="560.1" y="193.6" width="5.6" height="0.8" fill="#DDF3F4"/><rect x="560.1" y="196.7" width="5.6" height="0.6" fill="#D4EFF1"/><rect x="560.1" y="198.3" width="5.6" height="0.7" fill="#DDF3F4"/><rect x="560.1" y="199.8" width="5.6" height="0.4" fill="#CBECEF"/><rect x="560.1" y="201.2" width="5.6" height="0.6" fill="#CBECEF"/><rect x="560.1" y="204.5" width="5.6" height="0.9" fill="#E5F6F7"/><rect x="560.1" y="208.3" width="5.6" height="0.9" fill="#DDF3F4"/></g>
<rect x="560.1" y="176.4" width="5.6" height="33.9" rx="2.8" fill="none" stroke="#979797" stroke-width="0.95"/>
<g clip-path="url(#cp15_1)"><rect x="560.1" y="210.3" width="5.6" height="48.0" fill="#F3FAFA"/><rect x="560.1" y="211.8" width="5.6" height="0.5" fill="#CBECEF"/><rect x="560.1" y="213.4" width="5.6" height="0.6" fill="#DDF3F4"/><rect x="560.1" y="216.2" width="5.6" height="0.9" fill="#DDF3F4"/><rect x="560.1" y="219.0" width="5.6" height="0.7" fill="#DDF3F4"/><rect x="560.1" y="220.6" width="5.6" height="0.6" fill="#D4EFF1"/><rect x="560.1" y="223.7" width="5.6" height="0.9" fill="#CBECEF"/><rect x="560.1" y="226.5" width="5.6" height="0.6" fill="#E5F6F7"/><rect x="560.1" y="229.1" width="5.6" height="0.6" fill="#D4EFF1"/><rect x="560.1" y="232.3" width="5.6" height="0.7" fill="#DDF3F4"/><rect x="560.1" y="235.4" width="5.6" height="1.0" fill="#CBECEF"/><rect x="560.1" y="238.2" width="5.6" height="0.5" fill="#CBECEF"/><rect x="560.1" y="241.1" width="5.6" height="0.5" fill="#DDF3F4"/><rect x="560.1" y="244.6" width="5.6" height="0.7" fill="#CBECEF"/><rect x="560.1" y="247.5" width="5.6" height="0.9" fill="#CBECEF"/><rect x="560.1" y="250.4" width="5.6" height="0.6" fill="#E5F6F7"/><rect x="560.1" y="251.9" width="5.6" height="1.1" fill="#CBECEF"/><rect x="560.1" y="255.6" width="5.6" height="0.6" fill="#CBECEF"/></g>
<rect x="560.1" y="210.3" width="5.6" height="48.0" rx="2.8" fill="none" stroke="#979797" stroke-width="0.95"/>
<text x="563.3" y="270.8" text-anchor="middle" font-size="10.1" fill="#111" stroke="#111" stroke-width="0.2">16</text>
<polygon points="581.3,185.0 582.4,185.5 582.5,186.5 582.0,187.5 582.4,188.5 583.3,189.5 583.1,190.5 581.8,191.5 581.9,192.5 582.1,193.5 582.2,194.5 582.7,195.5 582.1,196.5 582.9,197.5 583.9,198.5 583.3,199.5 582.4,200.5 582.1,201.5 581.9,202.5 582.4,203.5 582.0,204.5 581.8,205.5 582.8,206.5 583.8,207.5 584.5,208.5 584.6,209.5 584.0,210.5 582.5,211.5 581.9,212.5 582.0,213.5 582.4,214.5 583.7,215.5 584.5,216.5 583.7,217.5 582.3,218.5 582.0,219.5 582.5,220.5 582.5,221.5 582.4,222.5 583.2,223.5 583.9,224.5 583.4,225.5 585.1,226.5 583.5,227.5 582.6,228.5 582.3,229.5 582.0,230.5 581.9,231.5 583.1,232.5 585.0,233.5 584.8,234.5 583.5,235.5 582.7,236.5 582.6,237.5 581.9,238.5 582.3,239.5 583.2,240.5 584.5,241.5 583.1,242.5 583.7,243.5 584.7,244.5 583.7,245.5 584.2,246.5 582.6,247.5 581.8,248.5 582.0,249.5 582.1,250.5 582.2,251.5 582.4,252.5 582.2,253.5 582.1,254.5 584.0,255.5 581.3,256.0" fill="#F58A5C" fill-opacity="0.85"/>
<g clip-path="url(#cp16_0)"><rect x="575.2" y="183.0" width="5.6" height="23.2" fill="#F3FAFA"/><rect x="575.2" y="184.5" width="5.6" height="0.4" fill="#D4EFF1"/><rect x="575.2" y="187.7" width="5.6" height="0.5" fill="#D4EFF1"/><rect x="575.2" y="190.0" width="5.6" height="0.8" fill="#CBECEF"/><rect x="575.2" y="193.6" width="5.6" height="0.6" fill="#CBECEF"/><rect x="575.2" y="197.2" width="5.6" height="0.5" fill="#E5F6F7"/><rect x="575.2" y="198.7" width="5.6" height="0.6" fill="#DDF3F4"/><rect x="575.2" y="200.6" width="5.6" height="0.7" fill="#CBECEF"/><rect x="575.2" y="203.4" width="5.6" height="0.8" fill="#CBECEF"/></g>
<rect x="575.2" y="183.0" width="5.6" height="23.2" rx="2.8" fill="none" stroke="#979797" stroke-width="0.95"/>
<g clip-path="url(#cp16_1)"><rect x="575.2" y="206.2" width="5.6" height="52.1" fill="#F3FAFA"/><rect x="575.2" y="207.7" width="5.6" height="0.5" fill="#CBECEF"/><rect x="575.2" y="210.8" width="5.6" height="0.7" fill="#CBECEF"/><rect x="575.2" y="212.6" width="5.6" height="0.9" fill="#D4EFF1"/><rect x="575.2" y="215.0" width="5.6" height="0.7" fill="#CBECEF"/><rect x="575.2" y="217.0" width="5.6" height="0.4" fill="#DDF3F4"/><rect x="575.2" y="219.6" width="5.6" height="0.7" fill="#E5F6F7"/><rect x="575.2" y="221.7" width="5.6" height="0.5" fill="#E5F6F7"/><rect x="575.2" y="223.4" width="5.6" height="1.0" fill="#D4EFF1"/><rect x="575.2" y="225.3" width="5.6" height="0.6" fill="#CBECEF"/><rect x="575.2" y="228.2" width="5.6" height="0.9" fill="#E5F6F7"/><rect x="575.2" y="231.0" width="5.6" height="1.0" fill="#DDF3F4"/><rect x="575.2" y="232.9" width="5.6" height="0.5" fill="#DDF3F4"/><rect x="575.2" y="234.8" width="5.6" height="0.9" fill="#DDF3F4"/><rect x="575.2" y="238.0" width="5.6" height="0.9" fill="#CBECEF"/><rect x="575.2" y="240.4" width="5.6" height="0.8" fill="#E5F6F7"/><rect x="575.2" y="243.6" width="5.6" height="0.5" fill="#CBECEF"/><rect x="575.2" y="245.6" width="5.6" height="0.9" fill="#DDF3F4"/><rect x="575.2" y="248.7" width="5.6" height="0.9" fill="#CBECEF"/><rect x="575.2" y="251.7" width="5.6" height="0.9" fill="#CBECEF"/><rect x="575.2" y="254.5" width="5.6" height="0.8" fill="#DDF3F4"/></g>
<rect x="575.2" y="206.2" width="5.6" height="52.1" rx="2.8" fill="none" stroke="#979797" stroke-width="0.95"/>
<text x="578.4" y="270.8" text-anchor="middle" font-size="10.1" fill="#111" stroke="#111" stroke-width="0.2">17</text>
<polygon points="595.7,187.2 597.9,187.7 597.9,188.7 597.6,189.7 596.2,190.7 597.0,191.7 597.1,192.7 596.9,193.7 596.4,194.7 597.0,195.7 596.7,196.7 598.1,197.7 598.5,198.7 598.0,199.7 597.2,200.7 596.9,201.7 598.2,202.7 597.1,203.7 596.7,204.7 597.0,205.7 596.4,206.7 597.0,207.7 596.5,208.7 596.2,209.7 596.5,210.7 596.3,211.7 596.3,212.7 596.8,213.7 596.3,214.7 596.3,215.7 596.5,216.7 597.0,217.7 598.1,218.7 597.5,219.7 597.0,220.7 597.1,221.7 596.9,222.7 598.1,223.7 598.1,224.7 597.9,225.7 596.9,226.7 596.9,227.7 596.4,228.7 596.3,229.7 597.0,230.7 596.7,231.7 597.9,232.7 597.0,233.7 596.3,234.7 598.7,235.7 604.2,236.7 597.3,237.7 597.4,238.7 596.8,239.7 597.7,240.7 598.3,241.7 597.8,242.7 598.1,243.7 598.1,244.7 597.6,245.7 596.9,246.7 597.5,247.7 598.0,248.7 598.6,249.7 598.6,250.7 598.2,251.7 597.1,252.7 596.3,253.7 596.9,254.7 596.9,255.7 595.7,256.2" fill="#F58A5C" fill-opacity="0.85"/>
<g clip-path="url(#cp17_0)"><rect x="589.6" y="185.2" width="5.6" height="16.3" fill="#F3FAFA"/><rect x="589.6" y="186.7" width="5.6" height="0.8" fill="#DDF3F4"/><rect x="589.6" y="189.0" width="5.6" height="1.0" fill="#CBECEF"/><rect x="589.6" y="191.3" width="5.6" height="1.0" fill="#DDF3F4"/><rect x="589.6" y="194.6" width="5.6" height="0.5" fill="#D4EFF1"/><rect x="589.6" y="197.7" width="5.6" height="0.9" fill="#E5F6F7"/></g>
<rect x="589.6" y="185.2" width="5.6" height="16.3" rx="2.8" fill="none" stroke="#979797" stroke-width="0.95"/>
<g clip-path="url(#cp17_1)"><rect x="589.6" y="201.5" width="5.6" height="56.8" fill="#F3FAFA"/><rect x="589.6" y="203.0" width="5.6" height="0.9" fill="#E5F6F7"/><rect x="589.6" y="205.1" width="5.6" height="0.5" fill="#E5F6F7"/><rect x="589.6" y="206.7" width="5.6" height="1.0" fill="#CBECEF"/><rect x="589.6" y="209.1" width="5.6" height="1.0" fill="#E5F6F7"/><rect x="589.6" y="211.5" width="5.6" height="0.5" fill="#DDF3F4"/><rect x="589.6" y="213.1" width="5.6" height="0.8" fill="#DDF3F4"/><rect x="589.6" y="215.7" width="5.6" height="0.8" fill="#D4EFF1"/><rect x="589.6" y="217.3" width="5.6" height="1.1" fill="#DDF3F4"/><rect x="589.6" y="220.1" width="5.6" height="1.0" fill="#D4EFF1"/><rect x="589.6" y="223.1" width="5.6" height="0.6" fill="#CBECEF"/><rect x="589.6" y="225.8" width="5.6" height="0.8" fill="#DDF3F4"/><rect x="589.6" y="228.9" width="5.6" height="0.7" fill="#E5F6F7"/><rect x="589.6" y="232.1" width="5.6" height="1.1" fill="#DDF3F4"/><rect x="589.6" y="235.5" width="5.6" height="0.5" fill="#D4EFF1"/><rect x="589.6" y="237.0" width="5.6" height="0.8" fill="#D4EFF1"/><rect x="589.6" y="239.0" width="5.6" height="0.5" fill="#CBECEF"/><rect x="589.6" y="240.9" width="5.6" height="0.5" fill="#E5F6F7"/><rect x="589.6" y="242.6" width="5.6" height="0.4" fill="#E5F6F7"/><rect x="589.6" y="244.2" width="5.6" height="0.6" fill="#E5F6F7"/><rect x="589.6" y="245.9" width="5.6" height="0.6" fill="#D4EFF1"/><rect x="589.6" y="247.5" width="5.6" height="0.9" fill="#E5F6F7"/><rect x="589.6" y="250.7" width="5.6" height="0.9" fill="#DDF3F4"/><rect x="589.6" y="252.9" width="5.6" height="0.4" fill="#E5F6F7"/><rect x="589.6" y="255.1" width="5.6" height="1.1" fill="#E5F6F7"/></g>
<rect x="589.6" y="201.5" width="5.6" height="56.8" rx="2.8" fill="none" stroke="#979797" stroke-width="0.95"/>
<text x="592.8" y="270.8" text-anchor="middle" font-size="10.1" fill="#111" stroke="#111" stroke-width="0.2">18</text>
<polygon points="615.8,207.3 616.7,207.8 616.9,208.8 617.0,209.8 617.0,210.8 616.9,211.8 618.4,212.8 617.0,213.8 617.7,214.8 616.8,215.8 617.0,216.8 617.1,217.8 617.0,218.8 616.5,219.8 616.8,220.8 617.7,221.8 618.7,222.8 617.8,223.8 617.2,224.8 617.0,225.8 617.0,226.8 617.2,227.8 617.1,228.8 617.3,229.8 617.9,230.8 617.2,231.8 616.7,232.8 616.4,233.8 616.5,234.8 617.0,235.8 617.7,236.8 619.0,237.8 621.2,238.8 618.7,239.8 616.4,240.8 616.7,241.8 616.3,242.8 616.6,243.8 616.6,244.8 616.9,245.8 617.1,246.8 617.8,247.8 617.2,248.8 617.8,249.8 618.2,250.8 617.2,251.8 616.6,252.8 617.0,253.8 616.9,254.8 616.4,255.8 615.8,256.3" fill="#F58A5C" fill-opacity="0.85"/>
<g clip-path="url(#cp18_0)"><rect x="609.7" y="205.3" width="5.6" height="22.9" fill="#F3FAFA"/><rect x="609.7" y="206.8" width="5.6" height="0.7" fill="#DDF3F4"/><rect x="609.7" y="209.1" width="5.6" height="0.5" fill="#E5F6F7"/><rect x="609.7" y="211.9" width="5.6" height="1.0" fill="#E5F6F7"/><rect x="609.7" y="214.8" width="5.6" height="0.8" fill="#D4EFF1"/><rect x="609.7" y="217.7" width="5.6" height="0.9" fill="#CBECEF"/><rect x="609.7" y="221.3" width="5.6" height="0.5" fill="#E5F6F7"/><rect x="609.7" y="223.5" width="5.6" height="0.8" fill="#CBECEF"/><rect x="609.7" y="225.4" width="5.6" height="0.8" fill="#E5F6F7"/><rect x="609.7" y="213.3" width="5.6" height="1.3" fill="#4DB890"/></g>
<rect x="609.7" y="205.3" width="5.6" height="22.9" rx="2.8" fill="none" stroke="#979797" stroke-width="0.95"/>
<g clip-path="url(#cp18_1)"><rect x="609.7" y="228.2" width="5.6" height="30.1" fill="#F3FAFA"/><rect x="609.7" y="229.7" width="5.6" height="0.6" fill="#DDF3F4"/><rect x="609.7" y="231.4" width="5.6" height="0.4" fill="#D4EFF1"/><rect x="609.7" y="232.6" width="5.6" height="0.7" fill="#CBECEF"/><rect x="609.7" y="236.2" width="5.6" height="0.7" fill="#D4EFF1"/><rect x="609.7" y="237.9" width="5.6" height="1.0" fill="#E5F6F7"/><rect x="609.7" y="240.3" width="5.6" height="0.9" fill="#D4EFF1"/><rect x="609.7" y="243.8" width="5.6" height="0.7" fill="#E5F6F7"/><rect x="609.7" y="245.5" width="5.6" height="0.4" fill="#DDF3F4"/><rect x="609.7" y="248.1" width="5.6" height="1.0" fill="#DDF3F4"/><rect x="609.7" y="251.2" width="5.6" height="0.4" fill="#CBECEF"/><rect x="609.7" y="254.2" width="5.6" height="0.7" fill="#CBECEF"/></g>
<rect x="609.7" y="228.2" width="5.6" height="30.1" rx="2.8" fill="none" stroke="#979797" stroke-width="0.95"/>
<text x="612.9" y="270.8" text-anchor="middle" font-size="10.1" fill="#111" stroke="#111" stroke-width="0.2">19</text>
<polygon points="630.9,202.0 634.4,202.5 633.7,203.5 632.2,204.5 632.3,205.5 631.9,206.5 632.3,207.5 632.5,208.5 631.8,209.5 631.5,210.5 631.8,211.5 631.9,212.5 632.1,213.5 634.1,214.5 632.7,215.5 632.0,216.5 631.7,217.5 631.9,218.5 631.9,219.5 633.0,220.5 632.1,221.5 631.9,222.5 632.0,223.5 632.0,224.5 632.5,225.5 633.7,226.5 632.7,227.5 631.9,228.5 631.7,229.5 632.1,230.5 631.7,231.5 631.8,232.5 632.6,233.5 634.0,234.5 634.4,235.5 632.1,236.5 631.9,237.5 631.9,238.5 633.3,239.5 634.5,240.5 633.7,241.5 632.9,242.5 633.8,243.5 634.0,244.5 634.8,245.5 633.4,246.5 632.9,247.5 631.8,248.5 633.6,249.5 635.6,250.5 633.7,251.5 632.3,252.5 632.2,253.5 631.8,254.5 631.6,255.5 630.9,256.0" fill="#F58A5C" fill-opacity="0.85"/>
<g clip-path="url(#cp19_0)"><rect x="624.8" y="200.0" width="5.6" height="25.0" fill="#F3FAFA"/><rect x="624.8" y="201.5" width="5.6" height="0.8" fill="#DDF3F4"/><rect x="624.8" y="203.9" width="5.6" height="0.5" fill="#CBECEF"/><rect x="624.8" y="207.4" width="5.6" height="0.7" fill="#D4EFF1"/><rect x="624.8" y="209.5" width="5.6" height="0.9" fill="#DDF3F4"/><rect x="624.8" y="213.0" width="5.6" height="1.0" fill="#CBECEF"/><rect x="624.8" y="216.8" width="5.6" height="0.7" fill="#CBECEF"/><rect x="624.8" y="219.0" width="5.6" height="0.7" fill="#DDF3F4"/><rect x="624.8" y="222.3" width="5.6" height="0.9" fill="#DDF3F4"/></g>
<rect x="624.8" y="200.0" width="5.6" height="25.0" rx="2.8" fill="none" stroke="#979797" stroke-width="0.95"/>
<g clip-path="url(#cp19_1)"><rect x="624.8" y="225.0" width="5.6" height="33.3" fill="#F3FAFA"/><rect x="624.8" y="226.5" width="5.6" height="1.0" fill="#DDF3F4"/><rect x="624.8" y="229.4" width="5.6" height="1.0" fill="#DDF3F4"/><rect x="624.8" y="231.5" width="5.6" height="0.8" fill="#CBECEF"/><rect x="624.8" y="235.2" width="5.6" height="0.6" fill="#D4EFF1"/><rect x="624.8" y="237.2" width="5.6" height="0.7" fill="#D4EFF1"/><rect x="624.8" y="240.8" width="5.6" height="0.6" fill="#E5F6F7"/><rect x="624.8" y="242.2" width="5.6" height="1.0" fill="#E5F6F7"/><rect x="624.8" y="245.7" width="5.6" height="0.5" fill="#DDF3F4"/><rect x="624.8" y="247.8" width="5.6" height="0.6" fill="#D4EFF1"/><rect x="624.8" y="250.2" width="5.6" height="0.7" fill="#D4EFF1"/><rect x="624.8" y="252.3" width="5.6" height="0.6" fill="#D4EFF1"/><rect x="624.8" y="254.5" width="5.6" height="1.1" fill="#D4EFF1"/></g>
<rect x="624.8" y="225.0" width="5.6" height="33.3" rx="2.8" fill="none" stroke="#979797" stroke-width="0.95"/>
<text x="628.0" y="270.8" text-anchor="middle" font-size="10.1" fill="#111" stroke="#111" stroke-width="0.2">20</text>
<polygon points="646.0,230.2 647.0,230.7 647.1,231.7 647.4,232.7 648.4,233.7 648.6,234.7 647.5,235.7 646.9,236.7 647.3,237.7 646.9,238.7 646.8,239.7 646.6,240.7 646.6,241.7 647.9,242.7 649.4,243.7 648.9,244.7 647.3,245.7 647.9,246.7 650.1,247.7 651.7,248.7 649.7,249.7 647.5,250.7 647.1,251.7 647.0,252.7 646.5,253.7 646.7,254.7 647.2,255.7 646.0,256.2" fill="#F58A5C" fill-opacity="0.85"/>
<g clip-path="url(#cp20_0)"><rect x="639.9" y="216.3" width="5.6" height="10.9" fill="#FFFFFF"/></g>
<rect x="639.9" y="216.3" width="5.6" height="10.9" rx="2.8" fill="none" stroke="#979797" stroke-width="0.95"/>
<g clip-path="url(#cp20_1)"><rect x="639.9" y="227.2" width="5.6" height="31.1" fill="#F3FAFA"/><rect x="639.9" y="228.7" width="5.6" height="1.0" fill="#DDF3F4"/><rect x="639.9" y="232.3" width="5.6" height="0.6" fill="#DDF3F4"/><rect x="639.9" y="234.2" width="5.6" height="0.5" fill="#CBECEF"/><rect x="639.9" y="235.9" width="5.6" height="0.6" fill="#E5F6F7"/><rect x="639.9" y="238.4" width="5.6" height="0.4" fill="#DDF3F4"/><rect x="639.9" y="241.4" width="5.6" height="0.4" fill="#E5F6F7"/><rect x="639.9" y="242.8" width="5.6" height="0.7" fill="#D4EFF1"/><rect x="639.9" y="246.3" width="5.6" height="0.9" fill="#D4EFF1"/><rect x="639.9" y="248.9" width="5.6" height="1.0" fill="#D4EFF1"/><rect x="639.9" y="252.0" width="5.6" height="0.6" fill="#CBECEF"/><rect x="639.9" y="254.8" width="5.6" height="0.7" fill="#D4EFF1"/></g>
<rect x="639.9" y="227.2" width="5.6" height="31.1" rx="2.8" fill="none" stroke="#979797" stroke-width="0.95"/>
<text x="643.1" y="270.8" text-anchor="middle" font-size="10.1" fill="#111" stroke="#111" stroke-width="0.2">21</text>
<polygon points="661.1,228.0 666.6,228.5 664.3,229.5 662.6,230.5 662.5,231.5 661.8,232.5 661.9,233.5 661.9,234.5 663.2,235.5 664.3,236.5 663.5,237.5 662.6,238.5 662.5,239.5 663.9,240.5 665.2,241.5 664.8,242.5 665.7,243.5 665.3,244.5 663.6,245.5 662.4,246.5 663.3,247.5 664.9,248.5 667.5,249.5 664.9,250.5 662.9,251.5 663.0,252.5 662.1,253.5 662.3,254.5 662.3,255.5 661.1,256.0" fill="#F58A5C" fill-opacity="0.85"/>
<g clip-path="url(#cp21_0)"><rect x="655.0" y="212.5" width="5.6" height="12.5" fill="#FFFFFF"/></g>
<rect x="655.0" y="212.5" width="5.6" height="12.5" rx="2.8" fill="none" stroke="#979797" stroke-width="0.95"/>
<g clip-path="url(#cp21_1)"><rect x="655.0" y="225.0" width="5.6" height="33.3" fill="#F3FAFA"/><rect x="655.0" y="226.5" width="5.6" height="0.7" fill="#CBECEF"/><rect x="655.0" y="229.5" width="5.6" height="0.4" fill="#E5F6F7"/><rect x="655.0" y="232.6" width="5.6" height="0.6" fill="#E5F6F7"/><rect x="655.0" y="234.8" width="5.6" height="0.6" fill="#D4EFF1"/><rect x="655.0" y="237.0" width="5.6" height="0.8" fill="#E5F6F7"/><rect x="655.0" y="240.6" width="5.6" height="0.8" fill="#D4EFF1"/><rect x="655.0" y="243.1" width="5.6" height="1.0" fill="#DDF3F4"/><rect x="655.0" y="246.3" width="5.6" height="0.7" fill="#D4EFF1"/><rect x="655.0" y="249.4" width="5.6" height="1.1" fill="#D4EFF1"/><rect x="655.0" y="251.6" width="5.6" height="0.9" fill="#D4EFF1"/><rect x="655.0" y="255.0" width="5.6" height="0.6" fill="#DDF3F4"/></g>
<rect x="655.0" y="225.0" width="5.6" height="33.3" rx="2.8" fill="none" stroke="#979797" stroke-width="0.95"/>
<text x="658.2" y="270.8" text-anchor="middle" font-size="10.1" fill="#111" stroke="#111" stroke-width="0.2">22</text>
<polygon points="676.1,118.4 676.8,118.9 676.9,119.9 676.9,120.9 677.9,121.9 678.3,122.9 678.1,123.9 678.0,124.9 677.5,125.9 677.5,126.9 677.3,127.9 677.5,128.9 676.8,129.9 677.1,130.9 676.9,131.9 676.9,132.9 677.3,133.9 676.8,134.9 677.1,135.9 677.3,136.9 677.4,137.9 677.1,138.9 678.2,139.9 678.9,140.9 678.8,141.9 677.1,142.9 677.4,143.9 677.1,144.9 678.0,145.9 678.0,146.9 678.1,147.9 677.3,148.9 676.7,149.9 677.2,150.9 678.2,151.9 678.7,152.9 677.8,153.9 676.7,154.9 677.3,155.9 677.1,156.9 676.7,157.9 677.3,158.9 677.3,159.9 676.8,160.9 678.2,161.9 679.2,162.9 677.6,163.9 676.6,164.9 677.4,165.9 677.3,166.9 676.7,167.9 677.3,168.9 677.3,169.9 677.2,170.9 677.3,171.9 678.7,172.9 677.0,173.9 678.9,174.9 678.8,175.9 678.4,176.9 677.9,177.9 677.2,178.9 677.4,179.9 677.1,180.9 676.8,181.9 676.8,182.9 677.1,183.9 676.7,184.9 677.4,185.9 677.4,186.9 676.8,187.9 677.2,188.9 677.2,189.9 676.7,190.9 677.3,191.9 677.3,192.9 676.9,193.9 676.7,194.9 676.9,195.9 677.3,196.9 677.0,197.9 677.8,198.9 678.1,199.9 678.2,200.9 677.6,201.9 677.4,202.9 676.7,203.9 676.7,204.9 677.3,205.9 676.7,206.9 677.2,207.9 676.7,208.9 676.8,209.9 677.2,210.9 677.4,211.9 677.7,212.9 678.4,213.9 677.3,214.9 676.9,215.9 676.8,216.9 677.6,217.9 678.8,218.9 677.6,219.9 677.1,220.9 677.2,221.9 678.0,222.9 680.1,223.9 678.1,224.9 676.9,225.9 677.3,226.9 676.8,227.9 677.9,228.9 679.5,229.9 680.3,230.9 678.5,231.9 677.0,232.9 677.3,233.9 678.9,234.9 677.8,235.9 677.5,236.9 678.1,237.9 677.9,238.9 677.4,239.9 678.3,240.9 677.3,241.9 677.1,242.9 677.3,243.9 677.3,244.9 678.1,245.9 678.0,246.9 677.0,247.9 677.1,248.9 678.1,249.9 677.6,250.9 676.9,251.9 676.7,252.9 677.2,253.9 677.3,254.9 676.1,255.4" fill="#F58A5C" fill-opacity="0.85"/>
<g clip-path="url(#cp22_0)"><rect x="670.0" y="116.4" width="5.6" height="55.9" fill="#F3FAFA"/><rect x="670.0" y="117.9" width="5.6" height="0.8" fill="#DDF3F4"/><rect x="670.0" y="121.6" width="5.6" height="0.8" fill="#E5F6F7"/><rect x="670.0" y="123.9" width="5.6" height="0.7" fill="#E5F6F7"/><rect x="670.0" y="127.0" width="5.6" height="0.4" fill="#E5F6F7"/><rect x="670.0" y="129.5" width="5.6" height="0.5" fill="#D4EFF1"/><rect x="670.0" y="132.6" width="5.6" height="0.4" fill="#CBECEF"/><rect x="670.0" y="135.6" width="5.6" height="1.0" fill="#DDF3F4"/><rect x="670.0" y="138.5" width="5.6" height="0.6" fill="#E5F6F7"/><rect x="670.0" y="141.1" width="5.6" height="0.4" fill="#D4EFF1"/><rect x="670.0" y="142.7" width="5.6" height="0.5" fill="#D4EFF1"/><rect x="670.0" y="144.9" width="5.6" height="1.0" fill="#CBECEF"/><rect x="670.0" y="147.5" width="5.6" height="0.5" fill="#CBECEF"/><rect x="670.0" y="150.3" width="5.6" height="0.6" fill="#D4EFF1"/><rect x="670.0" y="151.8" width="5.6" height="0.6" fill="#E5F6F7"/><rect x="670.0" y="154.6" width="5.6" height="0.6" fill="#E5F6F7"/><rect x="670.0" y="158.2" width="5.6" height="0.6" fill="#E5F6F7"/><rect x="670.0" y="159.9" width="5.6" height="1.0" fill="#E5F6F7"/><rect x="670.0" y="163.8" width="5.6" height="1.0" fill="#DDF3F4"/><rect x="670.0" y="166.9" width="5.6" height="0.9" fill="#E5F6F7"/><rect x="670.0" y="170.3" width="5.6" height="0.4" fill="#CBECEF"/></g>
<rect x="670.0" y="116.4" width="5.6" height="55.9" rx="2.8" fill="none" stroke="#979797" stroke-width="0.95"/>
<g clip-path="url(#cp22_1)"><rect x="670.0" y="172.3" width="5.6" height="86.0" fill="#F3FAFA"/><rect x="670.0" y="173.8" width="5.6" height="0.9" fill="#DDF3F4"/><rect x="670.0" y="176.9" width="5.6" height="0.5" fill="#CBECEF"/><rect x="670.0" y="179.0" width="5.6" height="0.8" fill="#CBECEF"/><rect x="670.0" y="180.7" width="5.6" height="0.7" fill="#E5F6F7"/><rect x="670.0" y="183.9" width="5.6" height="0.9" fill="#CBECEF"/><rect x="670.0" y="186.7" width="5.6" height="0.8" fill="#DDF3F4"/><rect x="670.0" y="188.9" width="5.6" height="0.9" fill="#CBECEF"/><rect x="670.0" y="191.9" width="5.6" height="0.7" fill="#CBECEF"/><rect x="670.0" y="195.2" width="5.6" height="1.1" fill="#E5F6F7"/><rect x="670.0" y="197.3" width="5.6" height="1.0" fill="#D4EFF1"/><rect x="670.0" y="200.4" width="5.6" height="0.9" fill="#CBECEF"/><rect x="670.0" y="203.2" width="5.6" height="0.7" fill="#DDF3F4"/><rect x="670.0" y="205.7" width="5.6" height="0.4" fill="#DDF3F4"/><rect x="670.0" y="207.7" width="5.6" height="0.9" fill="#CBECEF"/><rect x="670.0" y="210.1" width="5.6" height="0.9" fill="#DDF3F4"/><rect x="670.0" y="213.2" width="5.6" height="0.7" fill="#DDF3F4"/><rect x="670.0" y="215.3" width="5.6" height="0.7" fill="#DDF3F4"/><rect x="670.0" y="218.4" width="5.6" height="0.5" fill="#CBECEF"/><rect x="670.0" y="220.7" width="5.6" height="0.4" fill="#CBECEF"/><rect x="670.0" y="222.6" width="5.6" height="0.9" fill="#DDF3F4"/><rect x="670.0" y="224.7" width="5.6" height="0.9" fill="#D4EFF1"/><rect x="670.0" y="227.3" width="5.6" height="0.8" fill="#D4EFF1"/><rect x="670.0" y="229.5" width="5.6" height="0.9" fill="#E5F6F7"/><rect x="670.0" y="231.9" width="5.6" height="1.0" fill="#CBECEF"/><rect x="670.0" y="235.4" width="5.6" height="0.9" fill="#CBECEF"/><rect x="670.0" y="237.6" width="5.6" height="1.1" fill="#D4EFF1"/><rect x="670.0" y="240.0" width="5.6" height="0.6" fill="#DDF3F4"/><rect x="670.0" y="243.1" width="5.6" height="0.6" fill="#CBECEF"/><rect x="670.0" y="244.5" width="5.6" height="1.0" fill="#CBECEF"/><rect x="670.0" y="246.9" width="5.6" height="0.8" fill="#CBECEF"/><rect x="670.0" y="248.8" width="5.6" height="0.7" fill="#CBECEF"/><rect x="670.0" y="251.0" width="5.6" height="0.8" fill="#E5F6F7"/><rect x="670.0" y="253.1" width="5.6" height="0.8" fill="#E5F6F7"/><rect x="670.0" y="255.8" width="5.6" height="0.7" fill="#D4EFF1"/><rect x="670.0" y="182.6" width="5.6" height="1" fill="#6CC6A8"/></g>
<rect x="670.0" y="172.3" width="5.6" height="86.0" rx="2.8" fill="none" stroke="#979797" stroke-width="0.95"/>
<text x="673.2" y="270.8" text-anchor="middle" font-size="10.1" fill="#111" stroke="#111" stroke-width="0.2">X</text>
<defs><linearGradient id="gd" x1="0" x2="1" y1="0" y2="0"><stop offset="0" stop-color="#F0FAFA"/><stop offset="0.5" stop-color="#8ED2B4"/><stop offset="1" stop-color="#2E9E5E"/></linearGradient></defs>
<text x="645" y="43.8" text-anchor="middle" font-size="7.2" fill="#222">gene density</text>
<rect x="625.6" y="46.5" width="38.4" height="6" fill="url(#gd)"/>
<text x="623.5" y="60.5" font-size="7.2" fill="#222">Low</text>
<text x="653.6" y="61" font-size="7.2" fill="#222">High</text>
<text x="0.3" y="11" font-size="15" fill="#000">a</text>
<rect x="63.8" y="24.8" width="43.8" height="19.6" fill="#fff" stroke="#E2262B" stroke-width="1.5"/>
<rect x="63.8" y="51.5" width="43.6" height="19.7" fill="#fff" stroke="#E2262B" stroke-width="1.5"/>
<rect x="63.8" y="77.6" width="43.2" height="17.8" fill="#fff" stroke="#E2262B" stroke-width="1.5"/>
<path d="M66.2,40 A10,10 0 0 1 81.5,29.5" fill="none" stroke="#C9A0C8" stroke-width="0.5" stroke-dasharray="1.5,1"/>
<path d="M66,33.6 Q74,30.8 83,35.4" fill="none" stroke="#C8637E" stroke-width="1"/>
<path d="M66,34.7 Q74,32.2 83,36.5" fill="none" stroke="#8CC152" stroke-width="1.2"/>
<path d="M66,35.9 Q74,33.6 83,37.6" fill="none" stroke="#EFC645" stroke-width="1.2"/>
<path d="M66.5,37.1 Q75,35 83,38.6" fill="none" stroke="#62B7B4" stroke-width="1"/>
<text x="85" y="35" font-size="5.4" font-weight="bold" fill="#2B4170">PCAWG</text>
<rect x="85.2" y="36.4" width="19.6" height="0.8" fill="#BBB"/><rect x="86" y="38.2" width="18.6" height="0.8" fill="#C8C8C8"/>
<text x="77" y="60.2" text-anchor="middle" style='font-family:"Liberation Serif",serif' font-size="7.5" font-weight="bold" fill="#111" stroke="#111" stroke-width="0.25">ESCC</text>
<text x="78.5" y="67.3" text-anchor="middle" style='font-family:"Liberation Serif",serif' font-size="6.5" font-weight="bold" fill="#111" stroke="#111" stroke-width="0.15">phase I/II</text>
<path d="M95.5,53 L95.5,70 L106,70 L106,55 Q101,53 98,53 Z" fill="#FBF4F2" stroke="#E3B5B0" stroke-width="0.6"/>
<line x1="99" y1="60" x2="105" y2="60" stroke="#9CC" stroke-width="0.5"/><line x1="99" y1="66" x2="105" y2="66" stroke="#9CC" stroke-width="0.5"/>
<text x="85.1" y="90.6" text-anchor="middle" style='font-family:"Liberation Serif",serif' font-size="10.6" font-weight="bold" fill="#111">DSMNC</text>
<polyline points="107.6,34.6 127,34.6 127,86.7 107,86.7" fill="none" stroke="#E2262B" stroke-width="1"/>
<line x1="107.4" y1="61.2" x2="151" y2="61.2" stroke="#E2262B" stroke-width="1"/>
<path d="M154.3,61.2 L149.5,58.9 L149.5,63.5 Z" fill="#E2262B"/>
<rect x="154.6" y="39.2" width="64.9" height="42.5" rx="6.3" fill="#fff" stroke="#C96F35" stroke-width="1.2"/>
<text x="187.2" y="63.7" text-anchor="middle" font-size="9.4" font-weight="bold" fill="#111">PIVAR</text>
<line x1="187.2" y1="81.8" x2="187.2" y2="124.5" stroke="#E2262B" stroke-width="1"/>
<path d="M187.2,127.6 L184.9,123.3 L189.5,123.3 Z" fill="#E2262B"/>
<polygon points="206.7,159.1 199.5,152.6 197.0,158.6" fill="#E2262B"/>
<polygon points="195.6,170.2 195.1,160.5 189.1,163.0" fill="#E2262B"/>
<polygon points="180.0,170.2 186.5,163.0 180.5,160.5" fill="#E2262B"/>
<polygon points="168.9,159.1 178.6,158.6 176.1,152.6" fill="#E2262B"/>
<polygon points="168.9,143.5 176.1,150.0 178.6,144.0" fill="#E2262B"/>
<polygon points="180.0,132.4 180.5,142.1 186.5,139.6" fill="#E2262B"/>
<polygon points="195.6,132.4 189.1,139.6 195.1,142.1" fill="#E2262B"/>
<polygon points="206.7,143.5 197.0,144.0 199.5,150.0" fill="#E2262B"/>
<circle cx="187.8" cy="151.3" r="10.3" fill="#E2262B"/>
<text x="188.20000000000002" y="153.8" text-anchor="middle" font-size="7.1" fill="#fff">pISNV</text>
<line x1="187.8" y1="168.3" x2="187.8" y2="173.5" stroke="#E2262B" stroke-width="1.6"/>
<polyline points="139.6,140.5 139.6,152.3 162,152.3" fill="none" stroke="#C8353A" stroke-width="1"/>
<path d="M165.5,152.3 L161,150.1 L161,154.5 Z" fill="#C8353A"/>
<polyline points="212.5,153.2 233.8,153.2 233.8,144" fill="none" stroke="#C8353A" stroke-width="1"/>
<path d="M233.8,140.5 L231.6,145 L236,145 Z" fill="#C8353A"/>
<defs><radialGradient id="gg" cx="0.7" cy="0.5" r="0.7"><stop offset="0" stop-color="#FFFFFF"/><stop offset="0.45" stop-color="#A6D785"/><stop offset="1" stop-color="#4E9E2E"/></radialGradient><radialGradient id="og" cx="0.35" cy="0.4" r="0.7"><stop offset="0" stop-color="#F7A760"/><stop offset="1" stop-color="#E9782A"/></radialGradient><radialGradient id="pg" cx="0.3" cy="0.5" r="0.8"><stop offset="0" stop-color="#FFFFFF"/><stop offset="1" stop-color="#9A6FC4"/></radialGradient></defs>
<path d="M130.2,115.8 C124,114.8 120.6,118 120.9,121.6 C121.2,125.4 124.5,127.8 130.2,127.3 C127.2,125 126.6,118.6 130.2,115.8 Z" fill="url(#gg)"/>
<ellipse cx="142.4" cy="116.2" rx="8.2" ry="10.2" fill="url(#og)" transform="rotate(-28 142.4 116.2)"/>
<circle cx="147.6" cy="118.8" r="7.2" fill="#fff" stroke="#8FB8E0" stroke-width="1"/>
<rect x="145.2" y="125.5" width="5.2" height="12" fill="#fff"/>
<line x1="145.7" y1="125.6" x2="145.7" y2="137.4" stroke="#8FB8E0" stroke-width="1"/><line x1="149.9" y1="125.6" x2="149.9" y2="137.4" stroke="#8FB8E0" stroke-width="1"/>
<ellipse cx="137.8" cy="131.7" rx="6.6" ry="5.5" fill="#E6F6F9" stroke="#7FCFDA" stroke-width="1"/>
<rect x="134" y="128.2" width="7" height="1" fill="#6C8FA0" opacity="0.6"/>
<path d="M150.6,125.6 Q156.2,131 150.6,136.8 Z" fill="url(#pg)" stroke="#9370C0" stroke-width="0.6"/>
<line x1="123.2" y1="137.9" x2="158.2" y2="137.9" stroke="#A8CBEA" stroke-width="1.2"/>
<path d="M217.6,118.5 C216.6,110 222,106.7 228,106.7 C234,106.7 239.4,110 238.4,118.5 L234.6,118.5 A6.7,6.7 0 0 0 221.2,118.5 Z" fill="url(#og)"/>
<rect x="225" y="108.5" width="6" height="0.9" fill="#7A4A2A" opacity="0.5"/>
<circle cx="227.9" cy="119.3" r="6.7" fill="#fff" stroke="#8FB8E0" stroke-width="1"/>
<ellipse cx="222.6" cy="131.6" rx="4.7" ry="5.6" fill="url(#gg)" transform="rotate(180 222.6 131.6)"/>
<ellipse cx="232.6" cy="131.6" rx="4.7" ry="5.6" fill="url(#gg)"/>
<path d="M225.6,125.6 Q229.8,131.5 225.4,138.4 M230.2,125.6 Q226,131.5 230.4,138.4" fill="none" stroke="#8FB8E0" stroke-width="0.9"/>
<ellipse cx="246.5" cy="118.2" rx="2.9" ry="5.6" fill="url(#pg)" stroke="#9370C0" stroke-width="0.5" transform="rotate(-20 246.5 118.2)"/>
<ellipse cx="245" cy="131.8" rx="6.2" ry="5.2" fill="#E6F6F9" stroke="#7FCFDA" stroke-width="1"/>
<rect x="242" y="128.6" width="6" height="0.9" fill="#6C8FA0" opacity="0.6"/>
<rect x="16.1" y="173.2" width="30.8" height="12.6" fill="#29A8E0"/>
<text x="31.5" y="182.4" text-anchor="middle" font-size="7.4" font-weight="bold" fill="#fff">5'UTR</text>
<rect x="46.9" y="173.2" width="25.4" height="12.6" fill="#3D6DB5"/>
<text x="59.6" y="182.4" text-anchor="middle" font-size="7.4" font-weight="bold" fill="#fff">Exon</text>
<rect x="72.3" y="173.2" width="29.6" height="12.6" fill="#FDBA21"/>
<text x="87.1" y="182.4" text-anchor="middle" font-size="7.4" font-weight="bold" fill="#fff">Intron</text>
<rect x="101.9" y="173.2" width="25.0" height="12.6" fill="#3D6DB5"/>
<text x="114.4" y="182.4" text-anchor="middle" font-size="7.4" font-weight="bold" fill="#fff">Exon</text>
<rect x="126.9" y="173.2" width="32.4" height="12.6" fill="#FDBA21"/>
<text x="143.1" y="182.4" text-anchor="middle" font-size="7.4" font-weight="bold" fill="#fff">Intron</text>
<rect x="159.3" y="173.2" width="26.5" height="12.6" fill="#3D6DB5"/>
<text x="172.6" y="182.4" text-anchor="middle" font-size="7.4" font-weight="bold" fill="#fff">Exon</text>
<rect x="185.8" y="173.2" width="29.7" height="12.6" fill="#2AA84F"/>
<text x="200.7" y="182.4" text-anchor="middle" font-size="7.4" font-weight="bold" fill="#fff">3'UTR</text>
<polyline points="21.2,227.4 21.2,215.7 85.6,215.7 85.6,227.4" fill="none" stroke="#ED7D31" stroke-width="1"/>
<line x1="49.8" y1="215.7" x2="196" y2="187.2" stroke="#ED7D31" stroke-width="1"/>
<polyline points="125.2,228 125.2,216.9 191.5,216.9 191.5,228" fill="none" stroke="#2F5597" stroke-width="1"/>
<line x1="159.4" y1="216.9" x2="197.5" y2="188.5" stroke="#2F5597" stroke-width="1.1"/>
<path d="M199.6,186.6 L194.2,188 L197,191.5 Z" fill="#2F5597"/>
<polyline points="232.4,226 232.4,215.4 305.6,215.4 305.6,226" fill="none" stroke="#70AD47" stroke-width="1"/>
<line x1="269.2" y1="215.4" x2="203" y2="187.2" stroke="#70AD47" stroke-width="1"/>
<path d="M200.9,186.1 L206,186.7 L204.2,190.4 Z" fill="#70AD47"/>
<defs><linearGradient id="hx" x1="0" x2="0" y1="0" y2="1"><stop offset="0" stop-color="#4C7DD0"/><stop offset="1" stop-color="#3562B4"/></linearGradient></defs>
<polygon points="7.2,233.5 14.3,226.9 41.9,226.9 49.0,233.5 49.0,236.8 41.9,243.4 14.3,243.4 7.2,236.8" fill="url(#hx)"/>
<text x="28.1" y="238.1" text-anchor="middle" font-size="8" font-weight="bold" fill="#fff">APA</text>
<polygon points="54.6,234.5 62.6,226.9 93.5,226.9 101.5,234.5 101.5,238.2 93.5,245.8 62.6,245.8 54.6,238.2" fill="url(#hx)"/>
<text x="78.0" y="235.2" text-anchor="middle" font-size="6.4" font-weight="bold" fill="#fff">APA</text>
<text x="78.0" y="242.4" text-anchor="middle" font-size="6.4" font-weight="bold" fill="#fff">regulators</text>
<polygon points="108.8,234.7 116.8,227.9 147.9,227.9 155.9,234.7 155.9,238.2 147.9,245.0 116.8,245.0 108.8,238.2" fill="url(#hx)"/>
<text x="132.3" y="239.3" text-anchor="middle" font-size="8" font-weight="bold" fill="#fff">RMVar</text>
<polygon points="160.2,234.7 168.3,227.9 199.5,227.9 207.6,234.7 207.6,238.2 199.5,245.0 168.3,245.0 160.2,238.2" fill="url(#hx)"/>
<text x="183.9" y="235.2" text-anchor="middle" font-size="6.4" font-weight="bold" fill="#fff">m6A</text>
<text x="183.9" y="242.4" text-anchor="middle" font-size="6.4" font-weight="bold" fill="#fff">regulators</text>
<polygon points="215.4,233.5 224.0,225.9 257.1,225.9 265.7,233.5 265.7,237.2 257.1,244.8 224.0,244.8 215.4,237.2" fill="url(#hx)"/>
<text x="240.6" y="234.2" text-anchor="middle" font-size="6.4" font-weight="bold" fill="#fff">miRNASNP</text>
<text x="240.6" y="241.4" text-anchor="middle" font-size="6.4" font-weight="bold" fill="#fff">starbase</text>
<polygon points="271.8,233.8 280.1,226.0 312.2,226.0 320.5,233.8 320.5,237.7 312.2,245.5 280.1,245.5 271.8,237.7" fill="url(#hx)"/>
<text x="296.1" y="234.6" text-anchor="middle" font-size="6.4" font-weight="bold" fill="#fff">TargetScan</text>
<text x="296.1" y="241.8" text-anchor="middle" font-size="6.4" font-weight="bold" fill="#fff">miRanda</text>
<rect x="8.0" y="250.2" width="84.8" height="11.1" rx="1.8" fill="#E4E4E4"/>
<text x="50.4" y="258.4" text-anchor="middle" font-size="7.1" font-weight="bold" fill="#111" stroke="#111" stroke-width="0.15">APA associated SNVs</text>
<rect x="114.1" y="250.7" width="88.7" height="12.5" rx="1.8" fill="#E4E4E4"/>
<text x="158.4" y="259.6" text-anchor="middle" font-size="7.1" font-weight="bold" fill="#111" stroke="#111" stroke-width="0.15">m6A associated SNVs</text>
<rect x="230.1" y="251.0" width="78.2" height="12.2" rx="1.8" fill="#E4E4E4"/>
<text x="269.2" y="259.7" text-anchor="middle" font-size="7.1" font-weight="bold" fill="#111" stroke="#111" stroke-width="0.15">Δ miRNA targeting</text>
</svg></body></html>
